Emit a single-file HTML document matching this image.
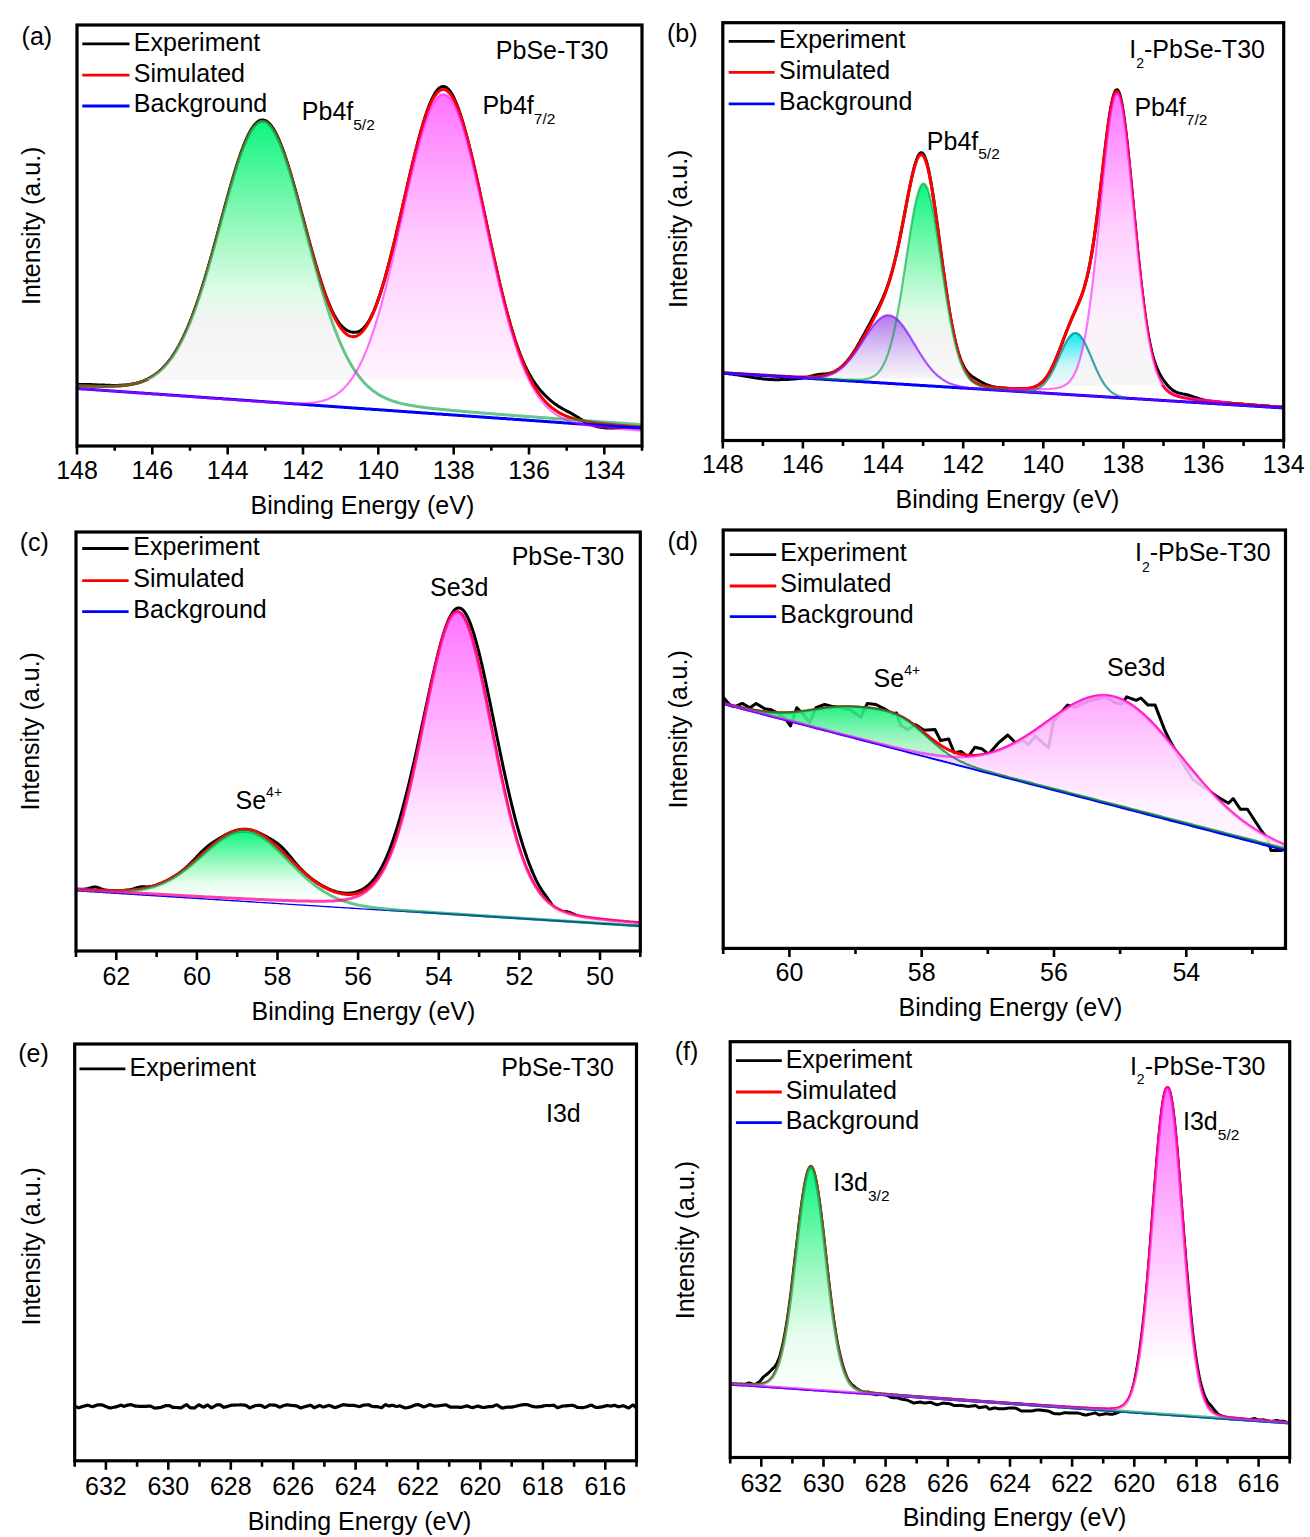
<!DOCTYPE html>
<html><head><meta charset="utf-8"><style>
html,body{margin:0;padding:0;background:#fff;}
svg{display:block;}
text{font-family:"Liberation Sans", sans-serif;fill:#000;}
</style></head><body>
<svg width="1310" height="1537" viewBox="0 0 1310 1537">
<defs><clipPath id="clip1"><rect x="77" y="25" width="565" height="421"/></clipPath><linearGradient id="g1" gradientUnits="userSpaceOnUse" x1="0" y1="121.2" x2="0" y2="380"><stop offset="0" stop-color="#00f57a" stop-opacity="0.95"/><stop offset="0.42" stop-color="#90f8b8" stop-opacity="0.92"/><stop offset="0.66" stop-color="#dcfae6" stop-opacity="0.9"/><stop offset="0.8" stop-color="#f2f2f2" stop-opacity="0.9"/><stop offset="1" stop-color="#f8f8f8" stop-opacity="0.9"/></linearGradient><linearGradient id="g2" gradientUnits="userSpaceOnUse" x1="0" y1="94.3" x2="0" y2="380"><stop offset="0" stop-color="#ff6cff" stop-opacity="0.95"/><stop offset="0.5" stop-color="#ffc4ff" stop-opacity="0.9"/><stop offset="1" stop-color="#fff4ff" stop-opacity="0.9"/></linearGradient><clipPath id="clip2"><rect x="722.8" y="22.7" width="560.9" height="417.8"/></clipPath><linearGradient id="g3" gradientUnits="userSpaceOnUse" x1="0" y1="183.6" x2="0" y2="379"><stop offset="0" stop-color="#00f57a" stop-opacity="0.95"/><stop offset="0.42" stop-color="#90f8b8" stop-opacity="0.92"/><stop offset="0.66" stop-color="#dcfae6" stop-opacity="0.9"/><stop offset="0.8" stop-color="#f2f2f2" stop-opacity="0.9"/><stop offset="1" stop-color="#f8f8f8" stop-opacity="0.9"/></linearGradient><linearGradient id="g4" gradientUnits="userSpaceOnUse" x1="0" y1="333" x2="0" y2="386"><stop offset="0" stop-color="#00e8f0" stop-opacity="0.95"/><stop offset="0.6" stop-color="#c4f5f7" stop-opacity="0.9"/><stop offset="1" stop-color="#f5f5f5" stop-opacity="0.9"/></linearGradient><linearGradient id="g5" gradientUnits="userSpaceOnUse" x1="0" y1="93.3" x2="0" y2="385"><stop offset="0" stop-color="#ff6cff" stop-opacity="0.95"/><stop offset="0.45" stop-color="#ffc8ff" stop-opacity="0.9"/><stop offset="0.75" stop-color="#faeefa" stop-opacity="0.9"/><stop offset="1" stop-color="#f5f5f5" stop-opacity="0.9"/></linearGradient><linearGradient id="g6" gradientUnits="userSpaceOnUse" x1="0" y1="315.4" x2="0" y2="378"><stop offset="0" stop-color="#b070ee" stop-opacity="0.95"/><stop offset="0.6" stop-color="#dcc8f6" stop-opacity="0.9"/><stop offset="1" stop-color="#f5f5f5" stop-opacity="0.9"/></linearGradient><clipPath id="clip3"><rect x="76" y="532" width="564.3" height="419"/></clipPath><linearGradient id="g7" gradientUnits="userSpaceOnUse" x1="0" y1="831.2" x2="0" y2="900.8"><stop offset="0" stop-color="#00f57a" stop-opacity="0.95"/><stop offset="0.45" stop-color="#90f8b8" stop-opacity="0.92"/><stop offset="0.75" stop-color="#e4fcec" stop-opacity="0.9"/><stop offset="1" stop-color="#fbfffc" stop-opacity="0.9"/></linearGradient><linearGradient id="g8" gradientUnits="userSpaceOnUse" x1="0" y1="611.7" x2="0" y2="913.6"><stop offset="0" stop-color="#ff6cff" stop-opacity="0.95"/><stop offset="0.55" stop-color="#ffcaff" stop-opacity="0.9"/><stop offset="0.85" stop-color="#ffffff" stop-opacity="0.9"/><stop offset="1" stop-color="#ffffff" stop-opacity="0.9"/></linearGradient><clipPath id="clip4"><rect x="723.2" y="530" width="562.3" height="418.4"/></clipPath><linearGradient id="g9" gradientUnits="userSpaceOnUse" x1="0" y1="710.8" x2="0" y2="745.5"><stop offset="0" stop-color="#22f080" stop-opacity="0.9"/><stop offset="1" stop-color="#a8f4c4" stop-opacity="0.85"/></linearGradient><linearGradient id="g10" gradientUnits="userSpaceOnUse" x1="0" y1="696.5" x2="0" y2="804.5"><stop offset="0" stop-color="#ffa0ff" stop-opacity="0.9"/><stop offset="1" stop-color="#fff0ff" stop-opacity="0.85"/></linearGradient><clipPath id="clip5"><rect x="74.7" y="1044" width="561.8" height="416.8"/></clipPath><clipPath id="clip6"><rect x="730.2" y="1041.7" width="559.5" height="415.8"/></clipPath><linearGradient id="g11" gradientUnits="userSpaceOnUse" x1="0" y1="1167.2" x2="0" y2="1389.6"><stop offset="0" stop-color="#00f57a" stop-opacity="0.95"/><stop offset="0.45" stop-color="#90f8b8" stop-opacity="0.92"/><stop offset="0.75" stop-color="#e4fcec" stop-opacity="0.9"/><stop offset="1" stop-color="#fbfffc" stop-opacity="0.9"/></linearGradient><linearGradient id="g12" gradientUnits="userSpaceOnUse" x1="0" y1="1087.5" x2="0" y2="1414.5"><stop offset="0" stop-color="#ff6cff" stop-opacity="0.95"/><stop offset="0.6" stop-color="#ffd0ff" stop-opacity="0.9"/><stop offset="0.85" stop-color="#ffffff" stop-opacity="0.9"/><stop offset="1" stop-color="#ffffff" stop-opacity="0.9"/></linearGradient></defs>
<rect width="1310" height="1537" fill="#fff"/>
<g clip-path="url(#clip1)">
<path d="M77 384.5L78 384.5L79 384.5L80 384.5L81 384.5L82 384.5L83 384.5L84 384.5L85 384.5L86 384.5L87 384.5L88 384.6L89 384.6L90 384.6L91 384.6L92 384.7L93 384.7L94 384.7L95 384.8L96 384.8L97 384.9L98 384.9L99 384.9L100 385L101 385L102 385.1L103 385.1L104 385.1L105 385.2L106 385.2L107 385.3L108 385.3L109 385.3L110 385.3L111 385.4L112 385.4L113 385.4L114 385.4L115 385.4L116 385.4L117 385.4L118 385.4L119 385.3L120 385.3L121 385.2L122 385.2L123 385.1L124 385L125 385L126 384.9L127 384.8L128 384.6L129 384.5L130 384.4L131 384.2L132 384L133 383.9L134 383.6L135 383.4L136 383.2L137 382.9L138 382.7L139 382.4L140 382.1L141 381.8L142 381.4L143 381.1L144 380.7L145 380.2L146 379.8L147 379.4L148 378.9L149 378.4L150 377.8L151 377.2L152 376.7L153 376L154 375.4L155 374.7L156 373.9L157 373.2L158 372.4L159 371.6L160 370.7L161 369.8L162 368.8L163 367.8L164 366.8L165 365.7L166 364.6L167 363.4L168 362.2L169 361L170 359.6L171 358.3L172 356.9L173 355.4L174 353.9L175 352.3L176 350.7L177 349L178 347.3L179 345.5L180 343.6L181 341.7L182 339.7L183 337.7L184 335.6L185 333.4L186 331.2L187 329L188 326.6L189 324.2L190 321.8L191 319.3L192 316.7L193 314L194 311.3L195 308.6L196 305.8L197 302.9L198 300L199 297L200 293.9L201 290.8L202 287.7L203 284.5L204 281.3L205 278L206 274.6L207 271.2L208 267.8L209 264.4L210 260.9L211 257.3L212 253.8L213 250.2L214 246.5L215 242.9L216 239.2L217 235.6L218 231.9L219 228.2L220 224.5L221 220.7L222 217L223 213.3L224 209.6L225 206L226 202.3L227 198.7L228 195.1L229 191.5L230 187.9L231 184.4L232 181L233 177.6L234 174.2L235 170.9L236 167.7L237 164.5L238 161.4L239 158.4L240 155.4L241 152.6L242 149.8L243 147.2L244 144.6L245 142.2L246 139.8L247 137.6L248 135.5L249 133.5L250 131.6L251 129.8L252 128.2L253 126.8L254 125.4L255 124.2L256 123.2L257 122.3L258 121.5L259 120.9L260 120.5L261 120.2L262 120L263 120L264 120.2L265 120.5L266 120.9L267 121.5L268 122.3L269 123.2L270 124.2L271 125.4L272 126.8L273 128.3L274 129.9L275 131.6L276 133.5L277 135.5L278 137.7L279 139.9L280 142.3L281 144.8L282 147.4L283 150.1L284 152.8L285 155.7L286 158.7L287 161.7L288 164.9L289 168.1L290 171.4L291 174.7L292 178.1L293 181.6L294 185.1L295 188.6L296 192.2L297 195.8L298 199.5L299 203.1L300 206.8L301 210.6L302 214.3L303 218L304 221.7L305 225.5L306 229.2L307 232.9L308 236.6L309 240.3L310 243.9L311 247.6L312 251.1L313 254.7L314 258.2L315 261.7L316 265.1L317 268.5L318 271.8L319 275.1L320 278.3L321 281.5L322 284.5L323 287.5L324 290.5L325 293.3L326 296.1L327 298.7L328 301.3L329 303.8L330 306.2L331 308.5L332 310.7L333 312.7L334 314.7L335 316.6L336 318.3L337 319.9L338 321.4L339 322.8L340 324.1L341 325.3L342 326.4L343 327.3L344 328.2L345 329L346 329.7L347 330.3L348 330.8L349 331.2L350 331.6L351 331.9L352 332.1L353 332.3L354 332.3L355 332.3L356 332.2L357 332L358 331.7L359 331.3L360 330.8L361 330.2L362 329.5L363 328.6L364 327.6L365 326.5L366 325.2L367 323.9L368 322.3L369 320.7L370 318.9L371 317L372 315L373 312.8L374 310.5L375 308.1L376 305.5L377 302.9L378 300.1L379 297.2L380 294.3L381 291.2L382 288L383 284.7L384 281.3L385 277.9L386 274.3L387 270.7L388 267L389 263.2L390 259.4L391 255.4L392 251.4L393 247.4L394 243.3L395 239.1L396 234.9L397 230.7L398 226.4L399 222.1L400 217.8L401 213.4L402 209.1L403 204.7L404 200.3L405 195.9L406 191.6L407 187.2L408 182.9L409 178.5L410 174.2L411 170L412 165.8L413 161.6L414 157.5L415 153.4L416 149.5L417 145.5L418 141.7L419 137.9L420 134.2L421 130.6L422 127.1L423 123.8L424 120.5L425 117.3L426 114.3L427 111.3L428 108.5L429 105.9L430 103.4L431 101L432 98.8L433 96.8L434 94.9L435 93.2L436 91.7L437 90.4L438 89.2L439 88.3L440 87.5L441 87L442 86.6L443 86.5L444 86.6L445 86.8L446 87.3L447 88L448 88.8L449 89.9L450 91.2L451 92.6L452 94.2L453 96L454 98L455 100.2L456 102.5L457 105L458 107.6L459 110.4L460 113.3L461 116.4L462 119.5L463 122.8L464 126.3L465 129.8L466 133.5L467 137.2L468 141.1L469 145L470 149L471 153.2L472 157.3L473 161.6L474 165.9L475 170.3L476 174.8L477 179.3L478 183.8L479 188.4L480 193L481 197.7L482 202.3L483 207L484 211.7L485 216.4L486 221.1L487 225.8L488 230.5L489 235.2L490 239.9L491 244.5L492 249.1L493 253.7L494 258.2L495 262.7L496 267.2L497 271.6L498 276L499 280.3L500 284.5L501 288.7L502 292.9L503 296.9L504 300.9L505 304.8L506 308.7L507 312.4L508 316.1L509 319.7L510 323.2L511 326.7L512 330L513 333.3L514 336.5L515 339.6L516 342.6L517 345.5L518 348.3L519 351.1L520 353.7L521 356.2L522 358.7L523 361.1L524 363.4L525 365.6L526 367.7L527 369.7L528 371.7L529 373.5L530 375.3L531 377.1L532 378.7L533 380.3L534 381.8L535 383.3L536 384.7L537 386L538 387.3L539 388.6L540 389.8L541 390.9L542 392.1L543 393.1L544 394.2L545 395.2L546 396.2L547 397.2L548 398.1L549 399L550 399.9L551 400.8L552 401.6L553 402.4L554 403.2L555 403.9L556 404.6L557 405.3L558 406L559 406.6L560 407.2L561 407.8L562 408.4L563 409L564 409.5L565 410L566 410.6L567 411.1L568 411.6L569 412.2L570 412.7L571 413.2L572 413.8L573 414.4L574 415L575 415.6L576 416.2L577 416.8L578 417.4L579 418L580 418.7L581 419.3L582 419.9L583 420.5L584 421.1L585 421.6L586 422.2L587 422.7L588 423.2L589 423.7L590 424.1L591 424.5L592 424.9L593 425.3L594 425.6L595 425.9L596 426.2L597 426.5L598 426.7L599 427L600 427.1L601 427.3L602 427.5L603 427.6L604 427.7L605 427.8L606 427.9L607 427.9L608 427.9L609 428L610 428L611 428L612 427.9L613 427.9L614 427.9L615 427.8L616 427.8L617 427.7L618 427.7L619 427.6L620 427.5L621 427.5L622 427.4L623 427.3L624 427.3L625 427.2L626 427.2L627 427.1L628 427.1L629 427.1L630 427.1L631 427L632 427L633 427L634 427L635 427L636 427.1L637 427.1L638 427.1L639 427.1L640 427.2L641 427.2L642 427.3L643 427.3" fill="none" stroke="#000" stroke-width="3" stroke-linejoin="round"/>
<path d="M77 385.7L78 385.7L79 385.8L80 385.8L81 385.8L82 385.9L83 385.9L84 385.9L85 386L86 386L87 386L88 386.1L89 386.1L90 386.1L91 386.2L92 386.2L93 386.2L94 386.2L95 386.3L96 386.3L97 386.3L98 386.3L99 386.3L100 386.3L101 386.4L102 386.4L103 386.4L104 386.4L105 386.4L106 386.4L107 386.4L108 386.3L109 386.3L110 386.3L111 386.3L112 386.3L113 386.2L114 386.2L115 386.2L116 386.1L117 386.1L118 386L119 385.9L120 385.9L121 385.8L122 385.7L123 385.6L124 385.5L125 385.4L126 385.3L127 385.2L128 385L129 384.9L130 384.7L131 384.5L132 384.3L133 384.1L134 383.9L135 383.7L136 383.5L137 383.2L138 382.9L139 382.7L140 382.3L141 382L142 381.7L143 381.3L144 380.9L145 380.5L146 380.1L147 379.6L148 379.1L149 378.6L150 378.1L151 377.5L152 376.9L153 376.3L154 375.7L155 375L156 374.3L157 373.5L158 372.7L159 371.9L160 371L161 370.1L162 369.2L163 368.2L164 367.2L165 366.1L166 365L167 363.9L168 362.7L169 361.4L170 360.1L171 358.8L172 357.4L173 355.9L174 354.4L175 352.8L176 351.2L177 349.5L178 347.8L179 346L180 344.2L181 342.3L182 340.3L183 338.3L184 336.2L185 334.1L186 331.9L187 329.6L188 327.3L189 324.9L190 322.5L191 320L192 317.4L193 314.8L194 312.1L195 309.4L196 306.6L197 303.7L198 300.8L199 297.8L200 294.8L201 291.7L202 288.6L203 285.4L204 282.2L205 278.9L206 275.6L207 272.2L208 268.8L209 265.4L210 261.9L211 258.4L212 254.8L213 251.2L214 247.6L215 244L216 240.4L217 236.7L218 233L219 229.3L220 225.6L221 221.9L222 218.2L223 214.6L224 210.9L225 207.2L226 203.6L227 199.9L228 196.3L229 192.8L230 189.2L231 185.7L232 182.3L233 178.9L234 175.5L235 172.2L236 169L237 165.9L238 162.8L239 159.8L240 156.8L241 154L242 151.3L243 148.6L244 146L245 143.6L246 141.3L247 139L248 136.9L249 134.9L250 133.1L251 131.3L252 129.7L253 128.2L254 126.9L255 125.7L256 124.7L257 123.8L258 123L259 122.4L260 122L261 121.7L262 121.5L263 121.5L264 121.7L265 122L266 122.4L267 123L268 123.8L269 124.7L270 125.7L271 126.9L272 128.3L273 129.7L274 131.4L275 133.1L276 135L277 137L278 139.1L279 141.4L280 143.7L281 146.2L282 148.8L283 151.5L284 154.2L285 157.1L286 160.1L287 163.1L288 166.2L289 169.4L290 172.7L291 176L292 179.4L293 182.9L294 186.4L295 189.9L296 193.5L297 197.1L298 200.7L299 204.4L300 208.1L301 211.8L302 215.5L303 219.2L304 222.9L305 226.6L306 230.3L307 234L308 237.7L309 241.4L310 245L311 248.6L312 252.2L313 255.8L314 259.3L315 262.7L316 266.1L317 269.5L318 272.8L319 276.1L320 279.3L321 282.4L322 285.5L323 288.5L324 291.4L325 294.3L326 297.1L327 299.8L328 302.4L329 305L330 307.4L331 309.8L332 312.1L333 314.3L334 316.4L335 318.4L336 320.3L337 322.1L338 323.8L339 325.4L340 326.9L341 328.4L342 329.6L343 330.8L344 331.9L345 332.9L346 333.8L347 334.5L348 335.2L349 335.7L350 336.1L351 336.4L352 336.6L353 336.7L354 336.6L355 336.5L356 336.2L357 335.8L358 335.3L359 334.6L360 333.9L361 333L362 332L363 330.9L364 329.7L365 328.3L366 326.9L367 325.3L368 323.6L369 321.8L370 319.9L371 317.8L372 315.7L373 313.4L374 311L375 308.6L376 306L377 303.3L378 300.5L379 297.5L380 294.5L381 291.4L382 288.2L383 284.9L384 281.6L385 278.1L386 274.5L387 270.9L388 267.2L389 263.4L390 259.5L391 255.6L392 251.6L393 247.5L394 243.4L395 239.3L396 235.1L397 230.8L398 226.6L399 222.2L400 217.9L401 213.6L402 209.2L403 204.8L404 200.4L405 196L406 191.7L407 187.3L408 183L409 178.7L410 174.4L411 170.1L412 166L413 161.8L414 157.7L415 153.7L416 149.7L417 145.9L418 142.1L419 138.4L420 134.8L421 131.2L422 127.8L423 124.5L424 121.4L425 118.3L426 115.4L427 112.6L428 110L429 107.4L430 105.1L431 102.9L432 100.8L433 98.9L434 97.2L435 95.7L436 94.3L437 93.1L438 92L439 91.2L440 90.5L441 90L442 89.7L443 89.5L444 89.6L445 89.8L446 90.2L447 90.8L448 91.6L449 92.6L450 93.7L451 95L452 96.5L453 98.2L454 100L455 102L456 104.2L457 106.5L458 109L459 111.6L460 114.4L461 117.3L462 120.4L463 123.6L464 126.9L465 130.4L466 133.9L467 137.6L468 141.4L469 145.3L470 149.3L471 153.4L472 157.5L473 161.7L474 166.1L475 170.4L476 174.9L477 179.3L478 183.9L479 188.4L480 193L481 197.7L482 202.4L483 207L484 211.7L485 216.4L486 221.1L487 225.8L488 230.5L489 235.2L490 239.9L491 244.5L492 249.1L493 253.7L494 258.3L495 262.8L496 267.2L497 271.7L498 276L499 280.3L500 284.6L501 288.8L502 293L503 297L504 301L505 305L506 308.9L507 312.7L508 316.4L509 320L510 323.6L511 327.1L512 330.5L513 333.9L514 337.1L515 340.3L516 343.4L517 346.4L518 349.4L519 352.2L520 355L521 357.7L522 360.3L523 362.9L524 365.3L525 367.7L526 370L527 372.3L528 374.4L529 376.5L530 378.5L531 380.5L532 382.4L533 384.2L534 385.9L535 387.6L536 389.2L537 390.8L538 392.3L539 393.7L540 395.1L541 396.4L542 397.7L543 398.9L544 400.1L545 401.2L546 402.3L547 403.3L548 404.3L549 405.2L550 406.1L551 407L552 407.8L553 408.6L554 409.3L555 410L556 410.7L557 411.3L558 412L559 412.6L560 413.1L561 413.7L562 414.2L563 414.7L564 415.1L565 415.6L566 416L567 416.4L568 416.8L569 417.1L570 417.5L571 417.8L572 418.1L573 418.4L574 418.7L575 419L576 419.3L577 419.5L578 419.8L579 420L580 420.2L581 420.4L582 420.6L583 420.8L584 421L585 421.2L586 421.4L587 421.5L588 421.7L589 421.9L590 422L591 422.2L592 422.3L593 422.4L594 422.6L595 422.7L596 422.8L597 423L598 423.1L599 423.2L600 423.3L601 423.4L602 423.5L603 423.6L604 423.7L605 423.8L606 424L607 424.1L608 424.1L609 424.2L610 424.3L611 424.4L612 424.5L613 424.6L614 424.7L615 424.8L616 424.9L617 425L618 425.1L619 425.2L620 425.2L621 425.3L622 425.4L623 425.5L624 425.6L625 425.7L626 425.8L627 425.8L628 425.9L629 426L630 426.1L631 426.2L632 426.3L633 426.3L634 426.4L635 426.5L636 426.6L637 426.7L638 426.7L639 426.8L640 426.9L641 427L642 427.1L643 427.1" fill="none" stroke="#ff0000" stroke-width="3" stroke-linejoin="round"/>
<path d="M77 388.5L78 388.6L79 388.6L80 388.7L81 388.8L82 388.9L83 388.9L84 389L85 389.1L86 389.1L87 389.2L88 389.3L89 389.3L90 389.4L91 389.5L92 389.6L93 389.6L94 389.7L95 389.8L96 389.8L97 389.9L98 390L99 390L100 390.1L101 390.2L102 390.3L103 390.3L104 390.4L105 390.5L106 390.5L107 390.6L108 390.7L109 390.8L110 390.8L111 390.9L112 391L113 391L114 391.1L115 391.2L116 391.2L117 391.3L118 391.4L119 391.5L120 391.5L121 391.6L122 391.7L123 391.7L124 391.8L125 391.9L126 392L127 392L128 392.1L129 392.2L130 392.2L131 392.3L132 392.4L133 392.4L134 392.5L135 392.6L136 392.7L137 392.7L138 392.8L139 392.9L140 392.9L141 393L142 393.1L143 393.1L144 393.2L145 393.3L146 393.4L147 393.4L148 393.5L149 393.6L150 393.6L151 393.7L152 393.8L153 393.9L154 393.9L155 394L156 394.1L157 394.1L158 394.2L159 394.3L160 394.3L161 394.4L162 394.5L163 394.6L164 394.6L165 394.7L166 394.8L167 394.8L168 394.9L169 395L170 395.1L171 395.1L172 395.2L173 395.3L174 395.3L175 395.4L176 395.5L177 395.5L178 395.6L179 395.7L180 395.8L181 395.8L182 395.9L183 396L184 396L185 396.1L186 396.2L187 396.2L188 396.3L189 396.4L190 396.5L191 396.5L192 396.6L193 396.7L194 396.7L195 396.8L196 396.9L197 397L198 397L199 397.1L200 397.2L201 397.2L202 397.3L203 397.4L204 397.4L205 397.5L206 397.6L207 397.7L208 397.7L209 397.8L210 397.9L211 397.9L212 398L213 398.1L214 398.2L215 398.2L216 398.3L217 398.4L218 398.4L219 398.5L220 398.6L221 398.6L222 398.7L223 398.8L224 398.9L225 398.9L226 399L227 399.1L228 399.1L229 399.2L230 399.3L231 399.3L232 399.4L233 399.5L234 399.6L235 399.6L236 399.7L237 399.8L238 399.8L239 399.9L240 400L241 400.1L242 400.1L243 400.2L244 400.3L245 400.3L246 400.4L247 400.5L248 400.5L249 400.6L250 400.7L251 400.8L252 400.8L253 400.9L254 401L255 401L256 401.1L257 401.2L258 401.3L259 401.3L260 401.4L261 401.5L262 401.5L263 401.6L264 401.7L265 401.7L266 401.8L267 401.9L268 402L269 402L270 402.1L271 402.2L272 402.2L273 402.3L274 402.4L275 402.4L276 402.5L277 402.6L278 402.7L279 402.7L280 402.8L281 402.9L282 402.9L283 403L284 403.1L285 403.2L286 403.2L287 403.3L288 403.4L289 403.4L290 403.5L291 403.6L292 403.6L293 403.7L294 403.8L295 403.9L296 403.9L297 404L298 404.1L299 404.1L300 404.2L301 404.3L302 404.3L303 404.4L304 404.5L305 404.6L306 404.6L307 404.7L308 404.8L309 404.8L310 404.9L311 405L312 405.1L313 405.1L314 405.2L315 405.3L316 405.3L317 405.4L318 405.5L319 405.5L320 405.6L321 405.7L322 405.8L323 405.8L324 405.9L325 406L326 406L327 406.1L328 406.2L329 406.3L330 406.3L331 406.4L332 406.5L333 406.5L334 406.6L335 406.7L336 406.7L337 406.8L338 406.9L339 407L340 407L341 407.1L342 407.2L343 407.2L344 407.3L345 407.4L346 407.4L347 407.5L348 407.6L349 407.7L350 407.7L351 407.8L352 407.9L353 407.9L354 408L355 408.1L356 408.2L357 408.2L358 408.3L359 408.4L360 408.4L361 408.5L362 408.6L363 408.6L364 408.7L365 408.8L366 408.9L367 408.9L368 409L369 409.1L370 409.1L371 409.2L372 409.3L373 409.4L374 409.4L375 409.5L376 409.6L377 409.6L378 409.7L379 409.8L380 409.8L381 409.9L382 410L383 410.1L384 410.1L385 410.2L386 410.3L387 410.3L388 410.4L389 410.5L390 410.5L391 410.6L392 410.7L393 410.8L394 410.8L395 410.9L396 411L397 411L398 411.1L399 411.2L400 411.3L401 411.3L402 411.4L403 411.5L404 411.5L405 411.6L406 411.7L407 411.7L408 411.8L409 411.9L410 412L411 412L412 412.1L413 412.2L414 412.2L415 412.3L416 412.4L417 412.5L418 412.5L419 412.6L420 412.7L421 412.7L422 412.8L423 412.9L424 412.9L425 413L426 413.1L427 413.2L428 413.2L429 413.3L430 413.4L431 413.4L432 413.5L433 413.6L434 413.6L435 413.7L436 413.8L437 413.9L438 413.9L439 414L440 414.1L441 414.1L442 414.2L443 414.3L444 414.4L445 414.4L446 414.5L447 414.6L448 414.6L449 414.7L450 414.8L451 414.8L452 414.9L453 415L454 415.1L455 415.1L456 415.2L457 415.3L458 415.3L459 415.4L460 415.5L461 415.5L462 415.6L463 415.7L464 415.8L465 415.8L466 415.9L467 416L468 416L469 416.1L470 416.2L471 416.3L472 416.3L473 416.4L474 416.5L475 416.5L476 416.6L477 416.7L478 416.7L479 416.8L480 416.9L481 417L482 417L483 417.1L484 417.2L485 417.2L486 417.3L487 417.4L488 417.5L489 417.5L490 417.6L491 417.7L492 417.7L493 417.8L494 417.9L495 417.9L496 418L497 418.1L498 418.2L499 418.2L500 418.3L501 418.4L502 418.4L503 418.5L504 418.6L505 418.6L506 418.7L507 418.8L508 418.9L509 418.9L510 419L511 419.1L512 419.1L513 419.2L514 419.3L515 419.4L516 419.4L517 419.5L518 419.6L519 419.6L520 419.7L521 419.8L522 419.8L523 419.9L524 420L525 420.1L526 420.1L527 420.2L528 420.3L529 420.3L530 420.4L531 420.5L532 420.6L533 420.6L534 420.7L535 420.8L536 420.8L537 420.9L538 421L539 421L540 421.1L541 421.2L542 421.3L543 421.3L544 421.4L545 421.5L546 421.5L547 421.6L548 421.7L549 421.7L550 421.8L551 421.9L552 422L553 422L554 422.1L555 422.2L556 422.2L557 422.3L558 422.4L559 422.5L560 422.5L561 422.6L562 422.7L563 422.7L564 422.8L565 422.9L566 422.9L567 423L568 423.1L569 423.2L570 423.2L571 423.3L572 423.4L573 423.4L574 423.5L575 423.6L576 423.7L577 423.7L578 423.8L579 423.9L580 423.9L581 424L582 424.1L583 424.1L584 424.2L585 424.3L586 424.4L587 424.4L588 424.5L589 424.6L590 424.6L591 424.7L592 424.8L593 424.8L594 424.9L595 425L596 425.1L597 425.1L598 425.2L599 425.3L600 425.3L601 425.4L602 425.5L603 425.6L604 425.6L605 425.7L606 425.8L607 425.8L608 425.9L609 426L610 426L611 426.1L612 426.2L613 426.3L614 426.3L615 426.4L616 426.5L617 426.5L618 426.6L619 426.7L620 426.8L621 426.8L622 426.9L623 427L624 427L625 427.1L626 427.2L627 427.2L628 427.3L629 427.4L630 427.5L631 427.5L632 427.6L633 427.7L634 427.7L635 427.8L636 427.9L637 427.9L638 428L639 428.1L640 428.2L641 428.2L642 428.3L643 428.4" fill="none" stroke="#0000ff" stroke-width="3"/>
<path d="M147 379.5L148 379L149 378.5L150 378L151 377.4L152 376.8L153 376.2L154 375.5L155 374.8L156 374.1L157 373.4L158 372.6L159 371.8L160 370.9L161 370L162 369L163 368.1L164 367L165 366L166 364.8L167 363.7L168 362.5L169 361.2L170 359.9L171 358.6L172 357.2L173 355.7L174 354.2L175 352.6L176 351L177 349.3L178 347.6L179 345.8L180 344L181 342.1L182 340.1L183 338.1L184 336L185 333.9L186 331.7L187 329.4L188 327.1L189 324.7L190 322.3L191 319.8L192 317.2L193 314.6L194 311.9L195 309.1L196 306.3L197 303.5L198 300.6L199 297.6L200 294.5L201 291.5L202 288.3L203 285.1L204 281.9L205 278.6L206 275.3L207 271.9L208 268.5L209 265.1L210 261.6L211 258.1L212 254.5L213 250.9L214 247.3L215 243.7L216 240L217 236.4L218 232.7L219 229L220 225.3L221 221.6L222 217.9L223 214.2L224 210.6L225 206.9L226 203.2L227 199.6L228 196L229 192.4L230 188.9L231 185.4L232 182L233 178.6L234 175.2L235 171.9L236 168.7L237 165.5L238 162.5L239 159.4L240 156.5L241 153.7L242 150.9L243 148.3L244 145.7L245 143.3L246 140.9L247 138.7L248 136.6L249 134.6L250 132.7L251 131L252 129.4L253 127.9L254 126.6L255 125.4L256 124.4L257 123.5L258 122.7L259 122.1L260 121.7L261 121.4L262 121.2L263 121.2L264 121.4L265 121.7L266 122.1L267 122.8L268 123.5L269 124.4L270 125.5L271 126.7L272 128L273 129.5L274 131.2L275 132.9L276 134.8L277 136.8L278 139L279 141.2L280 143.6L281 146.1L282 148.7L283 151.4L284 154.2L285 157.1L286 160.1L287 163.2L288 166.3L289 169.6L290 172.9L291 176.2L292 179.7L293 183.2L294 186.7L295 190.3L296 193.9L297 197.6L298 201.3L299 205L300 208.8L301 212.6L302 216.4L303 220.2L304 224L305 227.8L306 231.7L307 235.5L308 239.3L309 243.1L310 246.9L311 250.7L312 254.4L313 258.2L314 261.9L315 265.6L316 269.2L317 272.8L318 276.4L319 279.9L320 283.4L321 286.9L322 290.3L323 293.6L324 296.9L325 300.2L326 303.4L327 306.5L328 309.6L329 312.7L330 315.6L331 318.6L332 321.4L333 324.2L334 327L335 329.7L336 332.3L337 334.8L338 337.3L339 339.8L340 342.2L341 344.5L342 346.7L343 348.9L344 351.1L345 353.2L346 355.2L347 357.1L348 359L349 360.9L350 362.7L351 364.4L352 366.1L353 367.7L354 369.3L355 370.8L356 372.3L357 373.7L358 375.1L359 376.4L360 377.7L361 379L361 380L357 380L351 380L345 380L339 380L333 380L327 380L321 380L315 380L309 380L303 380L297 380L291 380L285 380L279 380L273 380L267 380L261 380L255 380L249 380L243 380L237 380L231 380L225 380L219 380L213 380L207 380L201 380L195 380L189 380L183 380L177 380L171 380L165 380L159 380L153 380L147 380Z" fill="url(#g1)"/>
<path d="M352 378.4L353 376.9L354 375.3L355 373.7L356 372L357 370.3L358 368.5L359 366.6L360 364.6L361 362.6L362 360.4L363 358.3L364 356L365 353.7L366 351.2L367 348.8L368 346.2L369 343.5L370 340.8L371 338L372 335.1L373 332.1L374 329L375 325.9L376 322.7L377 319.4L378 316L379 312.6L380 309.1L381 305.5L382 301.8L383 298.1L384 294.3L385 290.4L386 286.4L387 282.4L388 278.4L389 274.2L390 270.1L391 265.8L392 261.5L393 257.2L394 252.9L395 248.5L396 244L397 239.6L398 235.1L399 230.6L400 226L401 221.5L402 216.9L403 212.4L404 207.9L405 203.3L406 198.8L407 194.3L408 189.9L409 185.4L410 181.1L411 176.7L412 172.4L413 168.2L414 164L415 159.9L416 155.8L417 151.9L418 148L419 144.2L420 140.5L421 137L422 133.5L423 130.1L424 126.9L425 123.8L426 120.8L427 118L428 115.3L429 112.7L430 110.3L431 108.1L432 106L433 104L434 102.3L435 100.7L436 99.3L437 98L438 96.9L439 96L440 95.3L441 94.8L442 94.4L443 94.3L444 94.3L445 94.5L446 94.9L447 95.5L448 96.2L449 97.2L450 98.3L451 99.6L452 101.1L453 102.7L454 104.5L455 106.5L456 108.6L457 110.9L458 113.4L459 116L460 118.8L461 121.7L462 124.8L463 127.9L464 131.2L465 134.7L466 138.2L467 141.9L468 145.7L469 149.5L470 153.5L471 157.6L472 161.7L473 165.9L474 170.2L475 174.6L476 179L477 183.5L478 188L479 192.5L480 197.1L481 201.8L482 206.4L483 211.1L484 215.8L485 220.5L486 225.2L487 229.9L488 234.5L489 239.2L490 243.9L491 248.5L492 253.1L493 257.7L494 262.2L495 266.7L496 271.2L497 275.6L498 279.9L499 284.3L500 288.5L501 292.7L502 296.8L503 300.9L504 304.9L505 308.8L506 312.7L507 316.5L508 320.2L509 323.9L510 327.4L511 330.9L512 334.3L513 337.7L514 340.9L515 344.1L516 347.2L517 350.2L518 353.1L519 356L520 358.8L521 361.5L522 364.1L523 366.6L524 369.1L525 371.4L526 373.8L527 376L528 378.1L528 380L526 380L520 380L514 380L508 380L502 380L496 380L490 380L484 380L478 380L472 380L466 380L460 380L454 380L448 380L442 380L436 380L430 380L424 380L418 380L412 380L406 380L400 380L394 380L388 380L382 380L376 380L370 380L364 380L358 380L352 380Z" fill="url(#g2)"/>
<path d="M77 385.9L78 385.9L79 385.9L80 386L81 386L82 386L83 386.1L84 386.1L85 386.1L86 386.1L87 386.2L88 386.2L89 386.2L90 386.3L91 386.3L92 386.3L93 386.3L94 386.3L95 386.4L96 386.4L97 386.4L98 386.4L99 386.4L100 386.4L101 386.4L102 386.4L103 386.4L104 386.4L105 386.4L106 386.4L107 386.4L108 386.4L109 386.4L110 386.3L111 386.3L112 386.3L113 386.3L114 386.2L115 386.2L116 386.1L117 386.1L118 386L119 385.9L120 385.9L121 385.8L122 385.7L123 385.6L124 385.5L125 385.4L126 385.2L127 385.1L128 385L129 384.8L130 384.7L131 384.5L132 384.3L133 384.1L134 383.9L135 383.6L136 383.4L137 383.1L138 382.9L139 382.6L140 382.3L141 381.9L142 381.6L143 381.2L144 380.8L145 380.4L146 380L147 379.5L148 379L149 378.5L150 378L151 377.4L152 376.8L153 376.2L154 375.5L155 374.8L156 374.1L157 373.4L158 372.6L159 371.8L160 370.9L161 370L162 369L163 368.1L164 367L165 366L166 364.8L167 363.7L168 362.5L169 361.2L170 359.9L171 358.6L172 357.2L173 355.7L174 354.2L175 352.6L176 351L177 349.3L178 347.6L179 345.8L180 344L181 342.1L182 340.1L183 338.1L184 336L185 333.9L186 331.7L187 329.4L188 327.1L189 324.7L190 322.3L191 319.8L192 317.2L193 314.6L194 311.9L195 309.1L196 306.3L197 303.5L198 300.6L199 297.6L200 294.5L201 291.5L202 288.3L203 285.1L204 281.9L205 278.6L206 275.3L207 271.9L208 268.5L209 265.1L210 261.6L211 258.1L212 254.5L213 250.9L214 247.3L215 243.7L216 240L217 236.4L218 232.7L219 229L220 225.3L221 221.6L222 217.9L223 214.2L224 210.6L225 206.9L226 203.2L227 199.6L228 196L229 192.4L230 188.9L231 185.4L232 182L233 178.6L234 175.2L235 171.9L236 168.7L237 165.5L238 162.5L239 159.4L240 156.5L241 153.7L242 150.9L243 148.3L244 145.7L245 143.3L246 140.9L247 138.7L248 136.6L249 134.6L250 132.7L251 131L252 129.4L253 127.9L254 126.6L255 125.4L256 124.4L257 123.5L258 122.7L259 122.1L260 121.7L261 121.4L262 121.2L263 121.2L264 121.4L265 121.7L266 122.1L267 122.8L268 123.5L269 124.4L270 125.5L271 126.7L272 128L273 129.5L274 131.2L275 132.9L276 134.8L277 136.8L278 139L279 141.2L280 143.6L281 146.1L282 148.7L283 151.4L284 154.2L285 157.1L286 160.1L287 163.2L288 166.3L289 169.6L290 172.9L291 176.2L292 179.7L293 183.2L294 186.7L295 190.3L296 193.9L297 197.6L298 201.3L299 205L300 208.8L301 212.6L302 216.4L303 220.2L304 224L305 227.8L306 231.7L307 235.5L308 239.3L309 243.1L310 246.9L311 250.7L312 254.4L313 258.2L314 261.9L315 265.6L316 269.2L317 272.8L318 276.4L319 279.9L320 283.4L321 286.9L322 290.3L323 293.6L324 296.9L325 300.2L326 303.4L327 306.5L328 309.6L329 312.7L330 315.6L331 318.6L332 321.4L333 324.2L334 327L335 329.7L336 332.3L337 334.8L338 337.3L339 339.8L340 342.2L341 344.5L342 346.7L343 348.9L344 351.1L345 353.2L346 355.2L347 357.1L348 359L349 360.9L350 362.7L351 364.4L352 366.1L353 367.7L354 369.3L355 370.8L356 372.3L357 373.7L358 375.1L359 376.4L360 377.7L361 379L362 380.1L363 381.3L364 382.4L365 383.5L366 384.5L367 385.5L368 386.4L369 387.3L370 388.2L371 389.1L372 389.9L373 390.7L374 391.4L375 392.1L376 392.8L377 393.5L378 394.1L379 394.7L380 395.3L381 395.9L382 396.4L383 396.9L384 397.4L385 397.9L386 398.4L387 398.8L388 399.2L389 399.6L390 400L391 400.4L392 400.7L393 401.1L394 401.4L395 401.7L396 402L397 402.3L398 402.6L399 402.9L400 403.1L401 403.4L402 403.6L403 403.9L404 404.1L405 404.3L406 404.5L407 404.7L408 404.9L409 405.1L410 405.3L411 405.5L412 405.6L413 405.8L414 406L415 406.1L416 406.3L417 406.4L418 406.6L419 406.7L420 406.9L421 407L422 407.1L423 407.3L424 407.4L425 407.5L426 407.7L427 407.8L428 407.9L429 408L430 408.1L431 408.3L432 408.4L433 408.5L434 408.6L435 408.7L436 408.8L437 408.9L438 409L439 409.1L440 409.2L441 409.3L442 409.4L443 409.5L444 409.6L445 409.7L446 409.8L447 409.9L448 410L449 410.1L450 410.2L451 410.3L452 410.4L453 410.5L454 410.6L455 410.6L456 410.7L457 410.8L458 410.9L459 411L460 411.1L461 411.2L462 411.3L463 411.4L464 411.4L465 411.5L466 411.6L467 411.7L468 411.8L469 411.9L470 412L471 412L472 412.1L473 412.2L474 412.3L475 412.4L476 412.5L477 412.5L478 412.6L479 412.7L480 412.8L481 412.9L482 413L483 413L484 413.1L485 413.2L486 413.3L487 413.4L488 413.4L489 413.5L490 413.6L491 413.7L492 413.8L493 413.8L494 413.9L495 414L496 414.1L497 414.2L498 414.2L499 414.3L500 414.4L501 414.5L502 414.6L503 414.6L504 414.7L505 414.8L506 414.9L507 414.9L508 415L509 415.1L510 415.2L511 415.3L512 415.3L513 415.4L514 415.5L515 415.6L516 415.6L517 415.7L518 415.8L519 415.9L520 415.9L521 416L522 416.1L523 416.2L524 416.2L525 416.3L526 416.4L527 416.5L528 416.5L529 416.6L530 416.7L531 416.8L532 416.8L533 416.9L534 417L535 417.1L536 417.1L537 417.2L538 417.3L539 417.4L540 417.4L541 417.5L542 417.6L543 417.7L544 417.7L545 417.8L546 417.9L547 417.9L548 418L549 418.1L550 418.2L551 418.2L552 418.3L553 418.4L554 418.5L555 418.5L556 418.6L557 418.7L558 418.7L559 418.8L560 418.9L561 419L562 419L563 419.1L564 419.2L565 419.2L566 419.3L567 419.4L568 419.5L569 419.5L570 419.6L571 419.7L572 419.8L573 419.8L574 419.9L575 420L576 420L577 420.1L578 420.2L579 420.2L580 420.3L581 420.4L582 420.5L583 420.5L584 420.6L585 420.7L586 420.7L587 420.8L588 420.9L589 421L590 421L591 421.1L592 421.2L593 421.2L594 421.3L595 421.4L596 421.4L597 421.5L598 421.6L599 421.7L600 421.7L601 421.8L602 421.9L603 421.9L604 422L605 422.1L606 422.1L607 422.2L608 422.3L609 422.4L610 422.4L611 422.5L612 422.6L613 422.6L614 422.7L615 422.8L616 422.8L617 422.9L618 423L619 423.1L620 423.1L621 423.2L622 423.3L623 423.3L624 423.4L625 423.5L626 423.5L627 423.6L628 423.7L629 423.7L630 423.8L631 423.9L632 423.9L633 424L634 424.1L635 424.2L636 424.2L637 424.3L638 424.4L639 424.4L640 424.5L641 424.6L642 424.6L643 424.7" fill="none" stroke="#00a040" stroke-width="3" stroke-opacity="0.6"/>
<path d="M77 388.3L78 388.4L79 388.5L80 388.6L81 388.6L82 388.7L83 388.8L84 388.9L85 388.9L86 389L87 389.1L88 389.1L89 389.2L90 389.3L91 389.4L92 389.4L93 389.5L94 389.6L95 389.7L96 389.7L97 389.8L98 389.9L99 390L100 390L101 390.1L102 390.2L103 390.3L104 390.3L105 390.4L106 390.5L107 390.6L108 390.6L109 390.7L110 390.8L111 390.9L112 390.9L113 391L114 391.1L115 391.2L116 391.2L117 391.3L118 391.4L119 391.5L120 391.5L121 391.6L122 391.7L123 391.8L124 391.8L125 391.9L126 392L127 392.1L128 392.1L129 392.2L130 392.3L131 392.4L132 392.4L133 392.5L134 392.6L135 392.7L136 392.7L137 392.8L138 392.9L139 392.9L140 393L141 393.1L142 393.2L143 393.2L144 393.3L145 393.4L146 393.5L147 393.5L148 393.6L149 393.7L150 393.8L151 393.8L152 393.9L153 394L154 394.1L155 394.1L156 394.2L157 394.3L158 394.4L159 394.4L160 394.5L161 394.6L162 394.6L163 394.7L164 394.8L165 394.9L166 394.9L167 395L168 395.1L169 395.2L170 395.2L171 395.3L172 395.4L173 395.5L174 395.5L175 395.6L176 395.7L177 395.8L178 395.8L179 395.9L180 396L181 396L182 396.1L183 396.2L184 396.3L185 396.3L186 396.4L187 396.5L188 396.6L189 396.6L190 396.7L191 396.8L192 396.9L193 396.9L194 397L195 397.1L196 397.1L197 397.2L198 397.3L199 397.4L200 397.4L201 397.5L202 397.6L203 397.7L204 397.7L205 397.8L206 397.9L207 397.9L208 398L209 398.1L210 398.2L211 398.2L212 398.3L213 398.4L214 398.4L215 398.5L216 398.6L217 398.7L218 398.7L219 398.8L220 398.9L221 399L222 399L223 399.1L224 399.2L225 399.2L226 399.3L227 399.4L228 399.5L229 399.5L230 399.6L231 399.7L232 399.7L233 399.8L234 399.9L235 400L236 400L237 400.1L238 400.2L239 400.2L240 400.3L241 400.4L242 400.4L243 400.5L244 400.6L245 400.7L246 400.7L247 400.8L248 400.9L249 400.9L250 401L251 401.1L252 401.1L253 401.2L254 401.3L255 401.3L256 401.4L257 401.5L258 401.6L259 401.6L260 401.7L261 401.8L262 401.8L263 401.9L264 402L265 402L266 402.1L267 402.1L268 402.2L269 402.3L270 402.3L271 402.4L272 402.5L273 402.5L274 402.6L275 402.6L276 402.7L277 402.7L278 402.8L279 402.9L280 402.9L281 403L282 403L283 403.1L284 403.1L285 403.2L286 403.2L287 403.2L288 403.3L289 403.3L290 403.3L291 403.4L292 403.4L293 403.4L294 403.4L295 403.5L296 403.5L297 403.5L298 403.5L299 403.5L300 403.5L301 403.5L302 403.4L303 403.4L304 403.4L305 403.3L306 403.3L307 403.2L308 403.2L309 403.1L310 403L311 402.9L312 402.8L313 402.7L314 402.6L315 402.4L316 402.3L317 402.1L318 401.9L319 401.7L320 401.5L321 401.2L322 401L323 400.7L324 400.4L325 400.1L326 399.8L327 399.4L328 399L329 398.6L330 398.1L331 397.6L332 397.1L333 396.6L334 396L335 395.4L336 394.8L337 394.1L338 393.4L339 392.6L340 391.8L341 391L342 390.1L343 389.1L344 388.2L345 387.1L346 386L347 384.9L348 383.7L349 382.5L350 381.2L351 379.8L352 378.4L353 376.9L354 375.3L355 373.7L356 372L357 370.3L358 368.5L359 366.6L360 364.6L361 362.6L362 360.4L363 358.3L364 356L365 353.7L366 351.2L367 348.8L368 346.2L369 343.5L370 340.8L371 338L372 335.1L373 332.1L374 329L375 325.9L376 322.7L377 319.4L378 316L379 312.6L380 309.1L381 305.5L382 301.8L383 298.1L384 294.3L385 290.4L386 286.4L387 282.4L388 278.4L389 274.2L390 270.1L391 265.8L392 261.5L393 257.2L394 252.9L395 248.5L396 244L397 239.6L398 235.1L399 230.6L400 226L401 221.5L402 216.9L403 212.4L404 207.9L405 203.3L406 198.8L407 194.3L408 189.9L409 185.4L410 181.1L411 176.7L412 172.4L413 168.2L414 164L415 159.9L416 155.8L417 151.9L418 148L419 144.2L420 140.5L421 137L422 133.5L423 130.1L424 126.9L425 123.8L426 120.8L427 118L428 115.3L429 112.7L430 110.3L431 108.1L432 106L433 104L434 102.3L435 100.7L436 99.3L437 98L438 96.9L439 96L440 95.3L441 94.8L442 94.4L443 94.3L444 94.3L445 94.5L446 94.9L447 95.5L448 96.2L449 97.2L450 98.3L451 99.6L452 101.1L453 102.7L454 104.5L455 106.5L456 108.6L457 110.9L458 113.4L459 116L460 118.8L461 121.7L462 124.8L463 127.9L464 131.2L465 134.7L466 138.2L467 141.9L468 145.7L469 149.5L470 153.5L471 157.6L472 161.7L473 165.9L474 170.2L475 174.6L476 179L477 183.5L478 188L479 192.5L480 197.1L481 201.8L482 206.4L483 211.1L484 215.8L485 220.5L486 225.2L487 229.9L488 234.5L489 239.2L490 243.9L491 248.5L492 253.1L493 257.7L494 262.2L495 266.7L496 271.2L497 275.6L498 279.9L499 284.3L500 288.5L501 292.7L502 296.8L503 300.9L504 304.9L505 308.8L506 312.7L507 316.5L508 320.2L509 323.9L510 327.4L511 330.9L512 334.3L513 337.7L514 340.9L515 344.1L516 347.2L517 350.2L518 353.1L519 356L520 358.8L521 361.5L522 364.1L523 366.6L524 369.1L525 371.4L526 373.8L527 376L528 378.1L529 380.2L530 382.2L531 384.2L532 386.1L533 387.9L534 389.6L535 391.3L536 392.9L537 394.5L538 396L539 397.4L540 398.8L541 400.1L542 401.4L543 402.6L544 403.7L545 404.9L546 405.9L547 406.9L548 407.9L549 408.9L550 409.8L551 410.6L552 411.4L553 412.2L554 413L555 413.7L556 414.3L557 415L558 415.6L559 416.2L560 416.8L561 417.3L562 417.8L563 418.3L564 418.7L565 419.2L566 419.6L567 420L568 420.4L569 420.8L570 421.1L571 421.4L572 421.8L573 422.1L574 422.3L575 422.6L576 422.9L577 423.1L578 423.4L579 423.6L580 423.8L581 424L582 424.2L583 424.4L584 424.6L585 424.8L586 425L587 425.2L588 425.3L589 425.5L590 425.6L591 425.8L592 425.9L593 426.1L594 426.2L595 426.3L596 426.4L597 426.6L598 426.7L599 426.8L600 426.9L601 427L602 427.1L603 427.3L604 427.4L605 427.5L606 427.6L607 427.7L608 427.8L609 427.9L610 428L611 428.1L612 428.2L613 428.2L614 428.3L615 428.4L616 428.5L617 428.6L618 428.7L619 428.8L620 428.9L621 429L622 429.1L623 429.1L624 429.2L625 429.3L626 429.4L627 429.5L628 429.6L629 429.7L630 429.7L631 429.8L632 429.9L633 430L634 430.1L635 430.2L636 430.2L637 430.3L638 430.4L639 430.5L640 430.6L641 430.6L642 430.7L643 430.8" fill="none" stroke="#ff00ff" stroke-width="2.2" stroke-opacity="0.55"/>
</g>
<rect x="77" y="25" width="565" height="421" fill="none" stroke="#000" stroke-width="3.2"/>
<text x="604.3" y="478.5" font-size="25" text-anchor="middle" >134</text>
<text x="529" y="478.5" font-size="25" text-anchor="middle" >136</text>
<text x="453.7" y="478.5" font-size="25" text-anchor="middle" >138</text>
<text x="378.3" y="478.5" font-size="25" text-anchor="middle" >140</text>
<text x="303" y="478.5" font-size="25" text-anchor="middle" >142</text>
<text x="227.7" y="478.5" font-size="25" text-anchor="middle" >144</text>
<text x="152.3" y="478.5" font-size="25" text-anchor="middle" >146</text>
<text x="77" y="478.5" font-size="25" text-anchor="middle" >148</text>
<path d="M642 446V450.7M604.3 446V454.5M566.7 446V450.7M529 446V454.5M491.3 446V450.7M453.7 446V454.5M416 446V450.7M378.3 446V454.5M340.7 446V450.7M303 446V454.5M265.3 446V450.7M227.7 446V454.5M190 446V450.7M152.3 446V454.5M114.7 446V450.7M77 446V454.5" stroke="#000" stroke-width="2.6" fill="none"/>
<text x="250.5" y="514" font-size="25" text-anchor="start" >Binding Energy (eV)</text>
<text transform="translate(39.7,305) rotate(-90)" font-size="25">Intensity (a.u.)</text>
<text x="21.6" y="44.6" font-size="25" text-anchor="start" >(a)</text>
<path d="M82.3 43.9H129.5" stroke="#000000" stroke-width="2.8"/>
<text x="133.8" y="50.8" font-size="25" text-anchor="start" >Experiment</text>
<path d="M82.3 75.2H129.5" stroke="#ff0000" stroke-width="2.8"/>
<text x="133.8" y="81.6" font-size="25" text-anchor="start" >Simulated</text>
<path d="M82.3 106H129.5" stroke="#0000ff" stroke-width="2.8"/>
<text x="133.8" y="112.3" font-size="25" text-anchor="start" >Background</text>
<text x="495.8" y="58.7" font-size="25">PbSe-T30</text>
<text x="301.8" y="119.6" font-size="25">Pb4f<tspan font-size="15.5" dy="10">5/2</tspan></text>
<text x="482.4" y="113.9" font-size="25">Pb4f<tspan font-size="15.5" dy="10">7/2</tspan></text>
<g clip-path="url(#clip2)">
<path d="M722.8 373.1L723.8 373.2L724.8 373.3L725.8 373.4L726.8 373.5L727.8 373.6L728.8 373.8L729.8 373.9L730.8 374L731.8 374.1L732.8 374.3L733.8 374.4L734.8 374.5L735.8 374.7L736.8 374.8L737.8 375L738.8 375.1L739.8 375.3L740.8 375.4L741.8 375.6L742.8 375.8L743.8 375.9L744.8 376.1L745.8 376.3L746.8 376.4L747.8 376.6L748.8 376.8L749.8 376.9L750.8 377.1L751.8 377.3L752.8 377.4L753.8 377.6L754.8 377.8L755.8 377.9L756.8 378.1L757.8 378.2L758.8 378.4L759.8 378.5L760.8 378.6L761.8 378.7L762.8 378.9L763.8 379L764.8 379.1L765.8 379.2L766.8 379.3L767.8 379.3L768.8 379.4L769.8 379.5L770.8 379.5L771.8 379.6L772.8 379.6L773.8 379.7L774.8 379.7L775.8 379.7L776.8 379.7L777.8 379.7L778.8 379.7L779.8 379.7L780.8 379.6L781.8 379.6L782.8 379.6L783.8 379.6L784.8 379.5L785.8 379.5L786.8 379.4L787.8 379.4L788.8 379.3L789.8 379.2L790.8 379.2L791.8 379.1L792.8 379L793.8 379L794.8 378.9L795.8 378.8L796.8 378.7L797.8 378.6L798.8 378.5L799.8 378.4L800.8 378.3L801.8 378.2L802.8 378L803.8 377.8L804.8 377.6L805.8 377.4L806.8 377.2L807.8 377L808.8 376.7L809.8 376.4L810.8 376.2L811.8 375.9L812.8 375.6L813.8 375.4L814.8 375.1L815.8 374.9L816.8 374.7L817.8 374.6L818.8 374.4L819.8 374.3L820.8 374.2L821.8 374.2L822.8 374.1L823.8 374L824.8 374L825.8 373.9L826.8 373.8L827.8 373.6L828.8 373.4L829.8 373.2L830.8 373L831.8 372.6L832.8 372.3L833.8 371.9L834.8 371.4L835.8 370.9L836.8 370.3L837.8 369.6L838.8 368.9L839.8 368.2L840.8 367.4L841.8 366.5L842.8 365.6L843.8 364.6L844.8 363.6L845.8 362.5L846.8 361.4L847.8 360.2L848.8 358.9L849.8 357.6L850.8 356.3L851.8 354.8L852.8 353.4L853.8 351.9L854.8 350.3L855.8 348.7L856.8 347L857.8 345.4L858.8 343.6L859.8 341.9L860.8 340.1L861.8 338.3L862.8 336.5L863.8 334.7L864.8 332.9L865.8 331L866.8 329.2L867.8 327.3L868.8 325.5L869.8 323.6L870.8 321.8L871.8 319.9L872.8 318.1L873.8 316.2L874.8 314.3L875.8 312.4L876.8 310.5L877.8 308.6L878.8 306.6L879.8 304.6L880.8 302.5L881.8 300.3L882.8 298.1L883.8 295.7L884.8 293.3L885.8 290.7L886.8 288L887.8 285.2L888.8 282.3L889.8 279.1L890.8 275.8L891.8 272.4L892.8 268.7L893.8 264.9L894.8 260.9L895.8 256.7L896.8 252.4L897.8 247.8L898.8 243.2L899.8 238.3L900.8 233.4L901.8 228.3L902.8 223.1L903.8 217.9L904.8 212.6L905.8 207.3L906.8 202L907.8 196.8L908.8 191.7L909.8 186.7L910.8 181.9L911.8 177.3L912.8 173L913.8 168.9L914.8 165.2L915.8 161.9L916.8 159L917.8 156.6L918.8 154.8L919.8 153.5L920.8 152.8L921.8 152.8L922.8 153.4L923.8 154.8L924.8 156.7L925.8 159.4L926.8 162.7L927.8 166.6L928.8 171L929.8 176L930.8 181.5L931.8 187.3L932.8 193.6L933.8 200.1L934.8 207L935.8 214L936.8 221.3L937.8 228.7L938.8 236.1L939.8 243.7L940.8 251.2L941.8 258.7L942.8 266.1L943.8 273.3L944.8 280.5L945.8 287.5L946.8 294.2L947.8 300.8L948.8 307.1L949.8 313.1L950.8 318.8L951.8 324.3L952.8 329.4L953.8 334.3L954.8 338.8L955.8 343.1L956.8 347L957.8 350.6L958.8 353.9L959.8 356.9L960.8 359.7L961.8 362.2L962.8 364.4L963.8 366.4L964.8 368.2L965.8 369.8L966.8 371.2L967.8 372.4L968.8 373.5L969.8 374.5L970.8 375.4L971.8 376.2L972.8 376.9L973.8 377.6L974.8 378.3L975.8 378.9L976.8 379.5L977.8 380.1L978.8 380.6L979.8 381.2L980.8 381.8L981.8 382.3L982.8 382.8L983.8 383.3L984.8 383.8L985.8 384.3L986.8 384.7L987.8 385.1L988.8 385.5L989.8 385.8L990.8 386.1L991.8 386.4L992.8 386.6L993.8 386.8L994.8 387L995.8 387.2L996.8 387.4L997.8 387.5L998.8 387.6L999.8 387.7L1000.8 387.8L1001.8 387.9L1002.8 388L1003.8 388.1L1004.8 388.1L1005.8 388.2L1006.8 388.2L1007.8 388.3L1008.8 388.4L1009.8 388.4L1010.8 388.5L1011.8 388.5L1012.8 388.6L1013.8 388.6L1014.8 388.6L1015.8 388.7L1016.8 388.7L1017.8 388.7L1018.8 388.7L1019.8 388.7L1020.8 388.8L1021.8 388.7L1022.8 388.7L1023.8 388.7L1024.8 388.6L1025.8 388.6L1026.8 388.5L1027.8 388.4L1028.8 388.3L1029.8 388.1L1030.8 387.9L1031.8 387.7L1032.8 387.4L1033.8 387.1L1034.8 386.8L1035.8 386.4L1036.8 385.9L1037.8 385.3L1038.8 384.7L1039.8 384L1040.8 383.3L1041.8 382.4L1042.8 381.5L1043.8 380.4L1044.8 379.2L1045.8 378L1046.8 376.6L1047.8 375.1L1048.8 373.5L1049.8 371.8L1050.8 370L1051.8 368L1052.8 366L1053.8 363.8L1054.8 361.6L1055.8 359.2L1056.8 356.8L1057.8 354.3L1058.8 351.8L1059.8 349.2L1060.8 346.6L1061.8 343.9L1062.8 341.3L1063.8 338.6L1064.8 336L1065.8 333.3L1066.8 330.8L1067.8 328.2L1068.8 325.7L1069.8 323.3L1070.8 320.9L1071.8 318.5L1072.8 316.2L1073.8 314L1074.8 311.7L1075.8 309.5L1076.8 307.2L1077.8 304.9L1078.8 302.6L1079.8 300.1L1080.8 297.6L1081.8 294.9L1082.8 292L1083.8 288.9L1084.8 285.5L1085.8 281.9L1086.8 278L1087.8 273.7L1088.8 269.1L1089.8 264.2L1090.8 258.8L1091.8 253.1L1092.8 246.9L1093.8 240.4L1094.8 233.5L1095.8 226.2L1096.8 218.6L1097.8 210.7L1098.8 202.6L1099.8 194.2L1100.8 185.7L1101.8 177.1L1102.8 168.5L1103.8 159.9L1104.8 151.4L1105.8 143.1L1106.8 135.1L1107.8 127.5L1108.8 120.4L1109.8 113.8L1110.8 107.8L1111.8 102.6L1112.8 98.1L1113.8 94.6L1114.8 91.9L1115.8 90.3L1116.8 89.7L1117.8 90.2L1118.8 91.8L1119.8 94.5L1120.8 98.2L1121.8 103L1122.8 108.7L1123.8 115.2L1124.8 122.6L1125.8 130.7L1126.8 139.4L1127.8 148.7L1128.8 158.3L1129.8 168.3L1130.8 178.6L1131.8 189L1132.8 199.5L1133.8 210.1L1134.8 220.6L1135.8 231L1136.8 241.2L1137.8 251.3L1138.8 261.1L1139.8 270.5L1140.8 279.7L1141.8 288.4L1142.8 296.8L1143.8 304.7L1144.8 312.2L1145.8 319.2L1146.8 325.8L1147.8 331.9L1148.8 337.5L1149.8 342.7L1150.8 347.4L1151.8 351.7L1152.8 355.6L1153.8 359.1L1154.8 362.2L1155.8 365.1L1156.8 367.6L1157.8 370L1158.8 372.1L1159.8 374L1160.8 375.8L1161.8 377.5L1162.8 379L1163.8 380.5L1164.8 381.9L1165.8 383.2L1166.8 384.5L1167.8 385.6L1168.8 386.7L1169.8 387.7L1170.8 388.6L1171.8 389.5L1172.8 390.2L1173.8 390.9L1174.8 391.4L1175.8 391.9L1176.8 392.3L1177.8 392.7L1178.8 393L1179.8 393.2L1180.8 393.4L1181.8 393.6L1182.8 393.9L1183.8 394.1L1184.8 394.3L1185.8 394.5L1186.8 394.7L1187.8 395L1188.8 395.3L1189.8 395.6L1190.8 395.9L1191.8 396.2L1192.8 396.6L1193.8 396.9L1194.8 397.3L1195.8 397.6L1196.8 398L1197.8 398.3L1198.8 398.6L1199.8 398.9L1200.8 399.2L1201.8 399.5L1202.8 399.7L1203.8 400L1204.8 400.2L1205.8 400.4L1206.8 400.6L1207.8 400.8L1208.8 400.9L1209.8 401.1L1210.8 401.2L1211.8 401.3L1212.8 401.5L1213.8 401.6L1214.8 401.7L1215.8 401.8L1216.8 401.9L1217.8 402L1218.8 402.1L1219.8 402.2L1220.8 402.3L1221.8 402.4L1222.8 402.5L1223.8 402.6L1224.8 402.7L1225.8 402.8L1226.8 402.9L1227.8 403L1228.8 403L1229.8 403.1L1230.8 403.2L1231.8 403.3L1232.8 403.4L1233.8 403.5L1234.8 403.6L1235.8 403.7L1236.8 403.7L1237.8 403.8L1238.8 403.9L1239.8 404L1240.8 404.1L1241.8 404.1L1242.8 404.2L1243.8 404.3L1244.8 404.4L1245.8 404.5L1246.8 404.5L1247.8 404.6L1248.8 404.7L1249.8 404.8L1250.8 404.9L1251.8 404.9L1252.8 405L1253.8 405.1L1254.8 405.2L1255.8 405.2L1256.8 405.3L1257.8 405.4L1258.8 405.5L1259.8 405.5L1260.8 405.6L1261.8 405.7L1262.8 405.8L1263.8 405.8L1264.8 405.9L1265.8 406L1266.8 406.1L1267.8 406.1L1268.8 406.2L1269.8 406.3L1270.8 406.4L1271.8 406.4L1272.8 406.5L1273.8 406.6L1274.8 406.6L1275.8 406.7L1276.8 406.8L1277.8 406.9L1278.8 406.9L1279.8 407L1280.8 407.1L1281.8 407.1L1282.8 407.2L1283.8 407.3" fill="none" stroke="#000" stroke-width="3" stroke-linejoin="round"/>
<path d="M722.8 372.7L723.8 372.8L724.8 372.8L725.8 372.9L726.8 372.9L727.8 373L728.8 373.1L729.8 373.1L730.8 373.2L731.8 373.2L732.8 373.3L733.8 373.4L734.8 373.4L735.8 373.5L736.8 373.5L737.8 373.6L738.8 373.7L739.8 373.7L740.8 373.8L741.8 373.8L742.8 373.9L743.8 374L744.8 374L745.8 374.1L746.8 374.1L747.8 374.2L748.8 374.3L749.8 374.3L750.8 374.4L751.8 374.4L752.8 374.5L753.8 374.5L754.8 374.6L755.8 374.7L756.8 374.7L757.8 374.8L758.8 374.8L759.8 374.9L760.8 375L761.8 375L762.8 375.1L763.8 375.1L764.8 375.2L765.8 375.3L766.8 375.3L767.8 375.4L768.8 375.4L769.8 375.5L770.8 375.5L771.8 375.6L772.8 375.7L773.8 375.7L774.8 375.8L775.8 375.8L776.8 375.9L777.8 375.9L778.8 376L779.8 376L780.8 376.1L781.8 376.2L782.8 376.2L783.8 376.3L784.8 376.3L785.8 376.4L786.8 376.4L787.8 376.5L788.8 376.5L789.8 376.6L790.8 376.6L791.8 376.7L792.8 376.7L793.8 376.8L794.8 376.8L795.8 376.9L796.8 376.9L797.8 376.9L798.8 377L799.8 377L800.8 377L801.8 377.1L802.8 377.1L803.8 377.1L804.8 377.1L805.8 377.1L806.8 377.2L807.8 377.2L808.8 377.1L809.8 377.1L810.8 377.1L811.8 377.1L812.8 377.1L813.8 377L814.8 376.9L815.8 376.9L816.8 376.8L817.8 376.7L818.8 376.6L819.8 376.5L820.8 376.3L821.8 376.1L822.8 376L823.8 375.7L824.8 375.5L825.8 375.3L826.8 375L827.8 374.7L828.8 374.3L829.8 374L830.8 373.6L831.8 373.2L832.8 372.7L833.8 372.2L834.8 371.6L835.8 371.1L836.8 370.4L837.8 369.8L838.8 369.1L839.8 368.3L840.8 367.5L841.8 366.7L842.8 365.8L843.8 364.9L844.8 363.9L845.8 362.8L846.8 361.8L847.8 360.6L848.8 359.4L849.8 358.2L850.8 356.9L851.8 355.6L852.8 354.3L853.8 352.9L854.8 351.4L855.8 349.9L856.8 348.4L857.8 346.9L858.8 345.3L859.8 343.6L860.8 342L861.8 340.3L862.8 338.6L863.8 336.9L864.8 335.1L865.8 333.4L866.8 331.6L867.8 329.8L868.8 328L869.8 326.1L870.8 324.3L871.8 322.4L872.8 320.5L873.8 318.6L874.8 316.6L875.8 314.7L876.8 312.7L877.8 310.6L878.8 308.5L879.8 306.4L880.8 304.1L881.8 301.9L882.8 299.5L883.8 297L884.8 294.5L885.8 291.8L886.8 289L887.8 286.1L888.8 283L889.8 279.8L890.8 276.4L891.8 272.9L892.8 269.1L893.8 265.3L894.8 261.2L895.8 257L896.8 252.6L897.8 248L898.8 243.3L899.8 238.4L900.8 233.5L901.8 228.4L902.8 223.2L903.8 217.9L904.8 212.7L905.8 207.4L906.8 202.1L907.8 196.9L908.8 191.9L909.8 186.9L910.8 182.2L911.8 177.7L912.8 173.4L913.8 169.5L914.8 166L915.8 162.9L916.8 160.2L917.8 158L918.8 156.3L919.8 155.2L920.8 154.7L921.8 154.7L922.8 155.4L923.8 156.7L924.8 158.7L925.8 161.2L926.8 164.3L927.8 168L928.8 172.3L929.8 177.1L930.8 182.3L931.8 188L932.8 194.1L933.8 200.5L934.8 207.3L935.8 214.3L936.8 221.4L937.8 228.8L938.8 236.2L939.8 243.7L940.8 251.2L941.8 258.7L942.8 266.1L943.8 273.4L944.8 280.5L945.8 287.5L946.8 294.3L947.8 300.8L948.8 307.1L949.8 313.2L950.8 318.9L951.8 324.4L952.8 329.6L953.8 334.5L954.8 339.1L955.8 343.5L956.8 347.5L957.8 351.2L958.8 354.7L959.8 357.9L960.8 360.8L961.8 363.5L962.8 366L963.8 368.3L964.8 370.3L965.8 372.1L966.8 373.8L967.8 375.3L968.8 376.7L969.8 377.9L970.8 379L971.8 379.9L972.8 380.8L973.8 381.6L974.8 382.3L975.8 382.9L976.8 383.4L977.8 383.9L978.8 384.3L979.8 384.7L980.8 385L981.8 385.3L982.8 385.6L983.8 385.8L984.8 386L985.8 386.2L986.8 386.4L987.8 386.6L988.8 386.7L989.8 386.8L990.8 387L991.8 387.1L992.8 387.2L993.8 387.3L994.8 387.4L995.8 387.5L996.8 387.6L997.8 387.6L998.8 387.7L999.8 387.8L1000.8 387.9L1001.8 387.9L1002.8 388L1003.8 388.1L1004.8 388.1L1005.8 388.2L1006.8 388.3L1007.8 388.3L1008.8 388.4L1009.8 388.4L1010.8 388.5L1011.8 388.5L1012.8 388.6L1013.8 388.6L1014.8 388.6L1015.8 388.7L1016.8 388.7L1017.8 388.7L1018.8 388.7L1019.8 388.7L1020.8 388.8L1021.8 388.7L1022.8 388.7L1023.8 388.7L1024.8 388.6L1025.8 388.6L1026.8 388.5L1027.8 388.4L1028.8 388.3L1029.8 388.1L1030.8 387.9L1031.8 387.7L1032.8 387.4L1033.8 387.1L1034.8 386.8L1035.8 386.4L1036.8 385.9L1037.8 385.3L1038.8 384.7L1039.8 384L1040.8 383.3L1041.8 382.4L1042.8 381.5L1043.8 380.4L1044.8 379.2L1045.8 378L1046.8 376.6L1047.8 375.1L1048.8 373.5L1049.8 371.8L1050.8 370L1051.8 368L1052.8 366L1053.8 363.8L1054.8 361.6L1055.8 359.2L1056.8 356.8L1057.8 354.3L1058.8 351.8L1059.8 349.2L1060.8 346.6L1061.8 343.9L1062.8 341.3L1063.8 338.6L1064.8 336L1065.8 333.3L1066.8 330.8L1067.8 328.2L1068.8 325.7L1069.8 323.3L1070.8 320.9L1071.8 318.5L1072.8 316.2L1073.8 314L1074.8 311.7L1075.8 309.5L1076.8 307.2L1077.8 304.9L1078.8 302.6L1079.8 300.1L1080.8 297.6L1081.8 294.9L1082.8 292L1083.8 288.9L1084.8 285.5L1085.8 281.9L1086.8 278L1087.8 273.7L1088.8 269.1L1089.8 264.2L1090.8 258.8L1091.8 253.1L1092.8 246.9L1093.8 240.4L1094.8 233.5L1095.8 226.2L1096.8 218.6L1097.8 210.7L1098.8 202.6L1099.8 194.2L1100.8 185.7L1101.8 177.1L1102.8 168.5L1103.8 159.9L1104.8 151.5L1105.8 143.2L1106.8 135.3L1107.8 127.8L1108.8 120.7L1109.8 114.3L1110.8 108.4L1111.8 103.4L1112.8 99.1L1113.8 95.7L1114.8 93.3L1115.8 91.9L1116.8 91.5L1117.8 92.1L1118.8 93.8L1119.8 96.5L1120.8 100.2L1121.8 104.9L1122.8 110.5L1123.8 116.9L1124.8 124.1L1125.8 132L1126.8 140.5L1127.8 149.5L1128.8 159L1129.8 168.8L1130.8 179L1131.8 189.3L1132.8 199.7L1133.8 210.2L1134.8 220.7L1135.8 231.1L1136.8 241.3L1137.8 251.4L1138.8 261.2L1139.8 270.7L1140.8 279.8L1141.8 288.7L1142.8 297.1L1143.8 305.2L1144.8 312.8L1145.8 320L1146.8 326.8L1147.8 333.1L1148.8 339L1149.8 344.5L1150.8 349.6L1151.8 354.4L1152.8 358.7L1153.8 362.6L1154.8 366.3L1155.8 369.6L1156.8 372.6L1157.8 375.3L1158.8 377.7L1159.8 379.9L1160.8 381.9L1161.8 383.7L1162.8 385.3L1163.8 386.7L1164.8 388L1165.8 389.1L1166.8 390.1L1167.8 391L1168.8 391.8L1169.8 392.6L1170.8 393.2L1171.8 393.8L1172.8 394.3L1173.8 394.8L1174.8 395.2L1175.8 395.6L1176.8 395.9L1177.8 396.2L1178.8 396.5L1179.8 396.8L1180.8 397L1181.8 397.3L1182.8 397.5L1183.8 397.7L1184.8 397.9L1185.8 398.1L1186.8 398.2L1187.8 398.4L1188.8 398.6L1189.8 398.7L1190.8 398.9L1191.8 399L1192.8 399.2L1193.8 399.3L1194.8 399.5L1195.8 399.6L1196.8 399.7L1197.8 399.8L1198.8 400L1199.8 400.1L1200.8 400.2L1201.8 400.3L1202.8 400.5L1203.8 400.6L1204.8 400.7L1205.8 400.8L1206.8 400.9L1207.8 401L1208.8 401.1L1209.8 401.2L1210.8 401.3L1211.8 401.4L1212.8 401.5L1213.8 401.6L1214.8 401.7L1215.8 401.8L1216.8 401.9L1217.8 402L1218.8 402.1L1219.8 402.2L1220.8 402.3L1221.8 402.4L1222.8 402.5L1223.8 402.6L1224.8 402.7L1225.8 402.8L1226.8 402.9L1227.8 403L1228.8 403L1229.8 403.1L1230.8 403.2L1231.8 403.3L1232.8 403.4L1233.8 403.5L1234.8 403.6L1235.8 403.7L1236.8 403.7L1237.8 403.8L1238.8 403.9L1239.8 404L1240.8 404.1L1241.8 404.1L1242.8 404.2L1243.8 404.3L1244.8 404.4L1245.8 404.5L1246.8 404.5L1247.8 404.6L1248.8 404.7L1249.8 404.8L1250.8 404.9L1251.8 404.9L1252.8 405L1253.8 405.1L1254.8 405.2L1255.8 405.2L1256.8 405.3L1257.8 405.4L1258.8 405.5L1259.8 405.5L1260.8 405.6L1261.8 405.7L1262.8 405.8L1263.8 405.8L1264.8 405.9L1265.8 406L1266.8 406.1L1267.8 406.1L1268.8 406.2L1269.8 406.3L1270.8 406.4L1271.8 406.4L1272.8 406.5L1273.8 406.6L1274.8 406.6L1275.8 406.7L1276.8 406.8L1277.8 406.9L1278.8 406.9L1279.8 407L1280.8 407.1L1281.8 407.1L1282.8 407.2L1283.8 407.3" fill="none" stroke="#ff0000" stroke-width="3" stroke-linejoin="round"/>
<path d="M722.8 373L723.8 373.1L724.8 373.1L725.8 373.2L726.8 373.2L727.8 373.3L728.8 373.4L729.8 373.4L730.8 373.5L731.8 373.6L732.8 373.6L733.8 373.7L734.8 373.7L735.8 373.8L736.8 373.9L737.8 373.9L738.8 374L739.8 374.1L740.8 374.1L741.8 374.2L742.8 374.2L743.8 374.3L744.8 374.4L745.8 374.4L746.8 374.5L747.8 374.6L748.8 374.6L749.8 374.7L750.8 374.7L751.8 374.8L752.8 374.9L753.8 374.9L754.8 375L755.8 375.1L756.8 375.1L757.8 375.2L758.8 375.2L759.8 375.3L760.8 375.4L761.8 375.4L762.8 375.5L763.8 375.6L764.8 375.6L765.8 375.7L766.8 375.7L767.8 375.8L768.8 375.9L769.8 375.9L770.8 376L771.8 376.1L772.8 376.1L773.8 376.2L774.8 376.2L775.8 376.3L776.8 376.4L777.8 376.4L778.8 376.5L779.8 376.6L780.8 376.6L781.8 376.7L782.8 376.7L783.8 376.8L784.8 376.9L785.8 376.9L786.8 377L787.8 377.1L788.8 377.1L789.8 377.2L790.8 377.2L791.8 377.3L792.8 377.4L793.8 377.4L794.8 377.5L795.8 377.6L796.8 377.6L797.8 377.7L798.8 377.7L799.8 377.8L800.8 377.9L801.8 377.9L802.8 378L803.8 378.1L804.8 378.1L805.8 378.2L806.8 378.2L807.8 378.3L808.8 378.4L809.8 378.4L810.8 378.5L811.8 378.6L812.8 378.6L813.8 378.7L814.8 378.7L815.8 378.8L816.8 378.9L817.8 378.9L818.8 379L819.8 379.1L820.8 379.1L821.8 379.2L822.8 379.2L823.8 379.3L824.8 379.4L825.8 379.4L826.8 379.5L827.8 379.6L828.8 379.6L829.8 379.7L830.8 379.7L831.8 379.8L832.8 379.9L833.8 379.9L834.8 380L835.8 380.1L836.8 380.1L837.8 380.2L838.8 380.2L839.8 380.3L840.8 380.4L841.8 380.4L842.8 380.5L843.8 380.6L844.8 380.6L845.8 380.7L846.8 380.7L847.8 380.8L848.8 380.9L849.8 380.9L850.8 381L851.8 381L852.8 381.1L853.8 381.2L854.8 381.2L855.8 381.3L856.8 381.4L857.8 381.4L858.8 381.5L859.8 381.5L860.8 381.6L861.8 381.7L862.8 381.7L863.8 381.8L864.8 381.9L865.8 381.9L866.8 382L867.8 382L868.8 382.1L869.8 382.2L870.8 382.2L871.8 382.3L872.8 382.4L873.8 382.4L874.8 382.5L875.8 382.5L876.8 382.6L877.8 382.7L878.8 382.7L879.8 382.8L880.8 382.9L881.8 382.9L882.8 383L883.8 383L884.8 383.1L885.8 383.2L886.8 383.2L887.8 383.3L888.8 383.4L889.8 383.4L890.8 383.5L891.8 383.5L892.8 383.6L893.8 383.7L894.8 383.7L895.8 383.8L896.8 383.9L897.8 383.9L898.8 384L899.8 384L900.8 384.1L901.8 384.2L902.8 384.2L903.8 384.3L904.8 384.4L905.8 384.4L906.8 384.5L907.8 384.5L908.8 384.6L909.8 384.7L910.8 384.7L911.8 384.8L912.8 384.9L913.8 384.9L914.8 385L915.8 385L916.8 385.1L917.8 385.2L918.8 385.2L919.8 385.3L920.8 385.4L921.8 385.4L922.8 385.5L923.8 385.5L924.8 385.6L925.8 385.7L926.8 385.7L927.8 385.8L928.8 385.9L929.8 385.9L930.8 386L931.8 386L932.8 386.1L933.8 386.2L934.8 386.2L935.8 386.3L936.8 386.4L937.8 386.4L938.8 386.5L939.8 386.5L940.8 386.6L941.8 386.7L942.8 386.7L943.8 386.8L944.8 386.9L945.8 386.9L946.8 387L947.8 387L948.8 387.1L949.8 387.2L950.8 387.2L951.8 387.3L952.8 387.4L953.8 387.4L954.8 387.5L955.8 387.5L956.8 387.6L957.8 387.7L958.8 387.7L959.8 387.8L960.8 387.9L961.8 387.9L962.8 388L963.8 388L964.8 388.1L965.8 388.2L966.8 388.2L967.8 388.3L968.8 388.4L969.8 388.4L970.8 388.5L971.8 388.5L972.8 388.6L973.8 388.7L974.8 388.7L975.8 388.8L976.8 388.8L977.8 388.9L978.8 389L979.8 389L980.8 389.1L981.8 389.2L982.8 389.2L983.8 389.3L984.8 389.3L985.8 389.4L986.8 389.5L987.8 389.5L988.8 389.6L989.8 389.7L990.8 389.7L991.8 389.8L992.8 389.8L993.8 389.9L994.8 390L995.8 390L996.8 390.1L997.8 390.2L998.8 390.2L999.8 390.3L1000.8 390.3L1001.8 390.4L1002.8 390.5L1003.8 390.5L1004.8 390.6L1005.8 390.7L1006.8 390.7L1007.8 390.8L1008.8 390.8L1009.8 390.9L1010.8 391L1011.8 391L1012.8 391.1L1013.8 391.2L1014.8 391.2L1015.8 391.3L1016.8 391.3L1017.8 391.4L1018.8 391.5L1019.8 391.5L1020.8 391.6L1021.8 391.7L1022.8 391.7L1023.8 391.8L1024.8 391.8L1025.8 391.9L1026.8 392L1027.8 392L1028.8 392.1L1029.8 392.2L1030.8 392.2L1031.8 392.3L1032.8 392.3L1033.8 392.4L1034.8 392.5L1035.8 392.5L1036.8 392.6L1037.8 392.7L1038.8 392.7L1039.8 392.8L1040.8 392.8L1041.8 392.9L1042.8 393L1043.8 393L1044.8 393.1L1045.8 393.2L1046.8 393.2L1047.8 393.3L1048.8 393.3L1049.8 393.4L1050.8 393.5L1051.8 393.5L1052.8 393.6L1053.8 393.7L1054.8 393.7L1055.8 393.8L1056.8 393.8L1057.8 393.9L1058.8 394L1059.8 394L1060.8 394.1L1061.8 394.2L1062.8 394.2L1063.8 394.3L1064.8 394.3L1065.8 394.4L1066.8 394.5L1067.8 394.5L1068.8 394.6L1069.8 394.7L1070.8 394.7L1071.8 394.8L1072.8 394.8L1073.8 394.9L1074.8 395L1075.8 395L1076.8 395.1L1077.8 395.2L1078.8 395.2L1079.8 395.3L1080.8 395.3L1081.8 395.4L1082.8 395.5L1083.8 395.5L1084.8 395.6L1085.8 395.7L1086.8 395.7L1087.8 395.8L1088.8 395.8L1089.8 395.9L1090.8 396L1091.8 396L1092.8 396.1L1093.8 396.2L1094.8 396.2L1095.8 396.3L1096.8 396.3L1097.8 396.4L1098.8 396.5L1099.8 396.5L1100.8 396.6L1101.8 396.6L1102.8 396.7L1103.8 396.8L1104.8 396.8L1105.8 396.9L1106.8 397L1107.8 397L1108.8 397.1L1109.8 397.1L1110.8 397.2L1111.8 397.3L1112.8 397.3L1113.8 397.4L1114.8 397.5L1115.8 397.5L1116.8 397.6L1117.8 397.6L1118.8 397.7L1119.8 397.8L1120.8 397.8L1121.8 397.9L1122.8 398L1123.8 398L1124.8 398.1L1125.8 398.1L1126.8 398.2L1127.8 398.3L1128.8 398.3L1129.8 398.4L1130.8 398.5L1131.8 398.5L1132.8 398.6L1133.8 398.6L1134.8 398.7L1135.8 398.8L1136.8 398.8L1137.8 398.9L1138.8 399L1139.8 399L1140.8 399.1L1141.8 399.1L1142.8 399.2L1143.8 399.3L1144.8 399.3L1145.8 399.4L1146.8 399.5L1147.8 399.5L1148.8 399.6L1149.8 399.6L1150.8 399.7L1151.8 399.8L1152.8 399.8L1153.8 399.9L1154.8 400L1155.8 400L1156.8 400.1L1157.8 400.1L1158.8 400.2L1159.8 400.3L1160.8 400.3L1161.8 400.4L1162.8 400.5L1163.8 400.5L1164.8 400.6L1165.8 400.6L1166.8 400.7L1167.8 400.8L1168.8 400.8L1169.8 400.9L1170.8 401L1171.8 401L1172.8 401.1L1173.8 401.1L1174.8 401.2L1175.8 401.3L1176.8 401.3L1177.8 401.4L1178.8 401.5L1179.8 401.5L1180.8 401.6L1181.8 401.6L1182.8 401.7L1183.8 401.8L1184.8 401.8L1185.8 401.9L1186.8 402L1187.8 402L1188.8 402.1L1189.8 402.1L1190.8 402.2L1191.8 402.3L1192.8 402.3L1193.8 402.4L1194.8 402.5L1195.8 402.5L1196.8 402.6L1197.8 402.6L1198.8 402.7L1199.8 402.8L1200.8 402.8L1201.8 402.9L1202.8 403L1203.8 403L1204.8 403.1L1205.8 403.1L1206.8 403.2L1207.8 403.3L1208.8 403.3L1209.8 403.4L1210.8 403.5L1211.8 403.5L1212.8 403.6L1213.8 403.6L1214.8 403.7L1215.8 403.8L1216.8 403.8L1217.8 403.9L1218.8 404L1219.8 404L1220.8 404.1L1221.8 404.1L1222.8 404.2L1223.8 404.3L1224.8 404.3L1225.8 404.4L1226.8 404.4L1227.8 404.5L1228.8 404.6L1229.8 404.6L1230.8 404.7L1231.8 404.8L1232.8 404.8L1233.8 404.9L1234.8 404.9L1235.8 405L1236.8 405.1L1237.8 405.1L1238.8 405.2L1239.8 405.3L1240.8 405.3L1241.8 405.4L1242.8 405.4L1243.8 405.5L1244.8 405.6L1245.8 405.6L1246.8 405.7L1247.8 405.8L1248.8 405.8L1249.8 405.9L1250.8 405.9L1251.8 406L1252.8 406.1L1253.8 406.1L1254.8 406.2L1255.8 406.3L1256.8 406.3L1257.8 406.4L1258.8 406.4L1259.8 406.5L1260.8 406.6L1261.8 406.6L1262.8 406.7L1263.8 406.8L1264.8 406.8L1265.8 406.9L1266.8 406.9L1267.8 407L1268.8 407.1L1269.8 407.1L1270.8 407.2L1271.8 407.3L1272.8 407.3L1273.8 407.4L1274.8 407.4L1275.8 407.5L1276.8 407.6L1277.8 407.6L1278.8 407.7L1279.8 407.8L1280.8 407.8L1281.8 407.9L1282.8 407.9L1283.8 408" fill="none" stroke="#0000ff" stroke-width="3"/>
<path d="M867.8 378.7L868.8 378.4L869.8 378.1L870.8 377.7L871.8 377.3L872.8 376.8L873.8 376.2L874.8 375.6L875.8 374.8L876.8 374L877.8 373L878.8 371.9L879.8 370.7L880.8 369.3L881.8 367.7L882.8 366L883.8 364.1L884.8 362L885.8 359.7L886.8 357.1L887.8 354.4L888.8 351.3L889.8 348.1L890.8 344.5L891.8 340.7L892.8 336.6L893.8 332.3L894.8 327.7L895.8 322.8L896.8 317.6L897.8 312.2L898.8 306.6L899.8 300.7L900.8 294.6L901.8 288.3L902.8 281.9L903.8 275.4L904.8 268.8L905.8 262.1L906.8 255.4L907.8 248.7L908.8 242.1L909.8 235.6L910.8 229.3L911.8 223.2L912.8 217.4L913.8 211.8L914.8 206.7L915.8 202L916.8 197.7L917.8 193.9L918.8 190.6L919.8 188L920.8 185.9L921.8 184.5L922.8 183.7L923.8 183.6L924.8 184.1L925.8 185.3L926.8 187.1L927.8 189.5L928.8 192.5L929.8 196.1L930.8 200.2L931.8 204.8L932.8 209.9L933.8 215.3L934.8 221.1L935.8 227.1L936.8 233.5L937.8 240L938.8 246.6L939.8 253.4L940.8 260.2L941.8 267L942.8 273.8L943.8 280.5L944.8 287.2L945.8 293.6L946.8 299.9L947.8 306.1L948.8 312L949.8 317.7L950.8 323.1L951.8 328.3L952.8 333.2L953.8 337.8L954.8 342.2L955.8 346.3L956.8 350.1L957.8 353.7L958.8 357L959.8 360L960.8 362.8L961.8 365.4L962.8 367.8L963.8 369.9L964.8 371.9L965.8 373.6L966.8 375.2L967.8 376.7L968.8 378L968.8 379L963.8 379L957.8 379L951.8 379L945.8 379L939.8 379L933.8 379L927.8 379L921.8 379L915.8 379L909.8 379L903.8 379L897.8 379L891.8 379L885.8 379L879.8 379L873.8 379L867.8 379Z" fill="url(#g3)"/>
<path d="M1042.8 385.1L1043.8 384.1L1044.8 383.1L1045.8 381.9L1046.8 380.6L1047.8 379.2L1048.8 377.7L1049.8 376.1L1050.8 374.4L1051.8 372.6L1052.8 370.7L1053.8 368.8L1054.8 366.7L1055.8 364.6L1056.8 362.4L1057.8 360.2L1058.8 357.9L1059.8 355.6L1060.8 353.4L1061.8 351.1L1062.8 349L1063.8 346.8L1064.8 344.8L1065.8 342.8L1066.8 341L1067.8 339.4L1068.8 337.9L1069.8 336.5L1070.8 335.4L1071.8 334.5L1072.8 333.8L1073.8 333.3L1074.8 333L1075.8 333L1076.8 333.3L1077.8 333.7L1078.8 334.4L1079.8 335.3L1080.8 336.5L1081.8 337.8L1082.8 339.3L1083.8 341L1084.8 342.9L1085.8 344.9L1086.8 347L1087.8 349.2L1088.8 351.5L1089.8 353.8L1090.8 356.2L1091.8 358.6L1092.8 361L1093.8 363.3L1094.8 365.7L1095.8 368L1096.8 370.2L1097.8 372.3L1098.8 374.4L1099.8 376.4L1100.8 378.3L1101.8 380.1L1102.8 381.7L1103.8 383.3L1104.8 384.8L1104.8 386L1102.8 386L1096.8 386L1090.8 386L1084.8 386L1078.8 386L1072.8 386L1066.8 386L1060.8 386L1054.8 386L1048.8 386L1042.8 386Z" fill="url(#g4)"/>
<path d="M1065.8 384.6L1066.8 383.9L1067.8 383.1L1068.8 382.2L1069.8 381.1L1070.8 379.9L1071.8 378.5L1072.8 377L1073.8 375.3L1074.8 373.3L1075.8 371.1L1076.8 368.7L1077.8 366L1078.8 363L1079.8 359.7L1080.8 356.1L1081.8 352.1L1082.8 347.7L1083.8 343L1084.8 337.9L1085.8 332.3L1086.8 326.3L1087.8 319.9L1088.8 313.1L1089.8 305.9L1090.8 298.2L1091.8 290.1L1092.8 281.7L1093.8 272.8L1094.8 263.6L1095.8 254.1L1096.8 244.4L1097.8 234.4L1098.8 224.2L1099.8 213.9L1100.8 203.6L1101.8 193.3L1102.8 183L1103.8 172.9L1104.8 163.1L1105.8 153.5L1106.8 144.4L1107.8 135.8L1108.8 127.7L1109.8 120.3L1110.8 113.7L1111.8 107.9L1112.8 102.9L1113.8 99L1114.8 96L1115.8 94.1L1116.8 93.3L1117.8 93.6L1118.8 95L1119.8 97.4L1120.8 100.9L1121.8 105.4L1122.8 110.8L1123.8 117.1L1124.8 124.1L1125.8 131.9L1126.8 140.3L1127.8 149.3L1128.8 158.7L1129.8 168.5L1130.8 178.6L1131.8 188.9L1132.8 199.3L1133.8 209.7L1134.8 220.2L1135.8 230.6L1136.8 240.8L1137.8 250.8L1138.8 260.6L1139.8 270.1L1140.8 279.3L1141.8 288.1L1142.8 296.5L1143.8 304.6L1144.8 312.2L1145.8 319.4L1146.8 326.2L1147.8 332.5L1148.8 338.4L1149.8 343.9L1150.8 349L1151.8 353.7L1152.8 358L1153.8 362L1154.8 365.6L1155.8 368.9L1156.8 371.9L1157.8 374.6L1158.8 377.1L1159.8 379.3L1160.8 381.3L1161.8 383L1162.8 384.6L1162.8 385L1161.8 385L1155.8 385L1149.8 385L1143.8 385L1137.8 385L1131.8 385L1125.8 385L1119.8 385L1113.8 385L1107.8 385L1101.8 385L1095.8 385L1089.8 385L1083.8 385L1077.8 385L1071.8 385L1065.8 385Z" fill="url(#g5)"/>
<path d="M820.8 377.2L821.8 377L822.8 376.8L823.8 376.6L824.8 376.4L825.8 376.2L826.8 375.9L827.8 375.6L828.8 375.3L829.8 375L830.8 374.6L831.8 374.2L832.8 373.7L833.8 373.3L834.8 372.7L835.8 372.2L836.8 371.6L837.8 370.9L838.8 370.2L839.8 369.5L840.8 368.7L841.8 367.9L842.8 367.1L843.8 366.2L844.8 365.2L845.8 364.2L846.8 363.1L847.8 362.1L848.8 360.9L849.8 359.7L850.8 358.5L851.8 357.2L852.8 355.9L853.8 354.6L854.8 353.2L855.8 351.8L856.8 350.3L857.8 348.8L858.8 347.3L859.8 345.8L860.8 344.3L861.8 342.7L862.8 341.2L863.8 339.6L864.8 338.1L865.8 336.5L866.8 335L867.8 333.5L868.8 332L869.8 330.5L870.8 329.1L871.8 327.7L872.8 326.4L873.8 325.1L874.8 323.9L875.8 322.7L876.8 321.6L877.8 320.6L878.8 319.7L879.8 318.8L880.8 318.1L881.8 317.4L882.8 316.8L883.8 316.3L884.8 315.9L885.8 315.6L886.8 315.4L887.8 315.3L888.8 315.4L889.8 315.5L890.8 315.7L891.8 316L892.8 316.5L893.8 317L894.8 317.7L895.8 318.4L896.8 319.2L897.8 320.1L898.8 321.1L899.8 322.2L900.8 323.4L901.8 324.6L902.8 325.9L903.8 327.2L904.8 328.7L905.8 330.1L906.8 331.6L907.8 333.2L908.8 334.8L909.8 336.4L910.8 338L911.8 339.7L912.8 341.4L913.8 343.1L914.8 344.7L915.8 346.4L916.8 348.1L917.8 349.7L918.8 351.4L919.8 353L920.8 354.6L921.8 356.2L922.8 357.7L923.8 359.2L924.8 360.7L925.8 362.1L926.8 363.5L927.8 364.8L928.8 366.1L929.8 367.4L930.8 368.6L931.8 369.8L932.8 370.9L933.8 372L934.8 373L935.8 374L936.8 374.9L937.8 375.8L938.8 376.6L939.8 377.4L939.8 378L934.8 378L928.8 378L922.8 378L916.8 378L910.8 378L904.8 378L898.8 378L892.8 378L886.8 378L880.8 378L874.8 378L868.8 378L862.8 378L856.8 378L850.8 378L844.8 378L838.8 378L832.8 378L826.8 378L820.8 377.6Z" fill="url(#g6)"/>
<path d="M806.8 377.7L807.8 377.8L808.8 377.8L809.8 377.9L810.8 377.9L811.8 378L812.8 378.1L813.8 378.1L814.8 378.2L815.8 378.2L816.8 378.3L817.8 378.3L818.8 378.4L819.8 378.4L820.8 378.5L821.8 378.5L822.8 378.6L823.8 378.6L824.8 378.7L825.8 378.7L826.8 378.8L827.8 378.8L828.8 378.9L829.8 378.9L830.8 379L831.8 379L832.8 379L833.8 379.1L834.8 379.1L835.8 379.2L836.8 379.2L837.8 379.3L838.8 379.3L839.8 379.3L840.8 379.4L841.8 379.4L842.8 379.5L843.8 379.5L844.8 379.5L845.8 379.6L846.8 379.6L847.8 379.6L848.8 379.7L849.8 379.7L850.8 379.7L851.8 379.7L852.8 379.7L853.8 379.7L854.8 379.8L855.8 379.7L856.8 379.7L857.8 379.7L858.8 379.7L859.8 379.7L860.8 379.6L861.8 379.5L862.8 379.5L863.8 379.4L864.8 379.2L865.8 379.1L866.8 378.9L867.8 378.7L868.8 378.4L869.8 378.1L870.8 377.7L871.8 377.3L872.8 376.8L873.8 376.2L874.8 375.6L875.8 374.8L876.8 374L877.8 373L878.8 371.9L879.8 370.7L880.8 369.3L881.8 367.7L882.8 366L883.8 364.1L884.8 362L885.8 359.7L886.8 357.1L887.8 354.4L888.8 351.3L889.8 348.1L890.8 344.5L891.8 340.7L892.8 336.6L893.8 332.3L894.8 327.7L895.8 322.8L896.8 317.6L897.8 312.2L898.8 306.6L899.8 300.7L900.8 294.6L901.8 288.3L902.8 281.9L903.8 275.4L904.8 268.8L905.8 262.1L906.8 255.4L907.8 248.7L908.8 242.1L909.8 235.6L910.8 229.3L911.8 223.2L912.8 217.4L913.8 211.8L914.8 206.7L915.8 202L916.8 197.7L917.8 193.9L918.8 190.6L919.8 188L920.8 185.9L921.8 184.5L922.8 183.7L923.8 183.6L924.8 184.1L925.8 185.3L926.8 187.1L927.8 189.5L928.8 192.5L929.8 196.1L930.8 200.2L931.8 204.8L932.8 209.9L933.8 215.3L934.8 221.1L935.8 227.1L936.8 233.5L937.8 240L938.8 246.6L939.8 253.4L940.8 260.2L941.8 267L942.8 273.8L943.8 280.5L944.8 287.2L945.8 293.6L946.8 299.9L947.8 306.1L948.8 312L949.8 317.7L950.8 323.1L951.8 328.3L952.8 333.2L953.8 337.8L954.8 342.2L955.8 346.3L956.8 350.1L957.8 353.7L958.8 357L959.8 360L960.8 362.8L961.8 365.4L962.8 367.8L963.8 369.9L964.8 371.9L965.8 373.6L966.8 375.2L967.8 376.7L968.8 378L969.8 379.2L970.8 380.2L971.8 381.1L972.8 382L973.8 382.7L974.8 383.4L975.8 384L976.8 384.5L977.8 385L978.8 385.4L979.8 385.8L980.8 386.1L981.8 386.4L982.8 386.7L983.8 386.9L984.8 387.1L985.8 387.3L986.8 387.5L987.8 387.7L988.8 387.8L989.8 388L990.8 388.1L991.8 388.3L992.8 388.4L993.8 388.5L994.8 388.6L995.8 388.7L996.8 388.8L997.8 388.9L998.8 389L999.8 389.1L1000.8 389.2L1001.8 389.3L1002.8 389.4L1003.8 389.5L1004.8 389.6L1005.8 389.7L1006.8 389.8L1007.8 389.8L1008.8 389.9L1009.8 390L1010.8 390.1L1011.8 390.2L1012.8 390.2L1013.8 390.3L1014.8 390.4L1015.8 390.5L1016.8 390.6L1017.8 390.6L1018.8 390.7L1019.8 390.8L1020.8 390.9L1021.8 391L1022.8 391L1023.8 391.1L1024.8 391.2L1025.8 391.3L1026.8 391.3L1027.8 391.4L1028.8 391.5L1029.8 391.5L1030.8 391.6L1031.8 391.7L1032.8 391.8L1033.8 391.8L1034.8 391.9L1035.8 392L1036.8 392.1L1037.8 392.1L1038.8 392.2L1039.8 392.3L1040.8 392.3" fill="none" stroke="#00a040" stroke-width="2.2" stroke-opacity="0.6"/>
<path d="M1025.8 391.4L1026.8 391.3L1027.8 391.3L1028.8 391.2L1029.8 391.1L1030.8 390.9L1031.8 390.7L1032.8 390.5L1033.8 390.2L1034.8 389.9L1035.8 389.6L1036.8 389.1L1037.8 388.7L1038.8 388.1L1039.8 387.5L1040.8 386.8L1041.8 386L1042.8 385.1L1043.8 384.1L1044.8 383.1L1045.8 381.9L1046.8 380.6L1047.8 379.2L1048.8 377.7L1049.8 376.1L1050.8 374.4L1051.8 372.6L1052.8 370.7L1053.8 368.8L1054.8 366.7L1055.8 364.6L1056.8 362.4L1057.8 360.2L1058.8 357.9L1059.8 355.6L1060.8 353.4L1061.8 351.1L1062.8 349L1063.8 346.8L1064.8 344.8L1065.8 342.8L1066.8 341L1067.8 339.4L1068.8 337.9L1069.8 336.5L1070.8 335.4L1071.8 334.5L1072.8 333.8L1073.8 333.3L1074.8 333L1075.8 333L1076.8 333.3L1077.8 333.7L1078.8 334.4L1079.8 335.3L1080.8 336.5L1081.8 337.8L1082.8 339.3L1083.8 341L1084.8 342.9L1085.8 344.9L1086.8 347L1087.8 349.2L1088.8 351.5L1089.8 353.8L1090.8 356.2L1091.8 358.6L1092.8 361L1093.8 363.3L1094.8 365.7L1095.8 368L1096.8 370.2L1097.8 372.3L1098.8 374.4L1099.8 376.4L1100.8 378.3L1101.8 380.1L1102.8 381.7L1103.8 383.3L1104.8 384.8L1105.8 386.1L1106.8 387.4L1107.8 388.6L1108.8 389.6L1109.8 390.6L1110.8 391.5L1111.8 392.3L1112.8 393L1113.8 393.6L1114.8 394.2L1115.8 394.7L1116.8 395.2L1117.8 395.6L1118.8 396L1119.8 396.3L1120.8 396.6L1121.8 396.9L1122.8 397.1L1123.8 397.3L1124.8 397.5" fill="none" stroke="#008888" stroke-width="2.2" stroke-opacity="0.75"/>
<path d="M1007.8 388.8L1008.8 388.8L1009.8 388.8L1010.8 388.9L1011.8 388.9L1012.8 388.9L1013.8 389L1014.8 389L1015.8 389L1016.8 389L1017.8 389.1L1018.8 389.1L1019.8 389.1L1020.8 389.1L1021.8 389.2L1022.8 389.2L1023.8 389.2L1024.8 389.2L1025.8 389.2L1026.8 389.2L1027.8 389.3L1028.8 389.3L1029.8 389.3L1030.8 389.3L1031.8 389.3L1032.8 389.3L1033.8 389.3L1034.8 389.3L1035.8 389.3L1036.8 389.3L1037.8 389.3L1038.8 389.3L1039.8 389.3L1040.8 389.3L1041.8 389.2L1042.8 389.2L1043.8 389.2L1044.8 389.2L1045.8 389.1L1046.8 389.1L1047.8 389L1048.8 389L1049.8 388.9L1050.8 388.8L1051.8 388.8L1052.8 388.7L1053.8 388.5L1054.8 388.4L1055.8 388.3L1056.8 388.1L1057.8 387.9L1058.8 387.6L1059.8 387.4L1060.8 387.1L1061.8 386.7L1062.8 386.3L1063.8 385.8L1064.8 385.3L1065.8 384.6L1066.8 383.9L1067.8 383.1L1068.8 382.2L1069.8 381.1L1070.8 379.9L1071.8 378.5L1072.8 377L1073.8 375.3L1074.8 373.3L1075.8 371.1L1076.8 368.7L1077.8 366L1078.8 363L1079.8 359.7L1080.8 356.1L1081.8 352.1L1082.8 347.7L1083.8 343L1084.8 337.9L1085.8 332.3L1086.8 326.3L1087.8 319.9L1088.8 313.1L1089.8 305.9L1090.8 298.2L1091.8 290.1L1092.8 281.7L1093.8 272.8L1094.8 263.6L1095.8 254.1L1096.8 244.4L1097.8 234.4L1098.8 224.2L1099.8 213.9L1100.8 203.6L1101.8 193.3L1102.8 183L1103.8 172.9L1104.8 163.1L1105.8 153.5L1106.8 144.4L1107.8 135.8L1108.8 127.7L1109.8 120.3L1110.8 113.7L1111.8 107.9L1112.8 102.9L1113.8 99L1114.8 96L1115.8 94.1L1116.8 93.3L1117.8 93.6L1118.8 95L1119.8 97.4L1120.8 100.9L1121.8 105.4L1122.8 110.8L1123.8 117.1L1124.8 124.1L1125.8 131.9L1126.8 140.3L1127.8 149.3L1128.8 158.7L1129.8 168.5L1130.8 178.6L1131.8 188.9L1132.8 199.3L1133.8 209.7L1134.8 220.2L1135.8 230.6L1136.8 240.8L1137.8 250.8L1138.8 260.6L1139.8 270.1L1140.8 279.3L1141.8 288.1L1142.8 296.5L1143.8 304.6L1144.8 312.2L1145.8 319.4L1146.8 326.2L1147.8 332.5L1148.8 338.4L1149.8 343.9L1150.8 349L1151.8 353.7L1152.8 358L1153.8 362L1154.8 365.6L1155.8 368.9L1156.8 371.9L1157.8 374.6L1158.8 377.1L1159.8 379.3L1160.8 381.3L1161.8 383L1162.8 384.6L1163.8 386.1L1164.8 387.3L1165.8 388.5L1166.8 389.5L1167.8 390.4L1168.8 391.2L1169.8 391.9L1170.8 392.5L1171.8 393.1L1172.8 393.6L1173.8 394.1L1174.8 394.5L1175.8 394.9L1176.8 395.2L1177.8 395.5L1178.8 395.8L1179.8 396.1L1180.8 396.3L1181.8 396.5L1182.8 396.8L1183.8 397L1184.8 397.2L1185.8 397.3L1186.8 397.5L1187.8 397.7L1188.8 397.8L1189.8 398L1190.8 398.1L1191.8 398.3L1192.8 398.4L1193.8 398.6L1194.8 398.7L1195.8 398.8L1196.8 399L1197.8 399.1L1198.8 399.2L1199.8 399.3L1200.8 399.5L1201.8 399.6L1202.8 399.7L1203.8 399.8L1204.8 399.9L1205.8 400L1206.8 400.1L1207.8 400.2L1208.8 400.3L1209.8 400.4L1210.8 400.5L1211.8 400.7L1212.8 400.8L1213.8 400.8L1214.8 400.9L1215.8 401L1216.8 401.1L1217.8 401.2L1218.8 401.3L1219.8 401.4L1220.8 401.5L1221.8 401.6L1222.8 401.7L1223.8 401.8L1224.8 401.9L1225.8 402L1226.8 402.1" fill="none" stroke="#ff00ff" stroke-width="2.2" stroke-opacity="0.55"/>
<path d="M722.8 373L723.8 373.1L724.8 373.1L725.8 373.2L726.8 373.2L727.8 373.3L728.8 373.4L729.8 373.4L730.8 373.5L731.8 373.6L732.8 373.6L733.8 373.7L734.8 373.7L735.8 373.8L736.8 373.9L737.8 373.9L738.8 374L739.8 374.1L740.8 374.1L741.8 374.2L742.8 374.2L743.8 374.3L744.8 374.4L745.8 374.4L746.8 374.5L747.8 374.6L748.8 374.6L749.8 374.7L750.8 374.7L751.8 374.8L752.8 374.9L753.8 374.9L754.8 375L755.8 375.1L756.8 375.1L757.8 375.2L758.8 375.2L759.8 375.3L760.8 375.4L761.8 375.4L762.8 375.5L763.8 375.6L764.8 375.6L765.8 375.7L766.8 375.7L767.8 375.8L768.8 375.9L769.8 375.9L770.8 376L771.8 376.1L772.8 376.1L773.8 376.2L774.8 376.2L775.8 376.3L776.8 376.4L777.8 376.4L778.8 376.5L779.8 376.5L780.8 376.6L781.8 376.7L782.8 376.7L783.8 376.8L784.8 376.9L785.8 376.9L786.8 377L787.8 377L788.8 377.1L789.8 377.1L790.8 377.2L791.8 377.3L792.8 377.3L793.8 377.4L794.8 377.4L795.8 377.5L796.8 377.5L797.8 377.6L798.8 377.6L799.8 377.7L800.8 377.7L801.8 377.7L802.8 377.8L803.8 377.8L804.8 377.8L805.8 377.8L806.8 377.9L807.8 377.9L808.8 377.9L809.8 377.9L810.8 377.9L811.8 377.8L812.8 377.8L813.8 377.8L814.8 377.7L815.8 377.7L816.8 377.6L817.8 377.5L818.8 377.4L819.8 377.3L820.8 377.2L821.8 377L822.8 376.8L823.8 376.6L824.8 376.4L825.8 376.2L826.8 375.9L827.8 375.6L828.8 375.3L829.8 375L830.8 374.6L831.8 374.2L832.8 373.7L833.8 373.3L834.8 372.7L835.8 372.2L836.8 371.6L837.8 370.9L838.8 370.2L839.8 369.5L840.8 368.7L841.8 367.9L842.8 367.1L843.8 366.2L844.8 365.2L845.8 364.2L846.8 363.1L847.8 362.1L848.8 360.9L849.8 359.7L850.8 358.5L851.8 357.2L852.8 355.9L853.8 354.6L854.8 353.2L855.8 351.8L856.8 350.3L857.8 348.8L858.8 347.3L859.8 345.8L860.8 344.3L861.8 342.7L862.8 341.2L863.8 339.6L864.8 338.1L865.8 336.5L866.8 335L867.8 333.5L868.8 332L869.8 330.5L870.8 329.1L871.8 327.7L872.8 326.4L873.8 325.1L874.8 323.9L875.8 322.7L876.8 321.6L877.8 320.6L878.8 319.7L879.8 318.8L880.8 318.1L881.8 317.4L882.8 316.8L883.8 316.3L884.8 315.9L885.8 315.6L886.8 315.4L887.8 315.3L888.8 315.4L889.8 315.5L890.8 315.7L891.8 316L892.8 316.5L893.8 317L894.8 317.7L895.8 318.4L896.8 319.2L897.8 320.1L898.8 321.1L899.8 322.2L900.8 323.4L901.8 324.6L902.8 325.9L903.8 327.2L904.8 328.7L905.8 330.1L906.8 331.6L907.8 333.2L908.8 334.8L909.8 336.4L910.8 338L911.8 339.7L912.8 341.4L913.8 343.1L914.8 344.7L915.8 346.4L916.8 348.1L917.8 349.7L918.8 351.4L919.8 353L920.8 354.6L921.8 356.2L922.8 357.7L923.8 359.2L924.8 360.7L925.8 362.1L926.8 363.5L927.8 364.8L928.8 366.1L929.8 367.4L930.8 368.6L931.8 369.8L932.8 370.9L933.8 372L934.8 373L935.8 374L936.8 374.9L937.8 375.8L938.8 376.6L939.8 377.4L940.8 378.2L941.8 378.9L942.8 379.6L943.8 380.2L944.8 380.8L945.8 381.4L946.8 381.9L947.8 382.4L948.8 382.9L949.8 383.3L950.8 383.7L951.8 384.1L952.8 384.5L953.8 384.8L954.8 385.1L955.8 385.4L956.8 385.7L957.8 385.9L958.8 386.2L959.8 386.4L960.8 386.6L961.8 386.8L962.8 387L963.8 387.2L964.8 387.3L965.8 387.5L966.8 387.6L967.8 387.7L968.8 387.9L969.8 388L970.8 388.1L971.8 388.2L972.8 388.3L973.8 388.4L974.8 388.5L975.8 388.6L976.8 388.7L977.8 388.8L978.8 388.8L979.8 388.9L980.8 389L981.8 389.1L982.8 389.1L983.8 389.2L984.8 389.3L985.8 389.4L986.8 389.4L987.8 389.5L988.8 389.6L989.8 389.6L990.8 389.7L991.8 389.8L992.8 389.8L993.8 389.9L994.8 390L995.8 390L996.8 390.1L997.8 390.2L998.8 390.2L999.8 390.3L1000.8 390.3L1001.8 390.4L1002.8 390.5L1003.8 390.5L1004.8 390.6L1005.8 390.7L1006.8 390.7L1007.8 390.8L1008.8 390.8L1009.8 390.9L1010.8 391L1011.8 391L1012.8 391.1L1013.8 391.2L1014.8 391.2L1015.8 391.3L1016.8 391.3L1017.8 391.4L1018.8 391.5L1019.8 391.5L1020.8 391.6L1021.8 391.7L1022.8 391.7L1023.8 391.8L1024.8 391.8L1025.8 391.9L1026.8 392L1027.8 392L1028.8 392.1L1029.8 392.2L1030.8 392.2L1031.8 392.3L1032.8 392.3L1033.8 392.4L1034.8 392.5L1035.8 392.5L1036.8 392.6L1037.8 392.7L1038.8 392.7L1039.8 392.8L1040.8 392.8L1041.8 392.9L1042.8 393L1043.8 393L1044.8 393.1L1045.8 393.2L1046.8 393.2L1047.8 393.3L1048.8 393.3L1049.8 393.4L1050.8 393.5L1051.8 393.5L1052.8 393.6L1053.8 393.7L1054.8 393.7L1055.8 393.8L1056.8 393.8L1057.8 393.9L1058.8 394L1059.8 394L1060.8 394.1L1061.8 394.2L1062.8 394.2L1063.8 394.3L1064.8 394.3L1065.8 394.4L1066.8 394.5L1067.8 394.5L1068.8 394.6L1069.8 394.7L1070.8 394.7L1071.8 394.8L1072.8 394.8L1073.8 394.9L1074.8 395L1075.8 395L1076.8 395.1L1077.8 395.2L1078.8 395.2L1079.8 395.3L1080.8 395.3L1081.8 395.4L1082.8 395.5L1083.8 395.5L1084.8 395.6L1085.8 395.7L1086.8 395.7L1087.8 395.8L1088.8 395.8L1089.8 395.9L1090.8 396L1091.8 396L1092.8 396.1L1093.8 396.2L1094.8 396.2L1095.8 396.3L1096.8 396.3L1097.8 396.4L1098.8 396.5L1099.8 396.5L1100.8 396.6L1101.8 396.6L1102.8 396.7L1103.8 396.8L1104.8 396.8L1105.8 396.9L1106.8 397L1107.8 397L1108.8 397.1L1109.8 397.1L1110.8 397.2L1111.8 397.3L1112.8 397.3L1113.8 397.4L1114.8 397.5L1115.8 397.5L1116.8 397.6L1117.8 397.6L1118.8 397.7L1119.8 397.8L1120.8 397.8L1121.8 397.9L1122.8 398L1123.8 398L1124.8 398.1L1125.8 398.1L1126.8 398.2L1127.8 398.3L1128.8 398.3L1129.8 398.4L1130.8 398.5L1131.8 398.5L1132.8 398.6L1133.8 398.6L1134.8 398.7L1135.8 398.8L1136.8 398.8L1137.8 398.9L1138.8 399L1139.8 399L1140.8 399.1L1141.8 399.1L1142.8 399.2L1143.8 399.3L1144.8 399.3L1145.8 399.4L1146.8 399.5L1147.8 399.5L1148.8 399.6L1149.8 399.6L1150.8 399.7L1151.8 399.8L1152.8 399.8L1153.8 399.9L1154.8 400L1155.8 400L1156.8 400.1L1157.8 400.1L1158.8 400.2L1159.8 400.3L1160.8 400.3L1161.8 400.4L1162.8 400.5L1163.8 400.5L1164.8 400.6L1165.8 400.6L1166.8 400.7L1167.8 400.8L1168.8 400.8L1169.8 400.9L1170.8 401L1171.8 401L1172.8 401.1L1173.8 401.1L1174.8 401.2L1175.8 401.3L1176.8 401.3L1177.8 401.4L1178.8 401.5L1179.8 401.5L1180.8 401.6L1181.8 401.6L1182.8 401.7L1183.8 401.8L1184.8 401.8L1185.8 401.9L1186.8 402L1187.8 402L1188.8 402.1L1189.8 402.1L1190.8 402.2L1191.8 402.3L1192.8 402.3L1193.8 402.4L1194.8 402.5L1195.8 402.5L1196.8 402.6L1197.8 402.6L1198.8 402.7L1199.8 402.8L1200.8 402.8L1201.8 402.9L1202.8 403L1203.8 403L1204.8 403.1L1205.8 403.1L1206.8 403.2L1207.8 403.3L1208.8 403.3L1209.8 403.4L1210.8 403.5L1211.8 403.5L1212.8 403.6L1213.8 403.6L1214.8 403.7L1215.8 403.8L1216.8 403.8L1217.8 403.9L1218.8 404L1219.8 404L1220.8 404.1L1221.8 404.1L1222.8 404.2L1223.8 404.3L1224.8 404.3L1225.8 404.4L1226.8 404.4L1227.8 404.5L1228.8 404.6L1229.8 404.6L1230.8 404.7L1231.8 404.8L1232.8 404.8L1233.8 404.9L1234.8 404.9L1235.8 405L1236.8 405.1L1237.8 405.1L1238.8 405.2L1239.8 405.3L1240.8 405.3L1241.8 405.4L1242.8 405.4L1243.8 405.5L1244.8 405.6L1245.8 405.6L1246.8 405.7L1247.8 405.8L1248.8 405.8L1249.8 405.9L1250.8 405.9L1251.8 406L1252.8 406.1L1253.8 406.1L1254.8 406.2L1255.8 406.3L1256.8 406.3L1257.8 406.4L1258.8 406.4L1259.8 406.5L1260.8 406.6L1261.8 406.6L1262.8 406.7L1263.8 406.8L1264.8 406.8L1265.8 406.9L1266.8 406.9L1267.8 407L1268.8 407.1L1269.8 407.1L1270.8 407.2L1271.8 407.3L1272.8 407.3L1273.8 407.4L1274.8 407.4L1275.8 407.5L1276.8 407.6L1277.8 407.6L1278.8 407.7L1279.8 407.8L1280.8 407.8L1281.8 407.9L1282.8 407.9L1283.8 408" fill="none" stroke="#8000ff" stroke-width="2.2" stroke-opacity="0.65"/>
</g>
<rect x="722.8" y="22.7" width="560.9" height="417.8" fill="none" stroke="#000" stroke-width="3.2"/>
<text x="1283.7" y="473" font-size="25" text-anchor="middle" >134</text>
<text x="1203.6" y="473" font-size="25" text-anchor="middle" >136</text>
<text x="1123.4" y="473" font-size="25" text-anchor="middle" >138</text>
<text x="1043.3" y="473" font-size="25" text-anchor="middle" >140</text>
<text x="963.2" y="473" font-size="25" text-anchor="middle" >142</text>
<text x="883.1" y="473" font-size="25" text-anchor="middle" >144</text>
<text x="802.9" y="473" font-size="25" text-anchor="middle" >146</text>
<text x="722.8" y="473" font-size="25" text-anchor="middle" >148</text>
<path d="M1283.7 440.5V448.5M1243.6 440.5V446M1203.6 440.5V448.5M1163.5 440.5V446M1123.4 440.5V448.5M1083.4 440.5V446M1043.3 440.5V448.5M1003.2 440.5V446M963.2 440.5V448.5M923.1 440.5V446M883.1 440.5V448.5M843 440.5V446M802.9 440.5V448.5M762.9 440.5V446M722.8 440.5V448.5" stroke="#000" stroke-width="2.6" fill="none"/>
<text x="895.5" y="507.9" font-size="25" text-anchor="start" >Binding Energy (eV)</text>
<text transform="translate(686.5,308) rotate(-90)" font-size="25">Intensity (a.u.)</text>
<text x="667" y="42.3" font-size="25" text-anchor="start" >(b)</text>
<path d="M728.7 41.4H774.7" stroke="#000000" stroke-width="2.8"/>
<text x="779" y="47.8" font-size="25" text-anchor="start" >Experiment</text>
<path d="M728.7 72.4H774.7" stroke="#ff0000" stroke-width="2.8"/>
<text x="779" y="78.8" font-size="25" text-anchor="start" >Simulated</text>
<path d="M728.7 103.8H774.7" stroke="#0000ff" stroke-width="2.8"/>
<text x="779" y="109.8" font-size="25" text-anchor="start" >Background</text>
<text x="1129.3" y="58.4" font-size="25">I<tspan font-size="14" dy="9.2">2</tspan><tspan dy="-9.2">-PbSe-T30</tspan></text>
<text x="926.8" y="150.1" font-size="25">Pb4f<tspan font-size="15.5" dy="9.3">5/2</tspan></text>
<text x="1134.4" y="116.2" font-size="25">Pb4f<tspan font-size="15.5" dy="9">7/2</tspan></text>
<g clip-path="url(#clip3)">
<path d="M76 889.1L77 889.1L78 889.2L79 889.2L80 889.3L81 889.3L82 889.3L83 889.3L84 889.2L85 889.1L86 889L87 888.8L88 888.6L89 888.3L90 888L91 887.7L92 887.4L93 887.2L94 887L95 887L96 887.1L97 887.3L98 887.6L99 888L100 888.4L101 888.8L102 889.1L103 889.5L104 889.7L105 889.9L106 890.1L107 890.2L108 890.3L109 890.4L110 890.4L111 890.4L112 890.5L113 890.5L114 890.5L115 890.5L116 890.5L117 890.5L118 890.5L119 890.5L120 890.4L121 890.4L122 890.4L123 890.4L124 890.3L125 890.3L126 890.2L127 890.1L128 890L129 889.9L130 889.7L131 889.5L132 889.3L133 889L134 888.7L135 888.3L136 888L137 887.7L138 887.4L139 887.1L140 886.9L141 886.8L142 886.7L143 886.7L144 886.8L145 886.8L146 886.9L147 886.9L148 886.8L149 886.7L150 886.6L151 886.4L152 886.2L153 886L154 885.7L155 885.4L156 885.1L157 884.7L158 884.4L159 884L160 883.6L161 883.2L162 882.8L163 882.4L164 881.9L165 881.4L166 881L167 880.5L168 880L169 879.4L170 878.9L171 878.3L172 877.7L173 877.1L174 876.5L175 875.9L176 875.2L177 874.6L178 873.9L179 873.2L180 872.4L181 871.7L182 870.9L183 870.1L184 869.3L185 868.5L186 867.6L187 866.7L188 865.8L189 864.8L190 863.9L191 862.9L192 861.9L193 860.8L194 859.8L195 858.7L196 857.7L197 856.6L198 855.5L199 854.5L200 853.4L201 852.4L202 851.4L203 850.5L204 849.5L205 848.6L206 847.7L207 846.9L208 846L209 845.3L210 844.5L211 843.8L212 843.1L213 842.4L214 841.7L215 841.1L216 840.5L217 839.8L218 839.2L219 838.6L220 838L221 837.4L222 836.9L223 836.3L224 835.7L225 835.2L226 834.7L227 834.1L228 833.6L229 833.1L230 832.7L231 832.2L232 831.8L233 831.4L234 831.1L235 830.7L236 830.4L237 830.1L238 829.9L239 829.7L240 829.5L241 829.4L242 829.3L243 829.2L244 829.2L245 829.2L246 829.3L247 829.3L248 829.5L249 829.6L250 829.8L251 830L252 830.3L253 830.6L254 830.9L255 831.2L256 831.6L257 832L258 832.4L259 832.9L260 833.3L261 833.8L262 834.3L263 834.8L264 835.3L265 835.8L266 836.4L267 836.9L268 837.5L269 838L270 838.6L271 839.2L272 839.8L273 840.4L274 841L275 841.7L276 842.4L277 843.1L278 843.8L279 844.7L280 845.5L281 846.4L282 847.3L283 848.3L284 849.4L285 850.5L286 851.6L287 852.7L288 853.9L289 855.1L290 856.3L291 857.5L292 858.7L293 860L294 861.2L295 862.4L296 863.5L297 864.7L298 865.8L299 866.9L300 868L301 869.1L302 870.1L303 871.1L304 872L305 873L306 873.9L307 874.8L308 875.7L309 876.5L310 877.3L311 878.1L312 878.9L313 879.6L314 880.4L315 881.1L316 881.8L317 882.5L318 883.1L319 883.8L320 884.4L321 885L322 885.6L323 886.2L324 886.7L325 887.2L326 887.7L327 888.2L328 888.7L329 889.1L330 889.5L331 889.9L332 890.3L333 890.7L334 891L335 891.3L336 891.6L337 891.9L338 892.1L339 892.3L340 892.5L341 892.7L342 892.9L343 893L344 893.1L345 893.2L346 893.2L347 893.2L348 893.2L349 893.2L350 893.1L351 893L352 892.9L353 892.7L354 892.5L355 892.3L356 892L357 891.7L358 891.3L359 890.9L360 890.5L361 890L362 889.5L363 889L364 888.3L365 887.7L366 887L367 886.2L368 885.4L369 884.5L370 883.5L371 882.5L372 881.5L373 880.3L374 879.1L375 877.8L376 876.5L377 875L378 873.5L379 871.9L380 870.3L381 868.5L382 866.7L383 864.7L384 862.7L385 860.6L386 858.4L387 856.1L388 853.7L389 851.2L390 848.6L391 845.9L392 843.1L393 840.3L394 837.3L395 834.3L396 831.1L397 827.9L398 824.6L399 821.2L400 817.8L401 814.2L402 810.6L403 806.9L404 803.2L405 799.3L406 795.4L407 791.5L408 787.4L409 783.3L410 779.2L411 775L412 770.7L413 766.4L414 762L415 757.6L416 753.2L417 748.6L418 744.1L419 739.5L420 734.9L421 730.3L422 725.6L423 721L424 716.3L425 711.6L426 706.9L427 702.3L428 697.6L429 693L430 688.4L431 683.8L432 679.3L433 674.9L434 670.5L435 666.2L436 662L437 657.8L438 653.8L439 649.9L440 646.1L441 642.4L442 638.9L443 635.5L444 632.3L445 629.3L446 626.4L447 623.7L448 621.2L449 618.9L450 616.8L451 614.9L452 613.2L453 611.8L454 610.5L455 609.5L456 608.8L457 608.2L458 608L459 607.9L460 608.1L461 608.5L462 609.2L463 610.1L464 611.2L465 612.6L466 614.1L467 615.9L468 618L469 620.2L470 622.6L471 625.3L472 628.1L473 631.1L474 634.3L475 637.7L476 641.2L477 644.9L478 648.7L479 652.7L480 656.7L481 660.9L482 665.2L483 669.6L484 674.1L485 678.7L486 683.4L487 688.1L488 692.9L489 697.7L490 702.5L491 707.4L492 712.4L493 717.3L494 722.2L495 727.2L496 732.1L497 737.1L498 742L499 746.9L500 751.7L501 756.5L502 761.3L503 766.1L504 770.7L505 775.4L506 779.9L507 784.4L508 788.9L509 793.2L510 797.5L511 801.7L512 805.9L513 809.9L514 813.9L515 817.8L516 821.6L517 825.3L518 828.9L519 832.4L520 835.9L521 839.2L522 842.5L523 845.7L524 848.8L525 851.8L526 854.8L527 857.7L528 860.4L529 863.2L530 865.8L531 868.4L532 870.8L533 873.2L534 875.5L535 877.7L536 879.9L537 881.9L538 883.8L539 885.6L540 887.3L541 888.9L542 890.5L543 891.9L544 893.3L545 894.7L546 896.1L547 897.4L548 898.9L549 900.3L550 901.8L551 903.4L552 905L553 906.5L554 907.9L555 909.2L556 910.3L557 911.1L558 911.7L559 912L560 912.1L561 912L562 911.9L563 911.8L564 911.6L565 911.6L566 911.6L567 911.7L568 912L569 912.2L570 912.6L571 913L572 913.4L573 913.8L574 914.2L575 914.7L576 915.1L577 915.6L578 916L579 916.4L580 916.8L581 917.2L582 917.5L583 917.8L584 918.1L585 918.3L586 918.5L587 918.6L588 918.7L589 918.9L590 918.9L591 919L592 919.1L593 919.3L594 919.5L595 919.7L596 920.1L597 920.5L598 920.9L599 921.4L600 922L601 922.5L602 922.9L603 923.2L604 923.4L605 923.4L606 923.3L607 923L608 922.7L609 922.3L610 922L611 921.7L612 921.5L613 921.3L614 921.3L615 921.4L616 921.5L617 921.7L618 921.9L619 922.2L620 922.5L621 922.7L622 923L623 923.2L624 923.4L625 923.5L626 923.6L627 923.6L628 923.6L629 923.5L630 923.4L631 923.3L632 923.2L633 923.1L634 923L635 923L636 922.9L637 922.9L638 922.9L639 923L640 923L641 923.1" fill="none" stroke="#000" stroke-width="3" stroke-linejoin="round"/>
<path d="M76 889.1L77 889.2L78 889.2L79 889.3L80 889.4L81 889.4L82 889.5L83 889.5L84 889.6L85 889.6L86 889.7L87 889.7L88 889.8L89 889.8L90 889.8L91 889.9L92 889.9L93 890L94 890L95 890.1L96 890.1L97 890.1L98 890.2L99 890.2L100 890.3L101 890.3L102 890.3L103 890.4L104 890.4L105 890.4L106 890.4L107 890.5L108 890.5L109 890.5L110 890.5L111 890.5L112 890.5L113 890.6L114 890.6L115 890.6L116 890.6L117 890.6L118 890.5L119 890.5L120 890.5L121 890.5L122 890.5L123 890.4L124 890.4L125 890.4L126 890.3L127 890.3L128 890.2L129 890.1L130 890.1L131 890L132 889.9L133 889.8L134 889.7L135 889.6L136 889.5L137 889.4L138 889.3L139 889.1L140 889L141 888.8L142 888.7L143 888.5L144 888.3L145 888.1L146 887.9L147 887.7L148 887.5L149 887.2L150 887L151 886.7L152 886.4L153 886.1L154 885.8L155 885.5L156 885.2L157 884.8L158 884.5L159 884.1L160 883.7L161 883.3L162 882.9L163 882.5L164 882L165 881.5L166 881.1L167 880.6L168 880L169 879.5L170 879L171 878.4L172 877.8L173 877.3L174 876.6L175 876L176 875.4L177 874.7L178 874.1L179 873.4L180 872.7L181 872L182 871.2L183 870.5L184 869.7L185 869L186 868.2L187 867.4L188 866.6L189 865.8L190 864.9L191 864.1L192 863.2L193 862.4L194 861.5L195 860.7L196 859.8L197 858.9L198 858L199 857.1L200 856.2L201 855.3L202 854.4L203 853.5L204 852.6L205 851.7L206 850.8L207 849.9L208 849L209 848.1L210 847.3L211 846.4L212 845.5L213 844.7L214 843.9L215 843L216 842.2L217 841.4L218 840.6L219 839.9L220 839.1L221 838.4L222 837.7L223 837L224 836.4L225 835.7L226 835.1L227 834.5L228 834L229 833.4L230 832.9L231 832.5L232 832L233 831.6L234 831.2L235 830.9L236 830.6L237 830.3L238 830.1L239 829.9L240 829.7L241 829.5L242 829.5L243 829.4L244 829.4L245 829.4L246 829.4L247 829.5L248 829.6L249 829.8L250 830L251 830.2L252 830.5L253 830.8L254 831.1L255 831.5L256 831.9L257 832.3L258 832.8L259 833.3L260 833.9L261 834.4L262 835L263 835.6L264 836.3L265 837L266 837.7L267 838.4L268 839.2L269 839.9L270 840.7L271 841.5L272 842.4L273 843.2L274 844.1L275 845L276 845.9L277 846.8L278 847.7L279 848.7L280 849.6L281 850.6L282 851.6L283 852.5L284 853.5L285 854.5L286 855.5L287 856.5L288 857.5L289 858.5L290 859.4L291 860.4L292 861.4L293 862.4L294 863.4L295 864.3L296 865.3L297 866.3L298 867.2L299 868.1L300 869.1L301 870L302 870.9L303 871.8L304 872.7L305 873.6L306 874.4L307 875.3L308 876.1L309 876.9L310 877.7L311 878.5L312 879.3L313 880L314 880.8L315 881.5L316 882.2L317 882.9L318 883.5L319 884.2L320 884.8L321 885.4L322 886L323 886.6L324 887.2L325 887.7L326 888.2L327 888.7L328 889.2L329 889.7L330 890.1L331 890.5L332 890.9L333 891.3L334 891.7L335 892L336 892.3L337 892.6L338 892.9L339 893.2L340 893.4L341 893.6L342 893.8L343 894L344 894.1L345 894.2L346 894.3L347 894.4L348 894.4L349 894.4L350 894.4L351 894.4L352 894.3L353 894.2L354 894.1L355 893.9L356 893.7L357 893.5L358 893.2L359 892.9L360 892.6L361 892.2L362 891.8L363 891.3L364 890.8L365 890.3L366 889.7L367 889L368 888.3L369 887.5L370 886.7L371 885.9L372 884.9L373 883.9L374 882.9L375 881.8L376 880.6L377 879.3L378 878L379 876.6L380 875.1L381 873.6L382 871.9L383 870.2L384 868.4L385 866.5L386 864.5L387 862.4L388 860.3L389 858L390 855.6L391 853.2L392 850.6L393 848L394 845.2L395 842.4L396 839.4L397 836.3L398 833.2L399 829.9L400 826.5L401 823.1L402 819.5L403 815.8L404 812.1L405 808.2L406 804.2L407 800.2L408 796.1L409 791.8L410 787.5L411 783.1L412 778.6L413 774.1L414 769.5L415 764.8L416 760.1L417 755.3L418 750.4L419 745.6L420 740.6L421 735.7L422 730.7L423 725.8L424 720.8L425 715.8L426 710.8L427 705.9L428 700.9L429 696L430 691.2L431 686.4L432 681.7L433 677L434 672.4L435 667.9L436 663.6L437 659.3L438 655.2L439 651.1L440 647.3L441 643.6L442 640L443 636.6L444 633.4L445 630.4L446 627.6L447 625L448 622.6L449 620.4L450 618.5L451 616.8L452 615.3L453 614.1L454 613.2L455 612.5L456 612L457 611.8L458 611.9L459 612.2L460 612.8L461 613.6L462 614.7L463 616L464 617.6L465 619.5L466 621.5L467 623.8L468 626.4L469 629.1L470 632L471 635.2L472 638.5L473 642L474 645.7L475 649.5L476 653.5L477 657.7L478 662L479 666.4L480 670.9L481 675.5L482 680.2L483 685L484 689.8L485 694.8L486 699.7L487 704.8L488 709.8L489 714.9L490 720L491 725.1L492 730.2L493 735.4L494 740.4L495 745.5L496 750.6L497 755.6L498 760.6L499 765.5L500 770.3L501 775.2L502 779.9L503 784.6L504 789.2L505 793.7L506 798.2L507 802.5L508 806.8L509 811L510 815.1L511 819.1L512 823L513 826.8L514 830.5L515 834.1L516 837.6L517 841L518 844.4L519 847.6L520 850.7L521 853.7L522 856.6L523 859.4L524 862.1L525 864.7L526 867.2L527 869.6L528 871.9L529 874.2L530 876.3L531 878.4L532 880.4L533 882.2L534 884.1L535 885.8L536 887.4L537 889L538 890.5L539 892L540 893.4L541 894.7L542 895.9L543 897.1L544 898.2L545 899.3L546 900.3L547 901.3L548 902.2L549 903.1L550 903.9L551 904.7L552 905.5L553 906.2L554 906.9L555 907.5L556 908.1L557 908.7L558 909.2L559 909.7L560 910.2L561 910.7L562 911.1L563 911.6L564 912L565 912.3L566 912.7L567 913.1L568 913.4L569 913.7L570 914L571 914.3L572 914.5L573 914.8L574 915.1L575 915.3L576 915.5L577 915.7L578 916L579 916.2L580 916.4L581 916.5L582 916.7L583 916.9L584 917.1L585 917.2L586 917.4L587 917.5L588 917.7L589 917.8L590 918L591 918.1L592 918.3L593 918.4L594 918.5L595 918.7L596 918.8L597 918.9L598 919L599 919.2L600 919.3L601 919.4L602 919.5L603 919.6L604 919.7L605 919.8L606 920L607 920.1L608 920.2L609 920.3L610 920.4L611 920.5L612 920.6L613 920.7L614 920.8L615 920.9L616 921L617 921.1L618 921.2L619 921.3L620 921.4L621 921.5L622 921.6L623 921.7L624 921.8L625 921.9L626 921.9L627 922L628 922.1L629 922.2L630 922.3L631 922.4L632 922.5L633 922.6L634 922.7L635 922.8L636 922.8L637 922.9L638 923L639 923.1L640 923.2L641 923.3" fill="none" stroke="#ff0000" stroke-width="3" stroke-linejoin="round"/>
<path d="M76 890L77 890.1L78 890.1L79 890.2L80 890.3L81 890.3L82 890.4L83 890.4L84 890.5L85 890.6L86 890.6L87 890.7L88 890.8L89 890.8L90 890.9L91 890.9L92 891L93 891.1L94 891.1L95 891.2L96 891.3L97 891.3L98 891.4L99 891.4L100 891.5L101 891.6L102 891.6L103 891.7L104 891.8L105 891.8L106 891.9L107 892L108 892L109 892.1L110 892.1L111 892.2L112 892.3L113 892.3L114 892.4L115 892.5L116 892.5L117 892.6L118 892.6L119 892.7L120 892.8L121 892.8L122 892.9L123 893L124 893L125 893.1L126 893.1L127 893.2L128 893.3L129 893.3L130 893.4L131 893.5L132 893.5L133 893.6L134 893.6L135 893.7L136 893.8L137 893.8L138 893.9L139 894L140 894L141 894.1L142 894.2L143 894.2L144 894.3L145 894.3L146 894.4L147 894.5L148 894.5L149 894.6L150 894.7L151 894.7L152 894.8L153 894.8L154 894.9L155 895L156 895L157 895.1L158 895.2L159 895.2L160 895.3L161 895.3L162 895.4L163 895.5L164 895.5L165 895.6L166 895.7L167 895.7L168 895.8L169 895.9L170 895.9L171 896L172 896L173 896.1L174 896.2L175 896.2L176 896.3L177 896.4L178 896.4L179 896.5L180 896.5L181 896.6L182 896.7L183 896.7L184 896.8L185 896.9L186 896.9L187 897L188 897L189 897.1L190 897.2L191 897.2L192 897.3L193 897.4L194 897.4L195 897.5L196 897.5L197 897.6L198 897.7L199 897.7L200 897.8L201 897.9L202 897.9L203 898L204 898.1L205 898.1L206 898.2L207 898.2L208 898.3L209 898.4L210 898.4L211 898.5L212 898.6L213 898.6L214 898.7L215 898.7L216 898.8L217 898.9L218 898.9L219 899L220 899.1L221 899.1L222 899.2L223 899.2L224 899.3L225 899.4L226 899.4L227 899.5L228 899.6L229 899.6L230 899.7L231 899.8L232 899.8L233 899.9L234 899.9L235 900L236 900.1L237 900.1L238 900.2L239 900.3L240 900.3L241 900.4L242 900.4L243 900.5L244 900.6L245 900.6L246 900.7L247 900.8L248 900.8L249 900.9L250 900.9L251 901L252 901.1L253 901.1L254 901.2L255 901.3L256 901.3L257 901.4L258 901.4L259 901.5L260 901.6L261 901.6L262 901.7L263 901.8L264 901.8L265 901.9L266 902L267 902L268 902.1L269 902.1L270 902.2L271 902.3L272 902.3L273 902.4L274 902.5L275 902.5L276 902.6L277 902.6L278 902.7L279 902.8L280 902.8L281 902.9L282 903L283 903L284 903.1L285 903.1L286 903.2L287 903.3L288 903.3L289 903.4L290 903.5L291 903.5L292 903.6L293 903.7L294 903.7L295 903.8L296 903.8L297 903.9L298 904L299 904L300 904.1L301 904.2L302 904.2L303 904.3L304 904.3L305 904.4L306 904.5L307 904.5L308 904.6L309 904.7L310 904.7L311 904.8L312 904.8L313 904.9L314 905L315 905L316 905.1L317 905.2L318 905.2L319 905.3L320 905.3L321 905.4L322 905.5L323 905.5L324 905.6L325 905.7L326 905.7L327 905.8L328 905.9L329 905.9L330 906L331 906L332 906.1L333 906.2L334 906.2L335 906.3L336 906.4L337 906.4L338 906.5L339 906.5L340 906.6L341 906.7L342 906.7L343 906.8L344 906.9L345 906.9L346 907L347 907L348 907.1L349 907.2L350 907.2L351 907.3L352 907.4L353 907.4L354 907.5L355 907.6L356 907.6L357 907.7L358 907.7L359 907.8L360 907.9L361 907.9L362 908L363 908.1L364 908.1L365 908.2L366 908.2L367 908.3L368 908.4L369 908.4L370 908.5L371 908.6L372 908.6L373 908.7L374 908.7L375 908.8L376 908.9L377 908.9L378 909L379 909.1L380 909.1L381 909.2L382 909.3L383 909.3L384 909.4L385 909.4L386 909.5L387 909.6L388 909.6L389 909.7L390 909.8L391 909.8L392 909.9L393 909.9L394 910L395 910.1L396 910.1L397 910.2L398 910.3L399 910.3L400 910.4L401 910.4L402 910.5L403 910.6L404 910.6L405 910.7L406 910.8L407 910.8L408 910.9L409 910.9L410 911L411 911.1L412 911.1L413 911.2L414 911.3L415 911.3L416 911.4L417 911.5L418 911.5L419 911.6L420 911.6L421 911.7L422 911.8L423 911.8L424 911.9L425 912L426 912L427 912.1L428 912.1L429 912.2L430 912.3L431 912.3L432 912.4L433 912.5L434 912.5L435 912.6L436 912.6L437 912.7L438 912.8L439 912.8L440 912.9L441 913L442 913L443 913.1L444 913.2L445 913.2L446 913.3L447 913.3L448 913.4L449 913.5L450 913.5L451 913.6L452 913.7L453 913.7L454 913.8L455 913.8L456 913.9L457 914L458 914L459 914.1L460 914.2L461 914.2L462 914.3L463 914.3L464 914.4L465 914.5L466 914.5L467 914.6L468 914.7L469 914.7L470 914.8L471 914.8L472 914.9L473 915L474 915L475 915.1L476 915.2L477 915.2L478 915.3L479 915.4L480 915.4L481 915.5L482 915.5L483 915.6L484 915.7L485 915.7L486 915.8L487 915.9L488 915.9L489 916L490 916L491 916.1L492 916.2L493 916.2L494 916.3L495 916.4L496 916.4L497 916.5L498 916.5L499 916.6L500 916.7L501 916.7L502 916.8L503 916.9L504 916.9L505 917L506 917.1L507 917.1L508 917.2L509 917.2L510 917.3L511 917.4L512 917.4L513 917.5L514 917.6L515 917.6L516 917.7L517 917.7L518 917.8L519 917.9L520 917.9L521 918L522 918.1L523 918.1L524 918.2L525 918.2L526 918.3L527 918.4L528 918.4L529 918.5L530 918.6L531 918.6L532 918.7L533 918.7L534 918.8L535 918.9L536 918.9L537 919L538 919.1L539 919.1L540 919.2L541 919.3L542 919.3L543 919.4L544 919.4L545 919.5L546 919.6L547 919.6L548 919.7L549 919.8L550 919.8L551 919.9L552 919.9L553 920L554 920.1L555 920.1L556 920.2L557 920.3L558 920.3L559 920.4L560 920.4L561 920.5L562 920.6L563 920.6L564 920.7L565 920.8L566 920.8L567 920.9L568 921L569 921L570 921.1L571 921.1L572 921.2L573 921.3L574 921.3L575 921.4L576 921.5L577 921.5L578 921.6L579 921.6L580 921.7L581 921.8L582 921.8L583 921.9L584 922L585 922L586 922.1L587 922.1L588 922.2L589 922.3L590 922.3L591 922.4L592 922.5L593 922.5L594 922.6L595 922.7L596 922.7L597 922.8L598 922.8L599 922.9L600 923L601 923L602 923.1L603 923.2L604 923.2L605 923.3L606 923.3L607 923.4L608 923.5L609 923.5L610 923.6L611 923.7L612 923.7L613 923.8L614 923.8L615 923.9L616 924L617 924L618 924.1L619 924.2L620 924.2L621 924.3L622 924.3L623 924.4L624 924.5L625 924.5L626 924.6L627 924.7L628 924.7L629 924.8L630 924.9L631 924.9L632 925L633 925L634 925.1L635 925.2L636 925.2L637 925.3L638 925.4L639 925.4L640 925.5L641 925.5" fill="none" stroke="#0000ff" stroke-width="3"/>
<path d="M76 889.7L77 889.7L78 889.8L79 889.8L80 889.9L81 890L82 890L83 890.1L84 890.1L85 890.2L86 890.2L87 890.3L88 890.3L89 890.4L90 890.4L91 890.5L92 890.5L93 890.6L94 890.6L95 890.7L96 890.7L97 890.8L98 890.8L99 890.8L100 890.9L101 890.9L102 891L103 891L104 891L105 891.1L106 891.1L107 891.1L108 891.1L109 891.2L110 891.2L111 891.2L112 891.2L113 891.2L114 891.2L115 891.2L116 891.3L117 891.3L118 891.2L119 891.2L120 891.2L121 891.2L122 891.2L123 891.2L124 891.1L125 891.1L126 891.1L127 891L128 891L129 890.9L130 890.8L131 890.8L132 890.7L133 890.6L134 890.5L135 890.4L136 890.3L137 890.2L138 890.1L139 889.9L140 889.8L141 889.7L142 889.5L143 889.3L144 889.1L145 889L146 888.8L147 888.5L148 888.3L149 888.1L150 887.8L151 887.6L152 887.3L153 887L154 886.7L155 886.4L156 886.1L157 885.7L158 885.4L159 885L160 884.6L161 884.2L162 883.8L163 883.4L164 883L165 882.5L166 882L167 881.5L168 881L169 880.5L170 880L171 879.4L172 878.9L173 878.3L174 877.7L175 877.1L176 876.4L177 875.8L178 875.1L179 874.4L180 873.8L181 873.1L182 872.3L183 871.6L184 870.8L185 870.1L186 869.3L187 868.5L188 867.7L189 866.9L190 866.1L191 865.3L192 864.4L193 863.6L194 862.7L195 861.9L196 861L197 860.1L198 859.2L199 858.4L200 857.5L201 856.6L202 855.7L203 854.8L204 853.9L205 853L206 852.1L207 851.2L208 850.4L209 849.5L210 848.6L211 847.8L212 846.9L213 846.1L214 845.3L215 844.4L216 843.6L217 842.9L218 842.1L219 841.3L220 840.6L221 839.9L222 839.2L223 838.5L224 837.9L225 837.3L226 836.7L227 836.1L228 835.5L229 835L230 834.5L231 834.1L232 833.7L233 833.3L234 832.9L235 832.6L236 832.3L237 832L238 831.8L239 831.6L240 831.4L241 831.3L242 831.2L243 831.2L244 831.2L245 831.2L246 831.2L247 831.4L248 831.5L249 831.7L250 831.9L251 832.1L252 832.4L253 832.7L254 833.1L255 833.5L256 833.9L257 834.4L258 834.9L259 835.4L260 835.9L261 836.5L262 837.1L263 837.8L264 838.4L265 839.1L266 839.9L267 840.6L268 841.4L269 842.2L270 843L271 843.9L272 844.7L273 845.6L274 846.5L275 847.4L276 848.3L277 849.3L278 850.2L279 851.2L280 852.2L281 853.2L282 854.1L283 855.1L284 856.2L285 857.2L286 858.2L287 859.2L288 860.2L289 861.2L290 862.3L291 863.3L292 864.3L293 865.3L294 866.3L295 867.3L296 868.3L297 869.3L298 870.3L299 871.3L300 872.2L301 873.2L302 874.1L303 875.1L304 876L305 876.9L306 877.8L307 878.7L308 879.6L309 880.4L310 881.3L311 882.1L312 882.9L313 883.7L314 884.5L315 885.3L316 886.1L317 886.8L318 887.5L319 888.2L320 888.9L321 889.6L322 890.3L323 890.9L324 891.6L325 892.2L326 892.8L327 893.4L328 893.9L329 894.5L330 895L331 895.6L332 896.1L333 896.6L334 897L335 897.5L336 898L337 898.4L338 898.8L339 899.2L340 899.6L341 900L342 900.4L343 900.8L344 901.1L345 901.5L346 901.8L347 902.1L348 902.4L349 902.7L350 903L351 903.3L352 903.5L353 903.8L354 904L355 904.3L356 904.5L357 904.7L358 905L359 905.2L360 905.4L361 905.6L362 905.8L363 906L364 906.1L365 906.3L366 906.5L367 906.6L368 906.8L369 906.9L370 907.1L371 907.2L372 907.4L373 907.5L374 907.6L375 907.8L376 907.9L377 908L378 908.1L379 908.3L380 908.4L381 908.5L382 908.6L383 908.7L384 908.8L385 908.9L386 909L387 909.1L388 909.2L389 909.3L390 909.4L391 909.4L392 909.5L393 909.6L394 909.7L395 909.8L396 909.9L397 910L398 910L399 910.1L400 910.2L401 910.3L402 910.3L403 910.4L404 910.5L405 910.6L406 910.6L407 910.7L408 910.8L409 910.9L410 910.9L411 911L412 911.1L413 911.2L414 911.2L415 911.3L416 911.4L417 911.4L418 911.5L419 911.6L420 911.6L420 911.9L418 911.8L412 911.4L406 911.1L400 910.7L394 910.3L388 909.9L382 909.5L376 909.1L370 908.8L364 908.4L358 908L352 907.6L346 907.2L340 906.8L334 906.5L328 906.1L322 905.7L316 905.3L310 904.9L304 904.5L298 904.2L292 903.8L286 903.4L280 903L274 902.6L268 902.2L262 901.9L256 901.5L250 901.1L244 900.7L238 900.3L232 900L226 899.6L220 899.2L214 898.8L208 898.4L202 898L196 897.7L190 897.3L184 896.9L178 896.5L172 896.1L166 895.7L160 895.4L154 895L148 894.6L142 894.2L136 893.8L130 893.4L124 893.1L118 892.7L112 892.3L106 891.9L100 891.5L94 891.1L88 890.8L82 890.4L76 890Z" fill="url(#g7)"/>
<path d="M76 889.5L77 889.5L78 889.6L79 889.6L80 889.7L81 889.8L82 889.8L83 889.9L84 889.9L85 890L86 890.1L87 890.1L88 890.2L89 890.2L90 890.3L91 890.4L92 890.4L93 890.5L94 890.5L95 890.6L96 890.7L97 890.7L98 890.8L99 890.8L100 890.9L101 890.9L102 891L103 891.1L104 891.1L105 891.2L106 891.2L107 891.3L108 891.4L109 891.4L110 891.5L111 891.5L112 891.6L113 891.6L114 891.7L115 891.8L116 891.8L117 891.9L118 891.9L119 892L120 892.1L121 892.1L122 892.2L123 892.2L124 892.3L125 892.3L126 892.4L127 892.5L128 892.5L129 892.6L130 892.6L131 892.7L132 892.7L133 892.8L134 892.9L135 892.9L136 893L137 893L138 893.1L139 893.2L140 893.2L141 893.3L142 893.3L143 893.4L144 893.4L145 893.5L146 893.6L147 893.6L148 893.7L149 893.7L150 893.8L151 893.8L152 893.9L153 893.9L154 894L155 894.1L156 894.1L157 894.2L158 894.2L159 894.3L160 894.3L161 894.4L162 894.5L163 894.5L164 894.6L165 894.6L166 894.7L167 894.7L168 894.8L169 894.8L170 894.9L171 895L172 895L173 895.1L174 895.1L175 895.2L176 895.2L177 895.3L178 895.3L179 895.4L180 895.5L181 895.5L182 895.6L183 895.6L184 895.7L185 895.7L186 895.8L187 895.8L188 895.9L189 896L190 896L191 896.1L192 896.1L193 896.2L194 896.2L195 896.3L196 896.3L197 896.4L198 896.4L199 896.5L200 896.5L201 896.6L202 896.7L203 896.7L204 896.8L205 896.8L206 896.9L207 896.9L208 897L209 897L210 897.1L211 897.1L212 897.2L213 897.2L214 897.3L215 897.3L216 897.4L217 897.4L218 897.5L219 897.5L220 897.6L221 897.6L222 897.7L223 897.7L224 897.8L225 897.8L226 897.9L227 897.9L228 898L229 898L230 898.1L231 898.1L232 898.2L233 898.2L234 898.3L235 898.3L236 898.4L237 898.4L238 898.5L239 898.5L240 898.6L241 898.6L242 898.7L243 898.7L244 898.8L245 898.8L246 898.9L247 898.9L248 899L249 899L250 899L251 899.1L252 899.1L253 899.2L254 899.2L255 899.3L256 899.3L257 899.4L258 899.4L259 899.5L260 899.5L261 899.5L262 899.6L263 899.6L264 899.7L265 899.7L266 899.8L267 899.8L268 899.8L269 899.9L270 899.9L271 900L272 900L273 900L274 900.1L275 900.1L276 900.2L277 900.2L278 900.2L279 900.3L280 900.3L281 900.3L282 900.4L283 900.4L284 900.4L285 900.5L286 900.5L287 900.6L288 900.6L289 900.6L290 900.6L291 900.7L292 900.7L293 900.7L294 900.8L295 900.8L296 900.8L297 900.9L298 900.9L299 900.9L300 900.9L301 901L302 901L303 901L304 901L305 901.1L306 901.1L307 901.1L308 901.1L309 901.1L310 901.2L311 901.2L312 901.2L313 901.2L314 901.2L315 901.2L316 901.2L317 901.2L318 901.2L319 901.2L320 901.2L321 901.2L322 901.2L323 901.2L324 901.2L325 901.2L326 901.2L327 901.1L328 901.1L329 901.1L330 901L331 901L332 901L333 900.9L334 900.9L335 900.8L336 900.7L337 900.6L338 900.6L339 900.5L340 900.4L341 900.2L342 900.1L343 900L344 899.8L345 899.7L346 899.5L347 899.3L348 899.1L349 898.9L350 898.7L351 898.4L352 898.1L353 897.8L354 897.5L355 897.2L356 896.8L357 896.4L358 896L359 895.6L360 895.1L361 894.6L362 894L363 893.4L364 892.8L365 892.1L366 891.4L367 890.7L368 889.9L369 889L370 888.1L371 887.2L372 886.2L373 885.1L374 884L375 882.8L376 881.6L377 880.2L378 878.9L379 877.4L380 875.9L381 874.3L382 872.6L383 870.8L384 869L385 867L386 865L387 862.9L388 860.7L389 858.4L390 856L391 853.5L392 851L393 848.3L394 845.5L395 842.6L396 839.7L397 836.6L398 833.4L399 830.1L400 826.7L401 823.3L402 819.7L403 816L404 812.2L405 808.3L406 804.4L407 800.3L408 796.1L409 791.9L410 787.6L411 783.2L412 778.7L413 774.1L414 769.5L415 764.8L416 760.1L417 755.3L418 750.4L419 745.6L420 740.6L421 735.7L422 730.7L423 725.7L424 720.8L425 715.8L426 710.8L427 705.8L428 700.9L429 696L430 691.1L431 686.3L432 681.6L433 676.9L434 672.4L435 667.9L436 663.5L437 659.2L438 655.1L439 651.1L440 647.2L441 643.5L442 639.9L443 636.5L444 633.3L445 630.3L446 627.5L447 624.9L448 622.5L449 620.3L450 618.4L451 616.7L452 615.2L453 614L454 613L455 612.3L456 611.9L457 611.7L458 611.7L459 612L460 612.6L461 613.5L462 614.6L463 615.9L464 617.5L465 619.3L466 621.4L467 623.7L468 626.2L469 628.9L470 631.9L471 635L472 638.3L473 641.8L474 645.5L475 649.4L476 653.4L477 657.5L478 661.8L479 666.2L480 670.7L481 675.3L482 680L483 684.8L484 689.6L485 694.6L486 699.5L487 704.5L488 709.6L489 714.7L490 719.8L491 724.9L492 730L493 735.1L494 740.2L495 745.3L496 750.3L497 755.3L498 760.3L499 765.2L500 770.1L501 774.9L502 779.7L503 784.3L504 788.9L505 793.5L506 797.9L507 802.3L508 806.6L509 810.7L510 814.8L511 818.8L512 822.7L513 826.6L514 830.3L515 833.9L516 837.4L517 840.8L518 844.1L519 847.3L520 850.4L521 853.4L522 856.3L523 859.1L524 861.8L525 864.4L526 866.9L527 869.3L528 871.6L529 873.9L530 876L531 878.1L532 880.1L533 881.9L534 883.8L535 885.5L536 887.1L537 888.7L538 890.2L539 891.7L540 893L541 894.4L542 895.6L543 896.8L544 897.9L545 899L546 900L547 901L548 901.9L549 902.8L550 903.6L551 904.4L552 905.1L553 905.9L554 906.5L555 907.2L556 907.8L557 908.3L558 908.9L559 909.4L560 909.9L561 910.4L562 910.8L563 911.2L564 911.6L565 912L566 912.4L567 912.7L568 913L569 913.3L570 913.6L571 913.9L572 914.2L573 914.5L574 914.7L575 914.9L576 915.2L577 915.4L578 915.6L579 915.8L580 916L581 916.2L582 916.4L583 916.5L584 916.7L585 916.9L586 917L587 917.2L588 917.3L589 917.5L590 917.6L591 917.8L592 917.9L593 918L594 918.2L595 918.3L596 918.4L597 918.5L598 918.7L599 918.8L600 918.9L601 919L602 919.1L603 919.2L604 919.3L605 919.4L606 919.6L607 919.7L608 919.8L609 919.9L610 920L611 920.1L612 920.2L613 920.3L614 920.4L615 920.5L616 920.6L617 920.7L618 920.8L619 920.9L620 921L621 921.1L622 921.1L623 921.2L624 921.3L625 921.4L626 921.5L627 921.6L628 921.7L629 921.8L630 921.9L631 922L632 922.1L633 922.1L634 922.2L635 922.3L636 922.4L637 922.5L638 922.6L639 922.7L640 922.8L641 922.8L641 925L640 925L634 924.6L628 924.2L622 923.9L616 923.5L610 923.1L604 922.7L598 922.4L592 922L586 921.6L580 921.3L574 920.9L568 920.5L562 920.1L556 919.8L550 919.4L544 919L538 918.7L532 918.3L526 917.9L520 917.5L514 917.2L508 916.8L502 916.4L496 916L490 915.7L484 915.3L478 914.9L472 914.6L466 914.2L460 913.8L454 913.4L448 913.1L442 912.7L436 912.3L430 912L424 911.6L418 911.2L412 910.8L406 910.5L400 910.1L394 909.7L388 909.4L382 909L376 908.6L370 908.2L364 907.9L358 907.5L352 907.1L346 906.7L340 906.4L334 906L328 905.6L322 905.3L316 904.9L310 904.5L304 904.1L298 903.8L292 903.4L286 903L280 902.7L274 902.3L268 901.9L262 901.5L256 901.2L250 900.8L244 900.4L238 900L232 899.7L226 899.3L220 898.9L214 898.6L208 898.2L202 897.8L196 897.4L190 897.1L184 896.7L178 896.3L172 896L166 895.6L160 895.2L154 894.8L148 894.5L142 894.1L136 893.7L130 893.3L124 893L118 892.6L112 892.2L106 891.9L100 891.5L94 891.1L88 890.7L82 890.4L76 890Z" fill="url(#g8)"/>
<path d="M76 889.7L77 889.7L78 889.8L79 889.8L80 889.9L81 890L82 890L83 890.1L84 890.1L85 890.2L86 890.2L87 890.3L88 890.3L89 890.4L90 890.4L91 890.5L92 890.5L93 890.6L94 890.6L95 890.7L96 890.7L97 890.8L98 890.8L99 890.8L100 890.9L101 890.9L102 891L103 891L104 891L105 891.1L106 891.1L107 891.1L108 891.1L109 891.2L110 891.2L111 891.2L112 891.2L113 891.2L114 891.2L115 891.2L116 891.3L117 891.3L118 891.2L119 891.2L120 891.2L121 891.2L122 891.2L123 891.2L124 891.1L125 891.1L126 891.1L127 891L128 891L129 890.9L130 890.8L131 890.8L132 890.7L133 890.6L134 890.5L135 890.4L136 890.3L137 890.2L138 890.1L139 889.9L140 889.8L141 889.7L142 889.5L143 889.3L144 889.1L145 889L146 888.8L147 888.5L148 888.3L149 888.1L150 887.8L151 887.6L152 887.3L153 887L154 886.7L155 886.4L156 886.1L157 885.7L158 885.4L159 885L160 884.6L161 884.2L162 883.8L163 883.4L164 883L165 882.5L166 882L167 881.5L168 881L169 880.5L170 880L171 879.4L172 878.9L173 878.3L174 877.7L175 877.1L176 876.4L177 875.8L178 875.1L179 874.4L180 873.8L181 873.1L182 872.3L183 871.6L184 870.8L185 870.1L186 869.3L187 868.5L188 867.7L189 866.9L190 866.1L191 865.3L192 864.4L193 863.6L194 862.7L195 861.9L196 861L197 860.1L198 859.2L199 858.4L200 857.5L201 856.6L202 855.7L203 854.8L204 853.9L205 853L206 852.1L207 851.2L208 850.4L209 849.5L210 848.6L211 847.8L212 846.9L213 846.1L214 845.3L215 844.4L216 843.6L217 842.9L218 842.1L219 841.3L220 840.6L221 839.9L222 839.2L223 838.5L224 837.9L225 837.3L226 836.7L227 836.1L228 835.5L229 835L230 834.5L231 834.1L232 833.7L233 833.3L234 832.9L235 832.6L236 832.3L237 832L238 831.8L239 831.6L240 831.4L241 831.3L242 831.2L243 831.2L244 831.2L245 831.2L246 831.2L247 831.4L248 831.5L249 831.7L250 831.9L251 832.1L252 832.4L253 832.7L254 833.1L255 833.5L256 833.9L257 834.4L258 834.9L259 835.4L260 835.9L261 836.5L262 837.1L263 837.8L264 838.4L265 839.1L266 839.9L267 840.6L268 841.4L269 842.2L270 843L271 843.9L272 844.7L273 845.6L274 846.5L275 847.4L276 848.3L277 849.3L278 850.2L279 851.2L280 852.2L281 853.2L282 854.1L283 855.1L284 856.2L285 857.2L286 858.2L287 859.2L288 860.2L289 861.2L290 862.3L291 863.3L292 864.3L293 865.3L294 866.3L295 867.3L296 868.3L297 869.3L298 870.3L299 871.3L300 872.2L301 873.2L302 874.1L303 875.1L304 876L305 876.9L306 877.8L307 878.7L308 879.6L309 880.4L310 881.3L311 882.1L312 882.9L313 883.7L314 884.5L315 885.3L316 886.1L317 886.8L318 887.5L319 888.2L320 888.9L321 889.6L322 890.3L323 890.9L324 891.6L325 892.2L326 892.8L327 893.4L328 893.9L329 894.5L330 895L331 895.6L332 896.1L333 896.6L334 897L335 897.5L336 898L337 898.4L338 898.8L339 899.2L340 899.6L341 900L342 900.4L343 900.8L344 901.1L345 901.5L346 901.8L347 902.1L348 902.4L349 902.7L350 903L351 903.3L352 903.5L353 903.8L354 904L355 904.3L356 904.5L357 904.7L358 905L359 905.2L360 905.4L361 905.6L362 905.8L363 906L364 906.1L365 906.3L366 906.5L367 906.6L368 906.8L369 906.9L370 907.1L371 907.2L372 907.4L373 907.5L374 907.6L375 907.8L376 907.9L377 908L378 908.1L379 908.3L380 908.4L381 908.5L382 908.6L383 908.7L384 908.8L385 908.9L386 909L387 909.1L388 909.2L389 909.3L390 909.4L391 909.4L392 909.5L393 909.6L394 909.7L395 909.8L396 909.9L397 910L398 910L399 910.1L400 910.2L401 910.3L402 910.3L403 910.4L404 910.5L405 910.6L406 910.6L407 910.7L408 910.8L409 910.9L410 910.9L411 911L412 911.1L413 911.2L414 911.2L415 911.3L416 911.4L417 911.4L418 911.5L419 911.6L420 911.6L421 911.7L422 911.8L423 911.8L424 911.9L425 912L426 912.1L427 912.1L428 912.2L429 912.3L430 912.3L431 912.4L432 912.5L433 912.5L434 912.6L435 912.7L436 912.7L437 912.8L438 912.9L439 912.9L440 913L441 913.1L442 913.1L443 913.2L444 913.3L445 913.3L446 913.4L447 913.5L448 913.5L449 913.6L450 913.7L451 913.7L452 913.8L453 913.8L454 913.9L455 914L456 914L457 914.1L458 914.2L459 914.2L460 914.3L461 914.4L462 914.4L463 914.5L464 914.6L465 914.6L466 914.7L467 914.8L468 914.8L469 914.9L470 915L471 915L472 915.1L473 915.2L474 915.2L475 915.3L476 915.4L477 915.4L478 915.5L479 915.5L480 915.6L481 915.7L482 915.7L483 915.8L484 915.9L485 915.9L486 916L487 916.1L488 916.1L489 916.2L490 916.3L491 916.3L492 916.4L493 916.5L494 916.5L495 916.6L496 916.7L497 916.7L498 916.8L499 916.8L500 916.9L501 917L502 917L503 917.1L504 917.2L505 917.2L506 917.3L507 917.4L508 917.4L509 917.5L510 917.6L511 917.6L512 917.7L513 917.8L514 917.8L515 917.9L516 917.9L517 918L518 918.1L519 918.1L520 918.2L521 918.3L522 918.3L523 918.4L524 918.5L525 918.5L526 918.6L527 918.7L528 918.7L529 918.8L530 918.9L531 918.9L532 919L533 919L534 919.1L535 919.2L536 919.2L537 919.3L538 919.4L539 919.4L540 919.5L541 919.6L542 919.6L543 919.7L544 919.8L545 919.8L546 919.9L547 919.9L548 920L549 920.1L550 920.1L551 920.2L552 920.3L553 920.3L554 920.4L555 920.5L556 920.5L557 920.6L558 920.7L559 920.7L560 920.8L561 920.9L562 920.9L563 921L564 921L565 921.1L566 921.2L567 921.2L568 921.3L569 921.4L570 921.4L571 921.5L572 921.6L573 921.6L574 921.7L575 921.8L576 921.8L577 921.9L578 921.9L579 922L580 922.1L581 922.1L582 922.2L583 922.3L584 922.3L585 922.4L586 922.5L587 922.5L588 922.6L589 922.7L590 922.7L591 922.8L592 922.8L593 922.9L594 923L595 923L596 923.1L597 923.2L598 923.2L599 923.3L600 923.4L601 923.4L602 923.5L603 923.5L604 923.6L605 923.7L606 923.7L607 923.8L608 923.9L609 923.9L610 924L611 924.1L612 924.1L613 924.2L614 924.3L615 924.3L616 924.4L617 924.4L618 924.5L619 924.6L620 924.6L621 924.7L622 924.8L623 924.8L624 924.9L625 925L626 925L627 925.1L628 925.2L629 925.2L630 925.3L631 925.3L632 925.4L633 925.5L634 925.5L635 925.6L636 925.7L637 925.7L638 925.8L639 925.9L640 925.9L641 926" fill="none" stroke="#00a040" stroke-width="3" stroke-opacity="0.6"/>
<path d="M76 889.5L77 889.5L78 889.6L79 889.6L80 889.7L81 889.8L82 889.8L83 889.9L84 889.9L85 890L86 890.1L87 890.1L88 890.2L89 890.2L90 890.3L91 890.4L92 890.4L93 890.5L94 890.5L95 890.6L96 890.7L97 890.7L98 890.8L99 890.8L100 890.9L101 890.9L102 891L103 891.1L104 891.1L105 891.2L106 891.2L107 891.3L108 891.4L109 891.4L110 891.5L111 891.5L112 891.6L113 891.6L114 891.7L115 891.8L116 891.8L117 891.9L118 891.9L119 892L120 892.1L121 892.1L122 892.2L123 892.2L124 892.3L125 892.3L126 892.4L127 892.5L128 892.5L129 892.6L130 892.6L131 892.7L132 892.7L133 892.8L134 892.9L135 892.9L136 893L137 893L138 893.1L139 893.2L140 893.2L141 893.3L142 893.3L143 893.4L144 893.4L145 893.5L146 893.6L147 893.6L148 893.7L149 893.7L150 893.8L151 893.8L152 893.9L153 893.9L154 894L155 894.1L156 894.1L157 894.2L158 894.2L159 894.3L160 894.3L161 894.4L162 894.5L163 894.5L164 894.6L165 894.6L166 894.7L167 894.7L168 894.8L169 894.8L170 894.9L171 895L172 895L173 895.1L174 895.1L175 895.2L176 895.2L177 895.3L178 895.3L179 895.4L180 895.5L181 895.5L182 895.6L183 895.6L184 895.7L185 895.7L186 895.8L187 895.8L188 895.9L189 896L190 896L191 896.1L192 896.1L193 896.2L194 896.2L195 896.3L196 896.3L197 896.4L198 896.4L199 896.5L200 896.5L201 896.6L202 896.7L203 896.7L204 896.8L205 896.8L206 896.9L207 896.9L208 897L209 897L210 897.1L211 897.1L212 897.2L213 897.2L214 897.3L215 897.3L216 897.4L217 897.4L218 897.5L219 897.5L220 897.6L221 897.6L222 897.7L223 897.7L224 897.8L225 897.8L226 897.9L227 897.9L228 898L229 898L230 898.1L231 898.1L232 898.2L233 898.2L234 898.3L235 898.3L236 898.4L237 898.4L238 898.5L239 898.5L240 898.6L241 898.6L242 898.7L243 898.7L244 898.8L245 898.8L246 898.9L247 898.9L248 899L249 899L250 899L251 899.1L252 899.1L253 899.2L254 899.2L255 899.3L256 899.3L257 899.4L258 899.4L259 899.5L260 899.5L261 899.5L262 899.6L263 899.6L264 899.7L265 899.7L266 899.8L267 899.8L268 899.8L269 899.9L270 899.9L271 900L272 900L273 900L274 900.1L275 900.1L276 900.2L277 900.2L278 900.2L279 900.3L280 900.3L281 900.3L282 900.4L283 900.4L284 900.4L285 900.5L286 900.5L287 900.6L288 900.6L289 900.6L290 900.6L291 900.7L292 900.7L293 900.7L294 900.8L295 900.8L296 900.8L297 900.9L298 900.9L299 900.9L300 900.9L301 901L302 901L303 901L304 901L305 901.1L306 901.1L307 901.1L308 901.1L309 901.1L310 901.2L311 901.2L312 901.2L313 901.2L314 901.2L315 901.2L316 901.2L317 901.2L318 901.2L319 901.2L320 901.2L321 901.2L322 901.2L323 901.2L324 901.2L325 901.2L326 901.2L327 901.1L328 901.1L329 901.1L330 901L331 901L332 901L333 900.9L334 900.9L335 900.8L336 900.7L337 900.6L338 900.6L339 900.5L340 900.4L341 900.2L342 900.1L343 900L344 899.8L345 899.7L346 899.5L347 899.3L348 899.1L349 898.9L350 898.7L351 898.4L352 898.1L353 897.8L354 897.5L355 897.2L356 896.8L357 896.4L358 896L359 895.6L360 895.1L361 894.6L362 894L363 893.4L364 892.8L365 892.1L366 891.4L367 890.7L368 889.9L369 889L370 888.1L371 887.2L372 886.2L373 885.1L374 884L375 882.8L376 881.6L377 880.2L378 878.9L379 877.4L380 875.9L381 874.3L382 872.6L383 870.8L384 869L385 867L386 865L387 862.9L388 860.7L389 858.4L390 856L391 853.5L392 851L393 848.3L394 845.5L395 842.6L396 839.7L397 836.6L398 833.4L399 830.1L400 826.7L401 823.3L402 819.7L403 816L404 812.2L405 808.3L406 804.4L407 800.3L408 796.1L409 791.9L410 787.6L411 783.2L412 778.7L413 774.1L414 769.5L415 764.8L416 760.1L417 755.3L418 750.4L419 745.6L420 740.6L421 735.7L422 730.7L423 725.7L424 720.8L425 715.8L426 710.8L427 705.8L428 700.9L429 696L430 691.1L431 686.3L432 681.6L433 676.9L434 672.4L435 667.9L436 663.5L437 659.2L438 655.1L439 651.1L440 647.2L441 643.5L442 639.9L443 636.5L444 633.3L445 630.3L446 627.5L447 624.9L448 622.5L449 620.3L450 618.4L451 616.7L452 615.2L453 614L454 613L455 612.3L456 611.9L457 611.7L458 611.7L459 612L460 612.6L461 613.5L462 614.6L463 615.9L464 617.5L465 619.3L466 621.4L467 623.7L468 626.2L469 628.9L470 631.9L471 635L472 638.3L473 641.8L474 645.5L475 649.4L476 653.4L477 657.5L478 661.8L479 666.2L480 670.7L481 675.3L482 680L483 684.8L484 689.6L485 694.6L486 699.5L487 704.5L488 709.6L489 714.7L490 719.8L491 724.9L492 730L493 735.1L494 740.2L495 745.3L496 750.3L497 755.3L498 760.3L499 765.2L500 770.1L501 774.9L502 779.7L503 784.3L504 788.9L505 793.5L506 797.9L507 802.3L508 806.6L509 810.7L510 814.8L511 818.8L512 822.7L513 826.6L514 830.3L515 833.9L516 837.4L517 840.8L518 844.1L519 847.3L520 850.4L521 853.4L522 856.3L523 859.1L524 861.8L525 864.4L526 866.9L527 869.3L528 871.6L529 873.9L530 876L531 878.1L532 880.1L533 881.9L534 883.8L535 885.5L536 887.1L537 888.7L538 890.2L539 891.7L540 893L541 894.4L542 895.6L543 896.8L544 897.9L545 899L546 900L547 901L548 901.9L549 902.8L550 903.6L551 904.4L552 905.1L553 905.9L554 906.5L555 907.2L556 907.8L557 908.3L558 908.9L559 909.4L560 909.9L561 910.4L562 910.8L563 911.2L564 911.6L565 912L566 912.4L567 912.7L568 913L569 913.3L570 913.6L571 913.9L572 914.2L573 914.5L574 914.7L575 914.9L576 915.2L577 915.4L578 915.6L579 915.8L580 916L581 916.2L582 916.4L583 916.5L584 916.7L585 916.9L586 917L587 917.2L588 917.3L589 917.5L590 917.6L591 917.8L592 917.9L593 918L594 918.2L595 918.3L596 918.4L597 918.5L598 918.7L599 918.8L600 918.9L601 919L602 919.1L603 919.2L604 919.3L605 919.4L606 919.6L607 919.7L608 919.8L609 919.9L610 920L611 920.1L612 920.2L613 920.3L614 920.4L615 920.5L616 920.6L617 920.7L618 920.8L619 920.9L620 921L621 921.1L622 921.1L623 921.2L624 921.3L625 921.4L626 921.5L627 921.6L628 921.7L629 921.8L630 921.9L631 922L632 922.1L633 922.1L634 922.2L635 922.3L636 922.4L637 922.5L638 922.6L639 922.7L640 922.8L641 922.8" fill="none" stroke="#ff0090" stroke-width="3" stroke-opacity="0.75"/>
</g>
<rect x="76" y="532" width="564.3" height="419" fill="none" stroke="#000" stroke-width="3.2"/>
<text x="600" y="984.7" font-size="25" text-anchor="middle" >50</text>
<text x="519.4" y="984.7" font-size="25" text-anchor="middle" >52</text>
<text x="438.8" y="984.7" font-size="25" text-anchor="middle" >54</text>
<text x="358.1" y="984.7" font-size="25" text-anchor="middle" >56</text>
<text x="277.5" y="984.7" font-size="25" text-anchor="middle" >58</text>
<text x="196.9" y="984.7" font-size="25" text-anchor="middle" >60</text>
<text x="116.3" y="984.7" font-size="25" text-anchor="middle" >62</text>
<path d="M640.3 951V957M600 951V960M559.7 951V957M519.4 951V960M479.1 951V957M438.8 951V960M398.5 951V957M358.1 951V960M317.8 951V957M277.5 951V960M237.2 951V957M196.9 951V960M156.6 951V957M116.3 951V960M76 951V957" stroke="#000" stroke-width="2.6" fill="none"/>
<text x="251.6" y="1020.1" font-size="25" text-anchor="start" >Binding Energy (eV)</text>
<text transform="translate(39.1,810.5) rotate(-90)" font-size="25">Intensity (a.u.)</text>
<text x="19.8" y="551.4" font-size="25" text-anchor="start" >(c)</text>
<path d="M82.2 548.5H128.6" stroke="#000000" stroke-width="2.8"/>
<text x="133.3" y="554.9" font-size="25" text-anchor="start" >Experiment</text>
<path d="M82.2 580.6H128.6" stroke="#ff0000" stroke-width="2.8"/>
<text x="133.3" y="586.6" font-size="25" text-anchor="start" >Simulated</text>
<path d="M82.2 611.6H128.6" stroke="#0000ff" stroke-width="2.8"/>
<text x="133.3" y="617.5" font-size="25" text-anchor="start" >Background</text>
<text x="511.7" y="565.2" font-size="25">PbSe-T30</text>
<text x="430" y="595.9" font-size="25">Se3d</text>
<text x="235.5" y="808.6" font-size="25">Se<tspan font-size="14" dy="-12">4+</tspan></text>
<g clip-path="url(#clip4)">
<path d="M722 696L730.5 705.6L734.8 706.6L742.3 703.4L749.8 707.7L756.2 703.4L764.7 708.8L771.2 709.8L777.6 713L786 719.5L790.4 725.9L796.8 707.7L803.2 714L809.6 722.7L816 707.7L824.6 704.5L833.1 706.6L841.7 707.7L850.2 709.8L860.9 717.3L867.3 703.4L875.9 704.5L884.4 708.8L893 714L896.5 713L900.6 725.3L907.5 729.5L915.7 724.7L924 730.2L935 729.5L940.5 740.5L948.7 739L954.2 752.8L961 751.4L968 757L974.8 747.3L981.7 748.7L988.5 754.2L998.2 743.2L1007.8 735L1016 743.2L1022.9 740.5L1028.4 744.6L1035.3 736.3L1048.6 747.7L1053.4 721.6L1067.6 705.1L1074.7 707.4L1088.9 701L1105.4 696.8L1114.9 702.7L1122 703.9L1126.7 696.8L1136.2 700.3L1140.9 698L1148 705.1L1155.1 705.1L1164.6 729.9L1169.3 739.4L1181.1 760.7L1193 779.6L1204.8 787.9L1216.6 796.2L1228.5 803.3L1233.2 798.5L1240.3 809.2L1247.4 809.2L1260.4 829.3L1267.5 838.8L1271 850.6L1280.5 850.6L1290 848" fill="none" stroke="#000" stroke-width="3" stroke-linejoin="round"/>
<path d="M723.2 703.3L724.2 703.6L725.2 703.8L726.2 704.1L727.2 704.3L728.2 704.6L729.2 704.8L730.2 705L731.2 705.3L732.2 705.5L733.2 705.8L734.2 706L735.2 706.2L736.2 706.4L737.2 706.7L738.2 706.9L739.2 707.1L740.2 707.3L741.2 707.6L742.2 707.8L743.2 708L744.2 708.2L745.2 708.4L746.2 708.6L747.2 708.8L748.2 709L749.2 709.2L750.2 709.4L751.2 709.6L752.2 709.8L753.2 710L754.2 710.1L755.2 710.3L756.2 710.5L757.2 710.7L758.2 710.8L759.2 711L760.2 711.1L761.2 711.3L762.2 711.4L763.2 711.5L764.2 711.7L765.2 711.8L766.2 711.9L767.2 712L768.2 712.1L769.2 712.2L770.2 712.3L771.2 712.4L772.2 712.4L773.2 712.5L774.2 712.6L775.2 712.6L776.2 712.7L777.2 712.7L778.2 712.8L779.2 712.8L780.2 712.8L781.2 712.8L782.2 712.8L783.2 712.8L784.2 712.8L785.2 712.8L786.2 712.8L787.2 712.7L788.2 712.7L789.2 712.7L790.2 712.6L791.2 712.5L792.2 712.5L793.2 712.4L794.2 712.3L795.2 712.2L796.2 712.1L797.2 712L798.2 711.9L799.2 711.8L800.2 711.7L801.2 711.6L802.2 711.5L803.2 711.3L804.2 711.2L805.2 711.1L806.2 710.9L807.2 710.8L808.2 710.6L809.2 710.5L810.2 710.3L811.2 710.2L812.2 710L813.2 709.9L814.2 709.7L815.2 709.6L816.2 709.4L817.2 709.2L818.2 709.1L819.2 708.9L820.2 708.8L821.2 708.7L822.2 708.5L823.2 708.4L824.2 708.2L825.2 708.1L826.2 708L827.2 707.9L828.2 707.7L829.2 707.6L830.2 707.5L831.2 707.4L832.2 707.3L833.2 707.2L834.2 707.2L835.2 707.1L836.2 707L837.2 707L838.2 706.9L839.2 706.9L840.2 706.8L841.2 706.8L842.2 706.8L843.2 706.7L844.2 706.7L845.2 706.7L846.2 706.7L847.2 706.7L848.2 706.7L849.2 706.8L850.2 706.8L851.2 706.8L852.2 706.8L853.2 706.9L854.2 706.9L855.2 707L856.2 707L857.2 707.1L858.2 707.2L859.2 707.2L860.2 707.3L861.2 707.4L862.2 707.5L863.2 707.5L864.2 707.6L865.2 707.7L866.2 707.8L867.2 707.9L868.2 708L869.2 708.1L870.2 708.2L871.2 708.3L872.2 708.5L873.2 708.6L874.2 708.7L875.2 708.9L876.2 709L877.2 709.2L878.2 709.3L879.2 709.5L880.2 709.6L881.2 709.8L882.2 710L883.2 710.2L884.2 710.4L885.2 710.7L886.2 710.9L887.2 711.2L888.2 711.4L889.2 711.7L890.2 712L891.2 712.3L892.2 712.7L893.2 713L894.2 713.4L895.2 713.8L896.2 714.2L897.2 714.6L898.2 715.1L899.2 715.5L900.2 716L901.2 716.5L902.2 717L903.2 717.6L904.2 718.2L905.2 718.7L906.2 719.4L907.2 720L908.2 720.6L909.2 721.3L910.2 722L911.2 722.7L912.2 723.4L913.2 724.1L914.2 724.8L915.2 725.6L916.2 726.4L917.2 727.1L918.2 727.9L919.2 728.7L920.2 729.5L921.2 730.3L922.2 731.1L923.2 731.9L924.2 732.7L925.2 733.6L926.2 734.4L927.2 735.2L928.2 736L929.2 736.8L930.2 737.6L931.2 738.4L932.2 739.2L933.2 739.9L934.2 740.7L935.2 741.4L936.2 742.2L937.2 742.9L938.2 743.6L939.2 744.3L940.2 744.9L941.2 745.6L942.2 746.2L943.2 746.8L944.2 747.4L945.2 748L946.2 748.5L947.2 749.1L948.2 749.6L949.2 750.1L950.2 750.5L951.2 751L952.2 751.4L953.2 751.8L954.2 752.2L955.2 752.5L956.2 752.9L957.2 753.2L958.2 753.5L959.2 753.7L960.2 754L961.2 754.2L962.2 754.4L963.2 754.6L964.2 754.8L965.2 754.9L966.2 755.1L967.2 755.2L968.2 755.3L969.2 755.3L970.2 755.4L971.2 755.4L972.2 755.4L973.2 755.4L974.2 755.4L975.2 755.4L976.2 755.4L977.2 755.3L978.2 755.2L979.2 755.1L980.2 755L981.2 754.9L982.2 754.7L983.2 754.6L984.2 754.4L985.2 754.2L986.2 754L987.2 753.8L988.2 753.6L989.2 753.4L990.2 753.1L991.2 752.9L992.2 752.6L993.2 752.3L994.2 752L995.2 751.7L996.2 751.4L997.2 751L998.2 750.7L999.2 750.3L1000.2 750L1001.2 749.6L1002.2 749.2L1003.2 748.8L1004.2 748.3L1005.2 747.9L1006.2 747.5L1007.2 747L1008.2 746.6L1009.2 746.1L1010.2 745.6L1011.2 745.1L1012.2 744.6L1013.2 744.1L1014.2 743.6L1015.2 743L1016.2 742.5L1017.2 741.9L1018.2 741.4L1019.2 740.8L1020.2 740.2L1021.2 739.6L1022.2 739L1023.2 738.4L1024.2 737.8L1025.2 737.2L1026.2 736.6L1027.2 735.9L1028.2 735.3L1029.2 734.6L1030.2 734L1031.2 733.3L1032.2 732.6L1033.2 732L1034.2 731.3L1035.2 730.6L1036.2 729.9L1037.2 729.2L1038.2 728.5L1039.2 727.8L1040.2 727.1L1041.2 726.4L1042.2 725.7L1043.2 725L1044.2 724.3L1045.2 723.6L1046.2 722.8L1047.2 722.1L1048.2 721.4L1049.2 720.7L1050.2 720L1051.2 719.3L1052.2 718.6L1053.2 717.8L1054.2 717.1L1055.2 716.4L1056.2 715.7L1057.2 715L1058.2 714.4L1059.2 713.7L1060.2 713L1061.2 712.3L1062.2 711.7L1063.2 711L1064.2 710.3L1065.2 709.7L1066.2 709.1L1067.2 708.4L1068.2 707.8L1069.2 707.2L1070.2 706.6L1071.2 706L1072.2 705.5L1073.2 704.9L1074.2 704.4L1075.2 703.8L1076.2 703.3L1077.2 702.8L1078.2 702.3L1079.2 701.8L1080.2 701.4L1081.2 700.9L1082.2 700.5L1083.2 700.1L1084.2 699.7L1085.2 699.3L1086.2 699L1087.2 698.6L1088.2 698.3L1089.2 698L1090.2 697.7L1091.2 697.4L1092.2 697.2L1093.2 697L1094.2 696.8L1095.2 696.6L1096.2 696.4L1097.2 696.3L1098.2 696.2L1099.2 696.1L1100.2 696L1101.2 695.9L1102.2 695.9L1103.2 695.9L1104.2 695.9L1105.2 696L1106.2 696L1107.2 696.1L1108.2 696.2L1109.2 696.3L1110.2 696.5L1111.2 696.7L1112.2 696.9L1113.2 697.1L1114.2 697.4L1115.2 697.6L1116.2 697.9L1117.2 698.3L1118.2 698.6L1119.2 699L1120.2 699.4L1121.2 699.8L1122.2 700.3L1123.2 700.7L1124.2 701.2L1125.2 701.7L1126.2 702.3L1127.2 702.8L1128.2 703.4L1129.2 704L1130.2 704.6L1131.2 705.3L1132.2 706L1133.2 706.7L1134.2 707.4L1135.2 708.1L1136.2 708.9L1137.2 709.6L1138.2 710.4L1139.2 711.2L1140.2 712.1L1141.2 712.9L1142.2 713.8L1143.2 714.7L1144.2 715.6L1145.2 716.5L1146.2 717.5L1147.2 718.4L1148.2 719.4L1149.2 720.4L1150.2 721.4L1151.2 722.4L1152.2 723.4L1153.2 724.5L1154.2 725.5L1155.2 726.6L1156.2 727.7L1157.2 728.8L1158.2 729.9L1159.2 731L1160.2 732.1L1161.2 733.3L1162.2 734.4L1163.2 735.6L1164.2 736.8L1165.2 737.9L1166.2 739.1L1167.2 740.3L1168.2 741.5L1169.2 742.7L1170.2 743.9L1171.2 745.1L1172.2 746.3L1173.2 747.6L1174.2 748.8L1175.2 750L1176.2 751.2L1177.2 752.5L1178.2 753.7L1179.2 754.9L1180.2 756.2L1181.2 757.4L1182.2 758.7L1183.2 759.9L1184.2 761.1L1185.2 762.4L1186.2 763.6L1187.2 764.8L1188.2 766.1L1189.2 767.3L1190.2 768.5L1191.2 769.7L1192.2 770.9L1193.2 772.1L1194.2 773.3L1195.2 774.5L1196.2 775.7L1197.2 776.9L1198.2 778.1L1199.2 779.3L1200.2 780.5L1201.2 781.6L1202.2 782.8L1203.2 783.9L1204.2 785.1L1205.2 786.2L1206.2 787.3L1207.2 788.4L1208.2 789.6L1209.2 790.7L1210.2 791.7L1211.2 792.8L1212.2 793.9L1213.2 795L1214.2 796L1215.2 797.1L1216.2 798.1L1217.2 799.1L1218.2 800.1L1219.2 801.1L1220.2 802.1L1221.2 803.1L1222.2 804.1L1223.2 805L1224.2 806L1225.2 806.9L1226.2 807.9L1227.2 808.8L1228.2 809.7L1229.2 810.6L1230.2 811.5L1231.2 812.4L1232.2 813.2L1233.2 814.1L1234.2 814.9L1235.2 815.8L1236.2 816.6L1237.2 817.4L1238.2 818.2L1239.2 819L1240.2 819.8L1241.2 820.6L1242.2 821.3L1243.2 822.1L1244.2 822.8L1245.2 823.5L1246.2 824.3L1247.2 825L1248.2 825.7L1249.2 826.4L1250.2 827L1251.2 827.7L1252.2 828.4L1253.2 829L1254.2 829.7L1255.2 830.3L1256.2 830.9L1257.2 831.6L1258.2 832.2L1259.2 832.8L1260.2 833.4L1261.2 833.9L1262.2 834.5L1263.2 835.1L1264.2 835.6L1265.2 836.2L1266.2 836.7L1267.2 837.3L1268.2 837.8L1269.2 838.3L1270.2 838.8L1271.2 839.3L1272.2 839.8L1273.2 840.3L1274.2 840.8L1275.2 841.3L1276.2 841.8L1277.2 842.2L1278.2 842.7L1279.2 843.1L1280.2 843.6L1281.2 844L1282.2 844.5L1283.2 844.9L1284.2 845.3L1285.2 845.8L1286.2 846.2" fill="none" stroke="#ff0000" stroke-width="3" stroke-linejoin="round"/>
<path d="M723.2 703.5L724.2 703.8L725.2 704L726.2 704.3L727.2 704.5L728.2 704.8L729.2 705.1L730.2 705.3L731.2 705.6L732.2 705.8L733.2 706.1L734.2 706.4L735.2 706.6L736.2 706.9L737.2 707.1L738.2 707.4L739.2 707.7L740.2 707.9L741.2 708.2L742.2 708.5L743.2 708.7L744.2 709L745.2 709.2L746.2 709.5L747.2 709.8L748.2 710L749.2 710.3L750.2 710.5L751.2 710.8L752.2 711.1L753.2 711.3L754.2 711.6L755.2 711.8L756.2 712.1L757.2 712.4L758.2 712.6L759.2 712.9L760.2 713.1L761.2 713.4L762.2 713.7L763.2 713.9L764.2 714.2L765.2 714.4L766.2 714.7L767.2 715L768.2 715.2L769.2 715.5L770.2 715.7L771.2 716L772.2 716.3L773.2 716.5L774.2 716.8L775.2 717L776.2 717.3L777.2 717.6L778.2 717.8L779.2 718.1L780.2 718.4L781.2 718.6L782.2 718.9L783.2 719.1L784.2 719.4L785.2 719.7L786.2 719.9L787.2 720.2L788.2 720.4L789.2 720.7L790.2 721L791.2 721.2L792.2 721.5L793.2 721.7L794.2 722L795.2 722.3L796.2 722.5L797.2 722.8L798.2 723L799.2 723.3L800.2 723.6L801.2 723.8L802.2 724.1L803.2 724.3L804.2 724.6L805.2 724.9L806.2 725.1L807.2 725.4L808.2 725.6L809.2 725.9L810.2 726.2L811.2 726.4L812.2 726.7L813.2 726.9L814.2 727.2L815.2 727.5L816.2 727.7L817.2 728L818.2 728.3L819.2 728.5L820.2 728.8L821.2 729L822.2 729.3L823.2 729.6L824.2 729.8L825.2 730.1L826.2 730.3L827.2 730.6L828.2 730.9L829.2 731.1L830.2 731.4L831.2 731.6L832.2 731.9L833.2 732.2L834.2 732.4L835.2 732.7L836.2 732.9L837.2 733.2L838.2 733.5L839.2 733.7L840.2 734L841.2 734.2L842.2 734.5L843.2 734.8L844.2 735L845.2 735.3L846.2 735.5L847.2 735.8L848.2 736.1L849.2 736.3L850.2 736.6L851.2 736.8L852.2 737.1L853.2 737.4L854.2 737.6L855.2 737.9L856.2 738.2L857.2 738.4L858.2 738.7L859.2 738.9L860.2 739.2L861.2 739.5L862.2 739.7L863.2 740L864.2 740.2L865.2 740.5L866.2 740.8L867.2 741L868.2 741.3L869.2 741.5L870.2 741.8L871.2 742.1L872.2 742.3L873.2 742.6L874.2 742.8L875.2 743.1L876.2 743.4L877.2 743.6L878.2 743.9L879.2 744.1L880.2 744.4L881.2 744.7L882.2 744.9L883.2 745.2L884.2 745.4L885.2 745.7L886.2 746L887.2 746.2L888.2 746.5L889.2 746.7L890.2 747L891.2 747.3L892.2 747.5L893.2 747.8L894.2 748.1L895.2 748.3L896.2 748.6L897.2 748.8L898.2 749.1L899.2 749.4L900.2 749.6L901.2 749.9L902.2 750.1L903.2 750.4L904.2 750.7L905.2 750.9L906.2 751.2L907.2 751.4L908.2 751.7L909.2 752L910.2 752.2L911.2 752.5L912.2 752.7L913.2 753L914.2 753.3L915.2 753.5L916.2 753.8L917.2 754L918.2 754.3L919.2 754.6L920.2 754.8L921.2 755.1L922.2 755.3L923.2 755.6L924.2 755.9L925.2 756.1L926.2 756.4L927.2 756.6L928.2 756.9L929.2 757.2L930.2 757.4L931.2 757.7L932.2 758L933.2 758.2L934.2 758.5L935.2 758.7L936.2 759L937.2 759.3L938.2 759.5L939.2 759.8L940.2 760L941.2 760.3L942.2 760.6L943.2 760.8L944.2 761.1L945.2 761.3L946.2 761.6L947.2 761.9L948.2 762.1L949.2 762.4L950.2 762.6L951.2 762.9L952.2 763.2L953.2 763.4L954.2 763.7L955.2 763.9L956.2 764.2L957.2 764.5L958.2 764.7L959.2 765L960.2 765.2L961.2 765.5L962.2 765.8L963.2 766L964.2 766.3L965.2 766.5L966.2 766.8L967.2 767.1L968.2 767.3L969.2 767.6L970.2 767.9L971.2 768.1L972.2 768.4L973.2 768.6L974.2 768.9L975.2 769.2L976.2 769.4L977.2 769.7L978.2 769.9L979.2 770.2L980.2 770.5L981.2 770.7L982.2 771L983.2 771.2L984.2 771.5L985.2 771.8L986.2 772L987.2 772.3L988.2 772.5L989.2 772.8L990.2 773.1L991.2 773.3L992.2 773.6L993.2 773.8L994.2 774.1L995.2 774.4L996.2 774.6L997.2 774.9L998.2 775.1L999.2 775.4L1000.2 775.7L1001.2 775.9L1002.2 776.2L1003.2 776.5L1004.2 776.7L1005.2 777L1006.2 777.2L1007.2 777.5L1008.2 777.8L1009.2 778L1010.2 778.3L1011.2 778.5L1012.2 778.8L1013.2 779.1L1014.2 779.3L1015.2 779.6L1016.2 779.8L1017.2 780.1L1018.2 780.4L1019.2 780.6L1020.2 780.9L1021.2 781.1L1022.2 781.4L1023.2 781.7L1024.2 781.9L1025.2 782.2L1026.2 782.4L1027.2 782.7L1028.2 783L1029.2 783.2L1030.2 783.5L1031.2 783.7L1032.2 784L1033.2 784.3L1034.2 784.5L1035.2 784.8L1036.2 785L1037.2 785.3L1038.2 785.6L1039.2 785.8L1040.2 786.1L1041.2 786.4L1042.2 786.6L1043.2 786.9L1044.2 787.1L1045.2 787.4L1046.2 787.7L1047.2 787.9L1048.2 788.2L1049.2 788.4L1050.2 788.7L1051.2 789L1052.2 789.2L1053.2 789.5L1054.2 789.7L1055.2 790L1056.2 790.3L1057.2 790.5L1058.2 790.8L1059.2 791L1060.2 791.3L1061.2 791.6L1062.2 791.8L1063.2 792.1L1064.2 792.3L1065.2 792.6L1066.2 792.9L1067.2 793.1L1068.2 793.4L1069.2 793.6L1070.2 793.9L1071.2 794.2L1072.2 794.4L1073.2 794.7L1074.2 794.9L1075.2 795.2L1076.2 795.5L1077.2 795.7L1078.2 796L1079.2 796.3L1080.2 796.5L1081.2 796.8L1082.2 797L1083.2 797.3L1084.2 797.6L1085.2 797.8L1086.2 798.1L1087.2 798.3L1088.2 798.6L1089.2 798.9L1090.2 799.1L1091.2 799.4L1092.2 799.6L1093.2 799.9L1094.2 800.2L1095.2 800.4L1096.2 800.7L1097.2 800.9L1098.2 801.2L1099.2 801.5L1100.2 801.7L1101.2 802L1102.2 802.2L1103.2 802.5L1104.2 802.8L1105.2 803L1106.2 803.3L1107.2 803.5L1108.2 803.8L1109.2 804.1L1110.2 804.3L1111.2 804.6L1112.2 804.8L1113.2 805.1L1114.2 805.4L1115.2 805.6L1116.2 805.9L1117.2 806.2L1118.2 806.4L1119.2 806.7L1120.2 806.9L1121.2 807.2L1122.2 807.5L1123.2 807.7L1124.2 808L1125.2 808.2L1126.2 808.5L1127.2 808.8L1128.2 809L1129.2 809.3L1130.2 809.5L1131.2 809.8L1132.2 810.1L1133.2 810.3L1134.2 810.6L1135.2 810.8L1136.2 811.1L1137.2 811.4L1138.2 811.6L1139.2 811.9L1140.2 812.1L1141.2 812.4L1142.2 812.7L1143.2 812.9L1144.2 813.2L1145.2 813.4L1146.2 813.7L1147.2 814L1148.2 814.2L1149.2 814.5L1150.2 814.7L1151.2 815L1152.2 815.3L1153.2 815.5L1154.2 815.8L1155.2 816.1L1156.2 816.3L1157.2 816.6L1158.2 816.8L1159.2 817.1L1160.2 817.4L1161.2 817.6L1162.2 817.9L1163.2 818.1L1164.2 818.4L1165.2 818.7L1166.2 818.9L1167.2 819.2L1168.2 819.4L1169.2 819.7L1170.2 820L1171.2 820.2L1172.2 820.5L1173.2 820.7L1174.2 821L1175.2 821.3L1176.2 821.5L1177.2 821.8L1178.2 822L1179.2 822.3L1180.2 822.6L1181.2 822.8L1182.2 823.1L1183.2 823.3L1184.2 823.6L1185.2 823.9L1186.2 824.1L1187.2 824.4L1188.2 824.6L1189.2 824.9L1190.2 825.2L1191.2 825.4L1192.2 825.7L1193.2 826L1194.2 826.2L1195.2 826.5L1196.2 826.7L1197.2 827L1198.2 827.3L1199.2 827.5L1200.2 827.8L1201.2 828L1202.2 828.3L1203.2 828.6L1204.2 828.8L1205.2 829.1L1206.2 829.3L1207.2 829.6L1208.2 829.9L1209.2 830.1L1210.2 830.4L1211.2 830.6L1212.2 830.9L1213.2 831.2L1214.2 831.4L1215.2 831.7L1216.2 831.9L1217.2 832.2L1218.2 832.5L1219.2 832.7L1220.2 833L1221.2 833.2L1222.2 833.5L1223.2 833.8L1224.2 834L1225.2 834.3L1226.2 834.6L1227.2 834.8L1228.2 835.1L1229.2 835.3L1230.2 835.6L1231.2 835.9L1232.2 836.1L1233.2 836.4L1234.2 836.6L1235.2 836.9L1236.2 837.2L1237.2 837.4L1238.2 837.7L1239.2 837.9L1240.2 838.2L1241.2 838.5L1242.2 838.7L1243.2 839L1244.2 839.2L1245.2 839.5L1246.2 839.8L1247.2 840L1248.2 840.3L1249.2 840.5L1250.2 840.8L1251.2 841.1L1252.2 841.3L1253.2 841.6L1254.2 841.8L1255.2 842.1L1256.2 842.4L1257.2 842.6L1258.2 842.9L1259.2 843.1L1260.2 843.4L1261.2 843.7L1262.2 843.9L1263.2 844.2L1264.2 844.5L1265.2 844.7L1266.2 845L1267.2 845.2L1268.2 845.5L1269.2 845.8L1270.2 846L1271.2 846.3L1272.2 846.5L1273.2 846.8L1274.2 847.1L1275.2 847.3L1276.2 847.6L1277.2 847.8L1278.2 848.1L1279.2 848.4L1280.2 848.6L1281.2 848.9L1282.2 849.1L1283.2 849.4L1284.2 849.7L1285.2 849.9L1286.2 850.2" fill="none" stroke="#0000ff" stroke-width="3"/>
<path d="M731.2 705.3L732.2 705.5L733.2 705.7L734.2 706L735.2 706.2L736.2 706.4L737.2 706.6L738.2 706.9L739.2 707.1L740.2 707.3L741.2 707.5L742.2 707.7L743.2 707.9L744.2 708.2L745.2 708.4L746.2 708.6L747.2 708.8L748.2 709L749.2 709.2L750.2 709.3L751.2 709.5L752.2 709.7L753.2 709.9L754.2 710.1L755.2 710.2L756.2 710.4L757.2 710.6L758.2 710.7L759.2 710.9L760.2 711L761.2 711.2L762.2 711.3L763.2 711.4L764.2 711.5L765.2 711.7L766.2 711.8L767.2 711.9L768.2 712L769.2 712.1L770.2 712.2L771.2 712.2L772.2 712.3L773.2 712.4L774.2 712.4L775.2 712.5L776.2 712.5L777.2 712.6L778.2 712.6L779.2 712.6L780.2 712.7L781.2 712.7L782.2 712.7L783.2 712.7L784.2 712.7L785.2 712.6L786.2 712.6L787.2 712.6L788.2 712.5L789.2 712.5L790.2 712.4L791.2 712.4L792.2 712.3L793.2 712.2L794.2 712.1L795.2 712L796.2 711.9L797.2 711.8L798.2 711.7L799.2 711.6L800.2 711.5L801.2 711.4L802.2 711.2L803.2 711.1L804.2 711L805.2 710.8L806.2 710.7L807.2 710.5L808.2 710.4L809.2 710.2L810.2 710.1L811.2 709.9L812.2 709.8L813.2 709.6L814.2 709.5L815.2 709.3L816.2 709.2L817.2 709L818.2 708.8L819.2 708.7L820.2 708.5L821.2 708.4L822.2 708.3L823.2 708.1L824.2 708L825.2 707.8L826.2 707.7L827.2 707.6L828.2 707.5L829.2 707.4L830.2 707.3L831.2 707.1L832.2 707.1L833.2 707L834.2 706.9L835.2 706.8L836.2 706.7L837.2 706.7L838.2 706.6L839.2 706.6L840.2 706.5L841.2 706.5L842.2 706.5L843.2 706.4L844.2 706.4L845.2 706.4L846.2 706.4L847.2 706.4L848.2 706.4L849.2 706.5L850.2 706.5L851.2 706.5L852.2 706.6L853.2 706.6L854.2 706.6L855.2 706.7L856.2 706.8L857.2 706.8L858.2 706.9L859.2 706.9L860.2 707L861.2 707.1L862.2 707.2L863.2 707.3L864.2 707.4L865.2 707.5L866.2 707.6L867.2 707.7L868.2 707.8L869.2 707.9L870.2 708L871.2 708.1L872.2 708.2L873.2 708.4L874.2 708.5L875.2 708.6L876.2 708.8L877.2 709L878.2 709.1L879.2 709.3L880.2 709.5L881.2 709.7L882.2 709.9L883.2 710.1L884.2 710.3L885.2 710.6L886.2 710.8L887.2 711.1L888.2 711.4L889.2 711.7L890.2 712L891.2 712.3L892.2 712.7L893.2 713.1L894.2 713.4L895.2 713.9L896.2 714.3L897.2 714.7L898.2 715.2L899.2 715.7L900.2 716.2L901.2 716.8L902.2 717.3L903.2 717.9L904.2 718.5L905.2 719.1L906.2 719.8L907.2 720.4L908.2 721.1L909.2 721.8L910.2 722.5L911.2 723.3L912.2 724L913.2 724.8L914.2 725.6L915.2 726.4L916.2 727.2L917.2 728.1L918.2 728.9L919.2 729.8L920.2 730.6L921.2 731.5L922.2 732.4L923.2 733.3L924.2 734.2L925.2 735.1L926.2 736L927.2 736.9L928.2 737.8L929.2 738.7L930.2 739.6L931.2 740.5L932.2 741.3L933.2 742.2L934.2 743.1L935.2 744L936.2 744.8L937.2 745.7L938.2 746.5L939.2 747.3L940.2 748.1L941.2 748.9L942.2 749.7L943.2 750.5L944.2 751.2L945.2 751.9L946.2 752.7L947.2 753.4L948.2 754.1L949.2 754.7L950.2 755.4L951.2 756.1L952.2 756.7L953.2 757.3L954.2 757.9L955.2 758.5L956.2 759L957.2 759.6L958.2 760.1L959.2 760.7L960.2 761.2L961.2 761.7L962.2 762.1L963.2 762.6L964.2 763.1L965.2 763.5L966.2 764L967.2 764.4L968.2 764.8L969.2 765.2L970.2 765.6L971.2 766L972.2 766.4L973.2 766.7L974.2 767.1L975.2 767.4L976.2 767.8L977.2 768.1L978.2 768.5L979.2 768.8L980.2 769.1L981.2 769.4L982.2 769.7L983.2 770L984.2 770.4L985.2 770.7L986.2 770.9L987.2 771.2L988.2 771.5L988.2 771.8L983.2 770.5L977.2 769L971.2 767.5L965.2 765.9L959.2 764.4L953.2 762.8L947.2 761.3L941.2 759.7L935.2 758.2L929.2 756.6L923.2 755.1L917.2 753.5L911.2 752L905.2 750.4L899.2 748.9L893.2 747.3L887.2 745.8L881.2 744.2L875.2 742.7L869.2 741.1L863.2 739.6L857.2 738.1L851.2 736.5L845.2 735L839.2 733.4L833.2 731.9L827.2 730.3L821.2 728.8L815.2 727.2L809.2 725.7L803.2 724.1L797.2 722.6L791.2 721L785.2 719.5L779.2 717.9L773.2 716.4L767.2 714.8L761.2 713.3L755.2 711.8L749.2 710.2L743.2 708.7L737.2 707.1L731.2 705.6Z" fill="url(#g9)"/>
<path d="M884.2 744.8L885.2 745L886.2 745.3L887.2 745.5L888.2 745.8L889.2 746L890.2 746.2L891.2 746.5L892.2 746.7L893.2 746.9L894.2 747.2L895.2 747.4L896.2 747.6L897.2 747.9L898.2 748.1L899.2 748.3L900.2 748.6L901.2 748.8L902.2 749L903.2 749.2L904.2 749.5L905.2 749.7L906.2 749.9L907.2 750.1L908.2 750.3L909.2 750.5L910.2 750.7L911.2 751L912.2 751.2L913.2 751.4L914.2 751.6L915.2 751.8L916.2 752L917.2 752.2L918.2 752.4L919.2 752.6L920.2 752.7L921.2 752.9L922.2 753.1L923.2 753.3L924.2 753.5L925.2 753.6L926.2 753.8L927.2 754L928.2 754.1L929.2 754.3L930.2 754.5L931.2 754.6L932.2 754.8L933.2 754.9L934.2 755L935.2 755.2L936.2 755.3L937.2 755.4L938.2 755.6L939.2 755.7L940.2 755.8L941.2 755.9L942.2 756L943.2 756.1L944.2 756.2L945.2 756.3L946.2 756.4L947.2 756.5L948.2 756.5L949.2 756.6L950.2 756.7L951.2 756.7L952.2 756.8L953.2 756.8L954.2 756.9L955.2 756.9L956.2 756.9L957.2 756.9L958.2 756.9L959.2 756.9L960.2 756.9L961.2 756.9L962.2 756.9L963.2 756.9L964.2 756.8L965.2 756.8L966.2 756.7L967.2 756.7L968.2 756.6L969.2 756.5L970.2 756.5L971.2 756.4L972.2 756.3L973.2 756.2L974.2 756L975.2 755.9L976.2 755.8L977.2 755.6L978.2 755.5L979.2 755.3L980.2 755.1L981.2 754.9L982.2 754.7L983.2 754.5L984.2 754.3L985.2 754.1L986.2 753.9L987.2 753.6L988.2 753.4L989.2 753.1L990.2 752.8L991.2 752.5L992.2 752.2L993.2 751.9L994.2 751.6L995.2 751.3L996.2 750.9L997.2 750.6L998.2 750.2L999.2 749.8L1000.2 749.4L1001.2 749.1L1002.2 748.6L1003.2 748.2L1004.2 747.8L1005.2 747.4L1006.2 746.9L1007.2 746.5L1008.2 746L1009.2 745.5L1010.2 745L1011.2 744.5L1012.2 744L1013.2 743.5L1014.2 743L1015.2 742.4L1016.2 741.9L1017.2 741.3L1018.2 740.8L1019.2 740.2L1020.2 739.6L1021.2 739L1022.2 738.4L1023.2 737.8L1024.2 737.2L1025.2 736.6L1026.2 735.9L1027.2 735.3L1028.2 734.6L1029.2 734L1030.2 733.3L1031.2 732.7L1032.2 732L1033.2 731.3L1034.2 730.6L1035.2 729.9L1036.2 729.2L1037.2 728.5L1038.2 727.8L1039.2 727.1L1040.2 726.4L1041.2 725.7L1042.2 725L1043.2 724.3L1044.2 723.6L1045.2 722.9L1046.2 722.1L1047.2 721.4L1048.2 720.7L1049.2 720L1050.2 719.3L1051.2 718.6L1052.2 717.8L1053.2 717.1L1054.2 716.4L1055.2 715.7L1056.2 715L1057.2 714.3L1058.2 713.6L1059.2 713L1060.2 712.3L1061.2 711.6L1062.2 710.9L1063.2 710.3L1064.2 709.6L1065.2 709L1066.2 708.3L1067.2 707.7L1068.2 707.1L1069.2 706.5L1070.2 705.9L1071.2 705.3L1072.2 704.7L1073.2 704.2L1074.2 703.6L1075.2 703.1L1076.2 702.6L1077.2 702.1L1078.2 701.6L1079.2 701.1L1080.2 700.6L1081.2 700.2L1082.2 699.7L1083.2 699.3L1084.2 698.9L1085.2 698.5L1086.2 698.2L1087.2 697.8L1088.2 697.5L1089.2 697.2L1090.2 696.9L1091.2 696.7L1092.2 696.4L1093.2 696.2L1094.2 696L1095.2 695.8L1096.2 695.6L1097.2 695.5L1098.2 695.4L1099.2 695.3L1100.2 695.2L1101.2 695.1L1102.2 695.1L1103.2 695.1L1104.2 695.1L1105.2 695.1L1106.2 695.2L1107.2 695.3L1108.2 695.4L1109.2 695.5L1110.2 695.7L1111.2 695.9L1112.2 696.1L1113.2 696.3L1114.2 696.5L1115.2 696.8L1116.2 697.1L1117.2 697.4L1118.2 697.8L1119.2 698.2L1120.2 698.5L1121.2 699L1122.2 699.4L1123.2 699.9L1124.2 700.4L1125.2 700.9L1126.2 701.4L1127.2 702L1128.2 702.5L1129.2 703.1L1130.2 703.8L1131.2 704.4L1132.2 705.1L1133.2 705.8L1134.2 706.5L1135.2 707.2L1136.2 708L1137.2 708.7L1138.2 709.5L1139.2 710.4L1140.2 711.2L1141.2 712L1142.2 712.9L1143.2 713.8L1144.2 714.7L1145.2 715.6L1146.2 716.6L1147.2 717.5L1148.2 718.5L1149.2 719.5L1150.2 720.5L1151.2 721.5L1152.2 722.5L1153.2 723.6L1154.2 724.6L1155.2 725.7L1156.2 726.8L1157.2 727.9L1158.2 729L1159.2 730.1L1160.2 731.2L1161.2 732.4L1162.2 733.5L1163.2 734.7L1164.2 735.8L1165.2 737L1166.2 738.2L1167.2 739.4L1168.2 740.6L1169.2 741.8L1170.2 743L1171.2 744.2L1172.2 745.4L1173.2 746.6L1174.2 747.8L1175.2 749.1L1176.2 750.3L1177.2 751.5L1178.2 752.7L1179.2 754L1180.2 755.2L1181.2 756.4L1182.2 757.7L1183.2 758.9L1184.2 760.1L1185.2 761.4L1186.2 762.6L1187.2 763.8L1188.2 765.1L1189.2 766.3L1190.2 767.5L1191.2 768.7L1192.2 769.9L1193.2 771.1L1194.2 772.3L1195.2 773.5L1196.2 774.7L1197.2 775.9L1198.2 777.1L1199.2 778.3L1200.2 779.4L1201.2 780.6L1202.2 781.8L1203.2 782.9L1204.2 784L1205.2 785.2L1206.2 786.3L1207.2 787.4L1208.2 788.5L1209.2 789.6L1210.2 790.7L1211.2 791.8L1212.2 792.9L1213.2 793.9L1214.2 795L1215.2 796L1216.2 797L1217.2 798.1L1218.2 799.1L1219.2 800.1L1220.2 801.1L1221.2 802L1222.2 803L1223.2 804L1224.2 804.9L1225.2 805.9L1226.2 806.8L1227.2 807.7L1228.2 808.6L1229.2 809.5L1230.2 810.4L1231.2 811.3L1232.2 812.1L1233.2 813L1234.2 813.8L1235.2 814.7L1236.2 815.5L1237.2 816.3L1238.2 817.1L1239.2 817.9L1240.2 818.7L1241.2 819.4L1242.2 820.2L1243.2 821L1244.2 821.7L1245.2 822.4L1246.2 823.1L1247.2 823.8L1248.2 824.5L1249.2 825.2L1250.2 825.9L1251.2 826.6L1252.2 827.2L1253.2 827.9L1254.2 828.5L1255.2 829.2L1256.2 829.8L1257.2 830.4L1258.2 831L1259.2 831.6L1260.2 832.2L1261.2 832.8L1262.2 833.4L1263.2 833.9L1264.2 834.5L1265.2 835L1266.2 835.6L1267.2 836.1L1268.2 836.6L1269.2 837.1L1270.2 837.7L1271.2 838.2L1272.2 838.7L1273.2 839.2L1274.2 839.6L1275.2 840.1L1276.2 840.6L1277.2 841L1278.2 841.5L1279.2 842L1280.2 842.4L1281.2 842.8L1282.2 843.3L1283.2 843.7L1284.2 844.1L1285.2 844.6L1286.2 845L1286.2 849L1280.2 847.4L1274.2 845.9L1268.2 844.3L1262.2 842.8L1256.2 841.2L1250.2 839.7L1244.2 838.1L1238.2 836.6L1232.2 835L1226.2 833.5L1220.2 831.9L1214.2 830.4L1208.2 828.8L1202.2 827.3L1196.2 825.7L1190.2 824.2L1184.2 822.6L1178.2 821.1L1172.2 819.5L1166.2 818L1160.2 816.4L1154.2 814.9L1148.2 813.3L1142.2 811.8L1136.2 810.2L1130.2 808.7L1124.2 807.1L1118.2 805.6L1112.2 804L1106.2 802.5L1100.2 800.9L1094.2 799.4L1088.2 797.8L1082.2 796.3L1076.2 794.7L1070.2 793.2L1064.2 791.6L1058.2 790.1L1052.2 788.5L1046.2 787L1040.2 785.4L1034.2 783.9L1028.2 782.3L1022.2 780.8L1016.2 779.2L1010.2 777.7L1004.2 776.1L998.2 774.6L992.2 773L986.2 771.5L980.2 769.9L974.2 768.4L968.2 766.8L962.2 765.3L956.2 763.7L950.2 762.2L944.2 760.6L938.2 759.1L932.2 757.5L926.2 756L920.2 754.4L914.2 752.9L908.2 751.3L902.2 749.8L896.2 748.2L890.2 746.7L884.2 745.1Z" fill="url(#g10)"/>
<path d="M723.2 703.3L724.2 703.6L725.2 703.8L726.2 704.1L727.2 704.3L728.2 704.5L729.2 704.8L730.2 705L731.2 705.3L732.2 705.5L733.2 705.7L734.2 706L735.2 706.2L736.2 706.4L737.2 706.6L738.2 706.9L739.2 707.1L740.2 707.3L741.2 707.5L742.2 707.7L743.2 707.9L744.2 708.2L745.2 708.4L746.2 708.6L747.2 708.8L748.2 709L749.2 709.2L750.2 709.3L751.2 709.5L752.2 709.7L753.2 709.9L754.2 710.1L755.2 710.2L756.2 710.4L757.2 710.6L758.2 710.7L759.2 710.9L760.2 711L761.2 711.2L762.2 711.3L763.2 711.4L764.2 711.5L765.2 711.7L766.2 711.8L767.2 711.9L768.2 712L769.2 712.1L770.2 712.2L771.2 712.2L772.2 712.3L773.2 712.4L774.2 712.4L775.2 712.5L776.2 712.5L777.2 712.6L778.2 712.6L779.2 712.6L780.2 712.7L781.2 712.7L782.2 712.7L783.2 712.7L784.2 712.7L785.2 712.6L786.2 712.6L787.2 712.6L788.2 712.5L789.2 712.5L790.2 712.4L791.2 712.4L792.2 712.3L793.2 712.2L794.2 712.1L795.2 712L796.2 711.9L797.2 711.8L798.2 711.7L799.2 711.6L800.2 711.5L801.2 711.4L802.2 711.2L803.2 711.1L804.2 711L805.2 710.8L806.2 710.7L807.2 710.5L808.2 710.4L809.2 710.2L810.2 710.1L811.2 709.9L812.2 709.8L813.2 709.6L814.2 709.5L815.2 709.3L816.2 709.2L817.2 709L818.2 708.8L819.2 708.7L820.2 708.5L821.2 708.4L822.2 708.3L823.2 708.1L824.2 708L825.2 707.8L826.2 707.7L827.2 707.6L828.2 707.5L829.2 707.4L830.2 707.3L831.2 707.1L832.2 707.1L833.2 707L834.2 706.9L835.2 706.8L836.2 706.7L837.2 706.7L838.2 706.6L839.2 706.6L840.2 706.5L841.2 706.5L842.2 706.5L843.2 706.4L844.2 706.4L845.2 706.4L846.2 706.4L847.2 706.4L848.2 706.4L849.2 706.5L850.2 706.5L851.2 706.5L852.2 706.6L853.2 706.6L854.2 706.6L855.2 706.7L856.2 706.8L857.2 706.8L858.2 706.9L859.2 706.9L860.2 707L861.2 707.1L862.2 707.2L863.2 707.3L864.2 707.4L865.2 707.5L866.2 707.6L867.2 707.7L868.2 707.8L869.2 707.9L870.2 708L871.2 708.1L872.2 708.2L873.2 708.4L874.2 708.5L875.2 708.6L876.2 708.8L877.2 709L878.2 709.1L879.2 709.3L880.2 709.5L881.2 709.7L882.2 709.9L883.2 710.1L884.2 710.3L885.2 710.6L886.2 710.8L887.2 711.1L888.2 711.4L889.2 711.7L890.2 712L891.2 712.3L892.2 712.7L893.2 713.1L894.2 713.4L895.2 713.9L896.2 714.3L897.2 714.7L898.2 715.2L899.2 715.7L900.2 716.2L901.2 716.8L902.2 717.3L903.2 717.9L904.2 718.5L905.2 719.1L906.2 719.8L907.2 720.4L908.2 721.1L909.2 721.8L910.2 722.5L911.2 723.3L912.2 724L913.2 724.8L914.2 725.6L915.2 726.4L916.2 727.2L917.2 728.1L918.2 728.9L919.2 729.8L920.2 730.6L921.2 731.5L922.2 732.4L923.2 733.3L924.2 734.2L925.2 735.1L926.2 736L927.2 736.9L928.2 737.8L929.2 738.7L930.2 739.6L931.2 740.5L932.2 741.3L933.2 742.2L934.2 743.1L935.2 744L936.2 744.8L937.2 745.7L938.2 746.5L939.2 747.3L940.2 748.1L941.2 748.9L942.2 749.7L943.2 750.5L944.2 751.2L945.2 751.9L946.2 752.7L947.2 753.4L948.2 754.1L949.2 754.7L950.2 755.4L951.2 756.1L952.2 756.7L953.2 757.3L954.2 757.9L955.2 758.5L956.2 759L957.2 759.6L958.2 760.1L959.2 760.7L960.2 761.2L961.2 761.7L962.2 762.1L963.2 762.6L964.2 763.1L965.2 763.5L966.2 764L967.2 764.4L968.2 764.8L969.2 765.2L970.2 765.6L971.2 766L972.2 766.4L973.2 766.7L974.2 767.1L975.2 767.4L976.2 767.8L977.2 768.1L978.2 768.5L979.2 768.8L980.2 769.1L981.2 769.4L982.2 769.7L983.2 770L984.2 770.4L985.2 770.7L986.2 770.9L987.2 771.2L988.2 771.5L989.2 771.8L990.2 772.1L991.2 772.4L992.2 772.7L993.2 772.9L994.2 773.2L995.2 773.5L996.2 773.8L997.2 774L998.2 774.3L999.2 774.6L1000.2 774.8L1001.2 775.1L1002.2 775.4L1003.2 775.6L1004.2 775.9L1005.2 776.2L1006.2 776.4L1007.2 776.7L1008.2 777L1009.2 777.2L1010.2 777.5L1011.2 777.7L1012.2 778L1013.2 778.3L1014.2 778.5L1015.2 778.8L1016.2 779L1017.2 779.3L1018.2 779.6L1019.2 779.8L1020.2 780.1L1021.2 780.3L1022.2 780.6L1023.2 780.9L1024.2 781.1L1025.2 781.4L1026.2 781.6L1027.2 781.9L1028.2 782.1L1029.2 782.4L1030.2 782.7L1031.2 782.9L1032.2 783.2L1033.2 783.4L1034.2 783.7L1035.2 784L1036.2 784.2L1037.2 784.5L1038.2 784.7L1039.2 785L1040.2 785.2L1041.2 785.5L1042.2 785.8L1043.2 786L1044.2 786.3L1045.2 786.5L1046.2 786.8L1047.2 787L1048.2 787.3L1049.2 787.6L1050.2 787.8L1051.2 788.1L1052.2 788.3L1053.2 788.6L1054.2 788.9L1055.2 789.1L1056.2 789.4L1057.2 789.6L1058.2 789.9L1059.2 790.1L1060.2 790.4L1061.2 790.7L1062.2 790.9L1063.2 791.2L1064.2 791.4L1065.2 791.7L1066.2 791.9L1067.2 792.2L1068.2 792.5L1069.2 792.7L1070.2 793L1071.2 793.2L1072.2 793.5L1073.2 793.8L1074.2 794L1075.2 794.3L1076.2 794.5L1077.2 794.8L1078.2 795L1079.2 795.3L1080.2 795.6L1081.2 795.8L1082.2 796.1L1083.2 796.3L1084.2 796.6L1085.2 796.8L1086.2 797.1L1087.2 797.4L1088.2 797.6L1089.2 797.9L1090.2 798.1L1091.2 798.4L1092.2 798.7L1093.2 798.9L1094.2 799.2L1095.2 799.4L1096.2 799.7L1097.2 799.9L1098.2 800.2L1099.2 800.5L1100.2 800.7L1101.2 801L1102.2 801.2L1103.2 801.5L1104.2 801.7L1105.2 802L1106.2 802.3L1107.2 802.5L1108.2 802.8L1109.2 803L1110.2 803.3L1111.2 803.6L1112.2 803.8L1113.2 804.1L1114.2 804.3L1115.2 804.6L1116.2 804.8L1117.2 805.1L1118.2 805.4L1119.2 805.6L1120.2 805.9L1121.2 806.1L1122.2 806.4L1123.2 806.6L1124.2 806.9L1125.2 807.2L1126.2 807.4L1127.2 807.7L1128.2 807.9L1129.2 808.2L1130.2 808.5L1131.2 808.7L1132.2 809L1133.2 809.2L1134.2 809.5L1135.2 809.7L1136.2 810L1137.2 810.3L1138.2 810.5L1139.2 810.8L1140.2 811L1141.2 811.3L1142.2 811.5L1143.2 811.8L1144.2 812.1L1145.2 812.3L1146.2 812.6L1147.2 812.8L1148.2 813.1L1149.2 813.4L1150.2 813.6L1151.2 813.9L1152.2 814.1L1153.2 814.4L1154.2 814.6L1155.2 814.9L1156.2 815.2L1157.2 815.4L1158.2 815.7L1159.2 815.9L1160.2 816.2L1161.2 816.4L1162.2 816.7L1163.2 817L1164.2 817.2L1165.2 817.5L1166.2 817.7L1167.2 818L1168.2 818.3L1169.2 818.5L1170.2 818.8L1171.2 819L1172.2 819.3L1173.2 819.5L1174.2 819.8L1175.2 820.1L1176.2 820.3L1177.2 820.6L1178.2 820.8L1179.2 821.1L1180.2 821.3L1181.2 821.6L1182.2 821.9L1183.2 822.1L1184.2 822.4L1185.2 822.6L1186.2 822.9L1187.2 823.2L1188.2 823.4L1189.2 823.7L1190.2 823.9L1191.2 824.2L1192.2 824.4L1193.2 824.7L1194.2 825L1195.2 825.2L1196.2 825.5L1197.2 825.7L1198.2 826L1199.2 826.2L1200.2 826.5L1201.2 826.8L1202.2 827L1203.2 827.3L1204.2 827.5L1205.2 827.8L1206.2 828.1L1207.2 828.3L1208.2 828.6L1209.2 828.8L1210.2 829.1L1211.2 829.3L1212.2 829.6L1213.2 829.9L1214.2 830.1L1215.2 830.4L1216.2 830.6L1217.2 830.9L1218.2 831.1L1219.2 831.4L1220.2 831.7L1221.2 831.9L1222.2 832.2L1223.2 832.4L1224.2 832.7L1225.2 833L1226.2 833.2L1227.2 833.5L1228.2 833.7L1229.2 834L1230.2 834.2L1231.2 834.5L1232.2 834.8L1233.2 835L1234.2 835.3L1235.2 835.5L1236.2 835.8L1237.2 836L1238.2 836.3L1239.2 836.6L1240.2 836.8L1241.2 837.1L1242.2 837.3L1243.2 837.6L1244.2 837.8L1245.2 838.1L1246.2 838.4L1247.2 838.6L1248.2 838.9L1249.2 839.1L1250.2 839.4L1251.2 839.7L1252.2 839.9L1253.2 840.2L1254.2 840.4L1255.2 840.7L1256.2 840.9L1257.2 841.2L1258.2 841.5L1259.2 841.7L1260.2 842L1261.2 842.2L1262.2 842.5L1263.2 842.7L1264.2 843L1265.2 843.3L1266.2 843.5L1267.2 843.8L1268.2 844L1269.2 844.3L1270.2 844.6L1271.2 844.8L1272.2 845.1L1273.2 845.3L1274.2 845.6L1275.2 845.8L1276.2 846.1L1277.2 846.4L1278.2 846.6L1279.2 846.9L1280.2 847.1L1281.2 847.4L1282.2 847.6L1283.2 847.9L1284.2 848.2L1285.2 848.4L1286.2 848.7" fill="none" stroke="#008030" stroke-width="2.2" stroke-opacity="0.75"/>
<path d="M723.2 703.5L724.2 703.8L725.2 704L726.2 704.3L727.2 704.5L728.2 704.8L729.2 705.1L730.2 705.3L731.2 705.6L732.2 705.8L733.2 706.1L734.2 706.3L735.2 706.6L736.2 706.9L737.2 707.1L738.2 707.4L739.2 707.6L740.2 707.9L741.2 708.2L742.2 708.4L743.2 708.7L744.2 708.9L745.2 709.2L746.2 709.4L747.2 709.7L748.2 710L749.2 710.2L750.2 710.5L751.2 710.7L752.2 711L753.2 711.3L754.2 711.5L755.2 711.8L756.2 712L757.2 712.3L758.2 712.5L759.2 712.8L760.2 713.1L761.2 713.3L762.2 713.6L763.2 713.8L764.2 714.1L765.2 714.4L766.2 714.6L767.2 714.9L768.2 715.1L769.2 715.4L770.2 715.6L771.2 715.9L772.2 716.2L773.2 716.4L774.2 716.7L775.2 716.9L776.2 717.2L777.2 717.5L778.2 717.7L779.2 718L780.2 718.2L781.2 718.5L782.2 718.7L783.2 719L784.2 719.3L785.2 719.5L786.2 719.8L787.2 720L788.2 720.3L789.2 720.6L790.2 720.8L791.2 721.1L792.2 721.3L793.2 721.6L794.2 721.8L795.2 722.1L796.2 722.4L797.2 722.6L798.2 722.9L799.2 723.1L800.2 723.4L801.2 723.7L802.2 723.9L803.2 724.2L804.2 724.4L805.2 724.7L806.2 724.9L807.2 725.2L808.2 725.5L809.2 725.7L810.2 726L811.2 726.2L812.2 726.5L813.2 726.8L814.2 727L815.2 727.3L816.2 727.5L817.2 727.8L818.2 728L819.2 728.3L820.2 728.6L821.2 728.8L822.2 729.1L823.2 729.3L824.2 729.6L825.2 729.8L826.2 730.1L827.2 730.4L828.2 730.6L829.2 730.9L830.2 731.1L831.2 731.4L832.2 731.6L833.2 731.9L834.2 732.2L835.2 732.4L836.2 732.7L837.2 732.9L838.2 733.2L839.2 733.5L840.2 733.7L841.2 734L842.2 734.2L843.2 734.5L844.2 734.7L845.2 735L846.2 735.2L847.2 735.5L848.2 735.8L849.2 736L850.2 736.3L851.2 736.5L852.2 736.8L853.2 737L854.2 737.3L855.2 737.5L856.2 737.8L857.2 738.1L858.2 738.3L859.2 738.6L860.2 738.8L861.2 739.1L862.2 739.3L863.2 739.6L864.2 739.8L865.2 740.1L866.2 740.3L867.2 740.6L868.2 740.8L869.2 741.1L870.2 741.3L871.2 741.6L872.2 741.8L873.2 742.1L874.2 742.3L875.2 742.6L876.2 742.8L877.2 743.1L878.2 743.3L879.2 743.6L880.2 743.8L881.2 744.1L882.2 744.3L883.2 744.6L884.2 744.8L885.2 745L886.2 745.3L887.2 745.5L888.2 745.8L889.2 746L890.2 746.2L891.2 746.5L892.2 746.7L893.2 746.9L894.2 747.2L895.2 747.4L896.2 747.6L897.2 747.9L898.2 748.1L899.2 748.3L900.2 748.6L901.2 748.8L902.2 749L903.2 749.2L904.2 749.5L905.2 749.7L906.2 749.9L907.2 750.1L908.2 750.3L909.2 750.5L910.2 750.7L911.2 751L912.2 751.2L913.2 751.4L914.2 751.6L915.2 751.8L916.2 752L917.2 752.2L918.2 752.4L919.2 752.6L920.2 752.7L921.2 752.9L922.2 753.1L923.2 753.3L924.2 753.5L925.2 753.6L926.2 753.8L927.2 754L928.2 754.1L929.2 754.3L930.2 754.5L931.2 754.6L932.2 754.8L933.2 754.9L934.2 755L935.2 755.2L936.2 755.3L937.2 755.4L938.2 755.6L939.2 755.7L940.2 755.8L941.2 755.9L942.2 756L943.2 756.1L944.2 756.2L945.2 756.3L946.2 756.4L947.2 756.5L948.2 756.5L949.2 756.6L950.2 756.7L951.2 756.7L952.2 756.8L953.2 756.8L954.2 756.9L955.2 756.9L956.2 756.9L957.2 756.9L958.2 756.9L959.2 756.9L960.2 756.9L961.2 756.9L962.2 756.9L963.2 756.9L964.2 756.8L965.2 756.8L966.2 756.7L967.2 756.7L968.2 756.6L969.2 756.5L970.2 756.5L971.2 756.4L972.2 756.3L973.2 756.2L974.2 756L975.2 755.9L976.2 755.8L977.2 755.6L978.2 755.5L979.2 755.3L980.2 755.1L981.2 754.9L982.2 754.7L983.2 754.5L984.2 754.3L985.2 754.1L986.2 753.9L987.2 753.6L988.2 753.4L989.2 753.1L990.2 752.8L991.2 752.5L992.2 752.2L993.2 751.9L994.2 751.6L995.2 751.3L996.2 750.9L997.2 750.6L998.2 750.2L999.2 749.8L1000.2 749.4L1001.2 749.1L1002.2 748.6L1003.2 748.2L1004.2 747.8L1005.2 747.4L1006.2 746.9L1007.2 746.5L1008.2 746L1009.2 745.5L1010.2 745L1011.2 744.5L1012.2 744L1013.2 743.5L1014.2 743L1015.2 742.4L1016.2 741.9L1017.2 741.3L1018.2 740.8L1019.2 740.2L1020.2 739.6L1021.2 739L1022.2 738.4L1023.2 737.8L1024.2 737.2L1025.2 736.6L1026.2 735.9L1027.2 735.3L1028.2 734.6L1029.2 734L1030.2 733.3L1031.2 732.7L1032.2 732L1033.2 731.3L1034.2 730.6L1035.2 729.9L1036.2 729.2L1037.2 728.5L1038.2 727.8L1039.2 727.1L1040.2 726.4L1041.2 725.7L1042.2 725L1043.2 724.3L1044.2 723.6L1045.2 722.9L1046.2 722.1L1047.2 721.4L1048.2 720.7L1049.2 720L1050.2 719.3L1051.2 718.6L1052.2 717.8L1053.2 717.1L1054.2 716.4L1055.2 715.7L1056.2 715L1057.2 714.3L1058.2 713.6L1059.2 713L1060.2 712.3L1061.2 711.6L1062.2 710.9L1063.2 710.3L1064.2 709.6L1065.2 709L1066.2 708.3L1067.2 707.7L1068.2 707.1L1069.2 706.5L1070.2 705.9L1071.2 705.3L1072.2 704.7L1073.2 704.2L1074.2 703.6L1075.2 703.1L1076.2 702.6L1077.2 702.1L1078.2 701.6L1079.2 701.1L1080.2 700.6L1081.2 700.2L1082.2 699.7L1083.2 699.3L1084.2 698.9L1085.2 698.5L1086.2 698.2L1087.2 697.8L1088.2 697.5L1089.2 697.2L1090.2 696.9L1091.2 696.7L1092.2 696.4L1093.2 696.2L1094.2 696L1095.2 695.8L1096.2 695.6L1097.2 695.5L1098.2 695.4L1099.2 695.3L1100.2 695.2L1101.2 695.1L1102.2 695.1L1103.2 695.1L1104.2 695.1L1105.2 695.1L1106.2 695.2L1107.2 695.3L1108.2 695.4L1109.2 695.5L1110.2 695.7L1111.2 695.9L1112.2 696.1L1113.2 696.3L1114.2 696.5L1115.2 696.8L1116.2 697.1L1117.2 697.4L1118.2 697.8L1119.2 698.2L1120.2 698.5L1121.2 699L1122.2 699.4L1123.2 699.9L1124.2 700.4L1125.2 700.9L1126.2 701.4L1127.2 702L1128.2 702.5L1129.2 703.1L1130.2 703.8L1131.2 704.4L1132.2 705.1L1133.2 705.8L1134.2 706.5L1135.2 707.2L1136.2 708L1137.2 708.7L1138.2 709.5L1139.2 710.4L1140.2 711.2L1141.2 712L1142.2 712.9L1143.2 713.8L1144.2 714.7L1145.2 715.6L1146.2 716.6L1147.2 717.5L1148.2 718.5L1149.2 719.5L1150.2 720.5L1151.2 721.5L1152.2 722.5L1153.2 723.6L1154.2 724.6L1155.2 725.7L1156.2 726.8L1157.2 727.9L1158.2 729L1159.2 730.1L1160.2 731.2L1161.2 732.4L1162.2 733.5L1163.2 734.7L1164.2 735.8L1165.2 737L1166.2 738.2L1167.2 739.4L1168.2 740.6L1169.2 741.8L1170.2 743L1171.2 744.2L1172.2 745.4L1173.2 746.6L1174.2 747.8L1175.2 749.1L1176.2 750.3L1177.2 751.5L1178.2 752.7L1179.2 754L1180.2 755.2L1181.2 756.4L1182.2 757.7L1183.2 758.9L1184.2 760.1L1185.2 761.4L1186.2 762.6L1187.2 763.8L1188.2 765.1L1189.2 766.3L1190.2 767.5L1191.2 768.7L1192.2 769.9L1193.2 771.1L1194.2 772.3L1195.2 773.5L1196.2 774.7L1197.2 775.9L1198.2 777.1L1199.2 778.3L1200.2 779.4L1201.2 780.6L1202.2 781.8L1203.2 782.9L1204.2 784L1205.2 785.2L1206.2 786.3L1207.2 787.4L1208.2 788.5L1209.2 789.6L1210.2 790.7L1211.2 791.8L1212.2 792.9L1213.2 793.9L1214.2 795L1215.2 796L1216.2 797L1217.2 798.1L1218.2 799.1L1219.2 800.1L1220.2 801.1L1221.2 802L1222.2 803L1223.2 804L1224.2 804.9L1225.2 805.9L1226.2 806.8L1227.2 807.7L1228.2 808.6L1229.2 809.5L1230.2 810.4L1231.2 811.3L1232.2 812.1L1233.2 813L1234.2 813.8L1235.2 814.7L1236.2 815.5L1237.2 816.3L1238.2 817.1L1239.2 817.9L1240.2 818.7L1241.2 819.4L1242.2 820.2L1243.2 821L1244.2 821.7L1245.2 822.4L1246.2 823.1L1247.2 823.8L1248.2 824.5L1249.2 825.2L1250.2 825.9L1251.2 826.6L1252.2 827.2L1253.2 827.9L1254.2 828.5L1255.2 829.2L1256.2 829.8L1257.2 830.4L1258.2 831L1259.2 831.6L1260.2 832.2L1261.2 832.8L1262.2 833.4L1263.2 833.9L1264.2 834.5L1265.2 835L1266.2 835.6L1267.2 836.1L1268.2 836.6L1269.2 837.1L1270.2 837.7L1271.2 838.2L1272.2 838.7L1273.2 839.2L1274.2 839.6L1275.2 840.1L1276.2 840.6L1277.2 841L1278.2 841.5L1279.2 842L1280.2 842.4L1281.2 842.8L1282.2 843.3L1283.2 843.7L1284.2 844.1L1285.2 844.6L1286.2 845" fill="none" stroke="#ff00ff" stroke-width="2.6" stroke-opacity="0.6"/>
</g>
<rect x="723.2" y="530" width="562.3" height="418.4" fill="none" stroke="#000" stroke-width="3.2"/>
<text x="1186.3" y="981.2" font-size="25" text-anchor="middle" >54</text>
<text x="1054" y="981.2" font-size="25" text-anchor="middle" >56</text>
<text x="921.7" y="981.2" font-size="25" text-anchor="middle" >58</text>
<text x="789.4" y="981.2" font-size="25" text-anchor="middle" >60</text>
<path d="M1252.4 948.4V953.9M1186.3 948.4V956.9M1120.1 948.4V953.9M1054 948.4V956.9M987.8 948.4V953.9M921.7 948.4V956.9M855.5 948.4V953.9M789.4 948.4V956.9M723.2 948.4V953.9" stroke="#000" stroke-width="2.6" fill="none"/>
<text x="898.5" y="1016.3" font-size="25" text-anchor="start" >Binding Energy (eV)</text>
<text transform="translate(686.9,808.6) rotate(-90)" font-size="25">Intensity (a.u.)</text>
<text x="667.5" y="549.7" font-size="25" text-anchor="start" >(d)</text>
<path d="M729.8 554.6H776.2" stroke="#000000" stroke-width="2.8"/>
<text x="780.3" y="561" font-size="25" text-anchor="start" >Experiment</text>
<path d="M729.8 586H776.2" stroke="#ff0000" stroke-width="2.8"/>
<text x="780.3" y="592" font-size="25" text-anchor="start" >Simulated</text>
<path d="M729.8 616.6H776.2" stroke="#0000ff" stroke-width="2.8"/>
<text x="780.3" y="623" font-size="25" text-anchor="start" >Background</text>
<text x="1135" y="561.2" font-size="25">I<tspan font-size="14" dy="10.4">2</tspan><tspan dy="-10.4">-PbSe-T30</tspan></text>
<text x="1107" y="675.5" font-size="25">Se3d</text>
<text x="873.6" y="687.4" font-size="25">Se<tspan font-size="14" dy="-12">4+</tspan></text>
<g clip-path="url(#clip5)">
<path d="M74.7 1406.4L75.7 1406.7L76.7 1407.1L77.7 1407.5L78.7 1407.8L79.7 1407.5L80.7 1407.1L81.7 1406.8L82.7 1406.5L83.7 1406.2L84.7 1405.9L85.7 1405.7L86.7 1405.4L87.7 1405.2L88.7 1405.5L89.7 1405.8L90.7 1406.2L91.7 1406.5L92.7 1406.7L93.7 1406.3L94.7 1405.9L95.7 1405.6L96.7 1405.2L97.7 1404.9L98.7 1404.8L99.7 1404.8L100.7 1404.8L101.7 1404.8L102.7 1405.2L103.7 1405.6L104.7 1406L105.7 1406.4L106.7 1406.8L107.7 1407.2L108.7 1407.5L109.7 1407.9L110.7 1407.9L111.7 1407.7L112.7 1407.5L113.7 1407.3L114.7 1407.1L115.7 1406.9L116.7 1406.6L117.7 1406.3L118.7 1405.9L119.7 1405.5L120.7 1405.2L121.7 1405.4L122.7 1405.8L123.7 1406.3L124.7 1406.1L125.7 1405.8L126.7 1405.4L127.7 1405.1L128.7 1404.9L129.7 1404.8L130.7 1404.6L131.7 1404.9L132.7 1405.2L133.7 1405.5L134.7 1405.9L135.7 1406.1L136.7 1406.2L137.7 1406.2L138.7 1406.3L139.7 1406.3L140.7 1406.4L141.7 1406.4L142.7 1406.3L143.7 1406.3L144.7 1406.3L145.7 1406.3L146.7 1406.3L147.7 1406.2L148.7 1406.2L149.7 1406.2L150.7 1406.1L151.7 1406.6L152.7 1407.1L153.7 1407.7L154.7 1408.1L155.7 1408L156.7 1407.9L157.7 1407.8L158.7 1407.7L159.7 1407.6L160.7 1407.5L161.7 1407.1L162.7 1406.7L163.7 1406.4L164.7 1406L165.7 1405.6L166.7 1405.6L167.7 1405.6L168.7 1405.6L169.7 1405.7L170.7 1406.3L171.7 1406.8L172.7 1407.3L173.7 1407.3L174.7 1407.4L175.7 1407.5L176.7 1407.5L177.7 1407.6L178.7 1407.7L179.7 1407.8L180.7 1407.9L181.7 1407.5L182.7 1406.9L183.7 1406.2L184.7 1405.6L185.7 1405L186.7 1404.7L187.7 1405.6L188.7 1406.5L189.7 1407.4L190.7 1407.8L191.7 1407.9L192.7 1407.9L193.7 1408L194.7 1407.9L195.7 1407.1L196.7 1406.3L197.7 1405.6L198.7 1404.8L199.7 1405.3L200.7 1405.8L201.7 1406.3L202.7 1406.8L203.7 1407.2L204.7 1406.6L205.7 1405.9L206.7 1405.3L207.7 1405L208.7 1405.8L209.7 1406.6L210.7 1407.4L211.7 1407.8L212.7 1407.2L213.7 1406.6L214.7 1406.1L215.7 1405.5L216.7 1404.9L217.7 1404.9L218.7 1404.9L219.7 1404.9L220.7 1405.1L221.7 1405.9L222.7 1406.7L223.7 1407.3L224.7 1407.1L225.7 1406.9L226.7 1406.6L227.7 1406.3L228.7 1406L229.7 1405.7L230.7 1405.4L231.7 1405.2L232.7 1405.1L233.7 1405.1L234.7 1405.1L235.7 1405L236.7 1405L237.7 1405L238.7 1405L239.7 1404.9L240.7 1404.9L241.7 1404.9L242.7 1405L243.7 1405.1L244.7 1405.2L245.7 1405.3L246.7 1405.9L247.7 1406.6L248.7 1407.3L249.7 1408L250.7 1407.5L251.7 1407.1L252.7 1406.7L253.7 1406.2L254.7 1405.8L255.7 1405.6L256.7 1405.5L257.7 1405.4L258.7 1405.4L259.7 1405.3L260.7 1405.3L261.7 1405.8L262.7 1406.3L263.7 1406.9L264.7 1407.5L265.7 1407.1L266.7 1406.6L267.7 1406L268.7 1405.5L269.7 1404.9L270.7 1404.9L271.7 1405L272.7 1405.1L273.7 1405.1L274.7 1405.2L275.7 1405.3L276.7 1405.7L277.7 1406.3L278.7 1406.8L279.7 1407.2L280.7 1406.8L281.7 1406.4L282.7 1405.9L283.7 1405.5L284.7 1405.3L285.7 1405.1L286.7 1404.8L287.7 1404.9L288.7 1405L289.7 1405.2L290.7 1405.3L291.7 1405.4L292.7 1405.5L293.7 1405.6L294.7 1405.7L295.7 1405.8L296.7 1406L297.7 1406.5L298.7 1407L299.7 1407.5L300.7 1407.9L301.7 1407.6L302.7 1407.3L303.7 1407L304.7 1406.7L305.7 1406.4L306.7 1406.2L307.7 1405.9L308.7 1405.7L309.7 1405.4L310.7 1405.2L311.7 1405.9L312.7 1406.6L313.7 1407.4L314.7 1407.6L315.7 1407.1L316.7 1406.7L317.7 1406.3L318.7 1405.8L319.7 1405.4L320.7 1405.9L321.7 1406.4L322.7 1406.9L323.7 1407L324.7 1406.7L325.7 1406.3L326.7 1406L327.7 1405.7L328.7 1405.3L329.7 1405.5L330.7 1405.9L331.7 1406.3L332.7 1406.7L333.7 1407.2L334.7 1407.6L335.7 1407.4L336.7 1407.1L337.7 1406.7L338.7 1406.4L339.7 1406L340.7 1405.6L341.7 1405.2L342.7 1404.8L343.7 1404.7L344.7 1404.8L345.7 1405L346.7 1405.1L347.7 1405.2L348.7 1405.3L349.7 1405.4L350.7 1405.4L351.7 1405.4L352.7 1405.4L353.7 1405.4L354.7 1405.6L355.7 1405.8L356.7 1406L357.7 1406.2L358.7 1406.5L359.7 1406.6L360.7 1406.2L361.7 1405.8L362.7 1405.4L363.7 1405.1L364.7 1405L365.7 1405L366.7 1404.9L367.7 1404.8L368.7 1404.8L369.7 1405.3L370.7 1405.8L371.7 1406.3L372.7 1406.5L373.7 1406.6L374.7 1406.6L375.7 1406.6L376.7 1406.7L377.7 1406.7L378.7 1407L379.7 1407.3L380.7 1407.5L381.7 1407.7L382.7 1406.8L383.7 1406L384.7 1405.1L385.7 1404.7L386.7 1405.1L387.7 1405.6L388.7 1406L389.7 1405.9L390.7 1405.6L391.7 1405.3L392.7 1405.3L393.7 1405.6L394.7 1406L395.7 1406.3L396.7 1406.5L397.7 1406.3L398.7 1406L399.7 1405.8L400.7 1406.2L401.7 1406.6L402.7 1407L403.7 1407.4L404.7 1407.7L405.7 1408L406.7 1407.8L407.7 1407.6L408.7 1407.3L409.7 1407.1L410.7 1406.9L411.7 1406.4L412.7 1406L413.7 1405.6L414.7 1405.2L415.7 1404.9L416.7 1404.8L417.7 1404.6L418.7 1404.8L419.7 1405.2L420.7 1405.6L421.7 1406L422.7 1406.5L423.7 1406.9L424.7 1406.7L425.7 1406.3L426.7 1405.9L427.7 1405.5L428.7 1405.1L429.7 1404.6L430.7 1404.9L431.7 1405.2L432.7 1405.5L433.7 1405.9L434.7 1406.2L435.7 1406.1L436.7 1406L437.7 1405.9L438.7 1405.8L439.7 1405.7L440.7 1405.5L441.7 1405.4L442.7 1405.2L443.7 1405.1L444.7 1405L445.7 1404.8L446.7 1405.2L447.7 1405.7L448.7 1406.2L449.7 1406.7L450.7 1407.2L451.7 1407.2L452.7 1407.2L453.7 1407.2L454.7 1407.2L455.7 1407.2L456.7 1407.2L457.7 1407.2L458.7 1407.2L459.7 1407.3L460.7 1407.3L461.7 1407.3L462.7 1407L463.7 1406.7L464.7 1406.4L465.7 1406.2L466.7 1405.9L467.7 1406L468.7 1406.4L469.7 1406.8L470.7 1407.2L471.7 1407.5L472.7 1407.6L473.7 1407.3L474.7 1407L475.7 1406.7L476.7 1406.4L477.7 1406L478.7 1406.3L479.7 1406.6L480.7 1406.9L481.7 1407.2L482.7 1407.5L483.7 1407.5L484.7 1407.3L485.7 1407.2L486.7 1407L487.7 1406.8L488.7 1406.7L489.7 1406.7L490.7 1406.6L491.7 1406.6L492.7 1406.4L493.7 1406L494.7 1405.6L495.7 1405.2L496.7 1404.9L497.7 1405.3L498.7 1406L499.7 1406.7L500.7 1407.3L501.7 1408L502.7 1407.9L503.7 1407.8L504.7 1407.6L505.7 1407.4L506.7 1407.2L507.7 1407.1L508.7 1407.1L509.7 1407.1L510.7 1407.1L511.7 1407.1L512.7 1406.9L513.7 1406.7L514.7 1406.5L515.7 1406.2L516.7 1406L517.7 1405.8L518.7 1405.5L519.7 1405.3L520.7 1405.1L521.7 1404.8L522.7 1404.8L523.7 1404.7L524.7 1404.7L525.7 1404.7L526.7 1404.6L527.7 1404.8L528.7 1405.1L529.7 1405.5L530.7 1405.8L531.7 1406.2L532.7 1406.4L533.7 1406.6L534.7 1406.8L535.7 1407L536.7 1406.9L537.7 1406.9L538.7 1406.8L539.7 1406.7L540.7 1406.6L541.7 1406.4L542.7 1406.1L543.7 1405.9L544.7 1405.7L545.7 1405.5L546.7 1405.5L547.7 1405.5L548.7 1405.6L549.7 1405.5L550.7 1405.5L551.7 1405.4L552.7 1405.3L553.7 1405.2L554.7 1405.8L555.7 1406.5L556.7 1407.2L557.7 1407.7L558.7 1407.3L559.7 1407L560.7 1406.7L561.7 1406.3L562.7 1406.1L563.7 1406L564.7 1405.9L565.7 1405.9L566.7 1405.8L567.7 1405.7L568.7 1405.6L569.7 1405.5L570.7 1405.4L571.7 1405.3L572.7 1405.3L573.7 1405.5L574.7 1406L575.7 1406.5L576.7 1407.1L577.7 1407.4L578.7 1407.5L579.7 1407.5L580.7 1407.6L581.7 1407.6L582.7 1407.6L583.7 1407.5L584.7 1407.3L585.7 1407L586.7 1406.7L587.7 1406.4L588.7 1406L589.7 1405.6L590.7 1405.2L591.7 1405.3L592.7 1405.8L593.7 1406.4L594.7 1406.9L595.7 1407.5L596.7 1407.4L597.7 1407.4L598.7 1407.3L599.7 1407.2L600.7 1407.1L601.7 1406.9L602.7 1406.7L603.7 1406.4L604.7 1406.1L605.7 1405.9L606.7 1405.6L607.7 1405.6L608.7 1405.8L609.7 1406L610.7 1406.1L611.7 1405.9L612.7 1405.7L613.7 1405.4L614.7 1405.4L615.7 1405.7L616.7 1406.1L617.7 1406.4L618.7 1406.8L619.7 1406.5L620.7 1406.3L621.7 1406L622.7 1405.8L623.7 1405.9L624.7 1406.3L625.7 1406.7L626.7 1407.2L627.7 1407.6L628.7 1408L629.7 1407.3L630.7 1406.5L631.7 1405.8L632.7 1405L633.7 1405.4L634.7 1406.3L635.7 1407.2L636.7 1407.5" fill="none" stroke="#000" stroke-width="3.2" stroke-linejoin="round"/>
</g>
<rect x="74.7" y="1044" width="561.8" height="416.8" fill="none" stroke="#000" stroke-width="3.2"/>
<text x="605.3" y="1494.7" font-size="25" text-anchor="middle" >616</text>
<text x="542.9" y="1494.7" font-size="25" text-anchor="middle" >618</text>
<text x="480.4" y="1494.7" font-size="25" text-anchor="middle" >620</text>
<text x="418" y="1494.7" font-size="25" text-anchor="middle" >622</text>
<text x="355.6" y="1494.7" font-size="25" text-anchor="middle" >624</text>
<text x="293.2" y="1494.7" font-size="25" text-anchor="middle" >626</text>
<text x="230.8" y="1494.7" font-size="25" text-anchor="middle" >628</text>
<text x="168.3" y="1494.7" font-size="25" text-anchor="middle" >630</text>
<text x="105.9" y="1494.7" font-size="25" text-anchor="middle" >632</text>
<path d="M636.5 1460.8V1466.8M605.3 1460.8V1469.8M574.1 1460.8V1466.8M542.9 1460.8V1469.8M511.7 1460.8V1466.8M480.4 1460.8V1469.8M449.2 1460.8V1466.8M418 1460.8V1469.8M386.8 1460.8V1466.8M355.6 1460.8V1469.8M324.4 1460.8V1466.8M293.2 1460.8V1469.8M262 1460.8V1466.8M230.8 1460.8V1469.8M199.5 1460.8V1466.8M168.3 1460.8V1469.8M137.1 1460.8V1466.8M105.9 1460.8V1469.8M74.7 1460.8V1466.8" stroke="#000" stroke-width="2.6" fill="none"/>
<text x="247.7" y="1530.1" font-size="25" text-anchor="start" >Binding Energy (eV)</text>
<text transform="translate(39.9,1325.5) rotate(-90)" font-size="25">Intensity (a.u.)</text>
<text x="18.3" y="1062.2" font-size="25" text-anchor="start" >(e)</text>
<path d="M79.5 1068.9H125.4" stroke="#000000" stroke-width="2.8"/>
<text x="129.5" y="1075.9" font-size="25" text-anchor="start" >Experiment</text>
<text x="501.3" y="1075.9" font-size="25">PbSe-T30</text>
<text x="546" y="1121.5" font-size="25">I3d</text>
<g clip-path="url(#clip6)">
<path d="M730.2 1383.9L731.2 1384L732.2 1384.1L733.2 1384.3L734.2 1384.4L735.2 1384.6L736.2 1384.7L737.2 1384.7L738.2 1384.7L739.2 1384.8L740.2 1384.8L741.2 1384.8L742.2 1384.8L743.2 1384.7L744.2 1384.4L745.2 1384.2L746.2 1383.9L747.2 1383.5L748.2 1383.2L749.2 1382.9L750.2 1383.2L751.2 1383.6L752.2 1384L753.2 1384.4L754.2 1384.6L755.2 1384.3L756.2 1383.8L757.2 1383.3L758.2 1382.6L759.2 1381.9L760.2 1381L761.2 1379.7L762.2 1378.5L763.2 1377.2L764.2 1376.4L765.2 1375.6L766.2 1374.8L767.2 1374.1L768.2 1373.2L769.2 1372.2L770.2 1371.2L771.2 1370.2L772.2 1369.1L773.2 1368.2L774.2 1367.3L775.2 1366.1L776.2 1364.6L777.2 1362.7L778.2 1360.4L779.2 1357.7L780.2 1354.6L781.2 1351L782.2 1346.9L783.2 1342.5L784.2 1337.4L785.2 1332L786.2 1326.1L787.2 1319.9L788.2 1313.2L789.2 1306.2L790.2 1298.9L791.2 1290.9L792.2 1282.6L793.2 1274L794.2 1265.4L795.2 1257L796.2 1248.6L797.2 1240.1L798.2 1231.6L799.2 1223.3L800.2 1215.2L801.2 1207.8L802.2 1201L803.2 1194.7L804.2 1189L805.2 1183.1L806.2 1178L807.2 1173.8L808.2 1170.5L809.2 1168.1L810.2 1166.7L811.2 1166.6L812.2 1167.7L813.2 1169.8L814.2 1172.9L815.2 1176.9L816.2 1181.7L817.2 1187.4L818.2 1193.6L819.2 1200.4L820.2 1207.7L821.2 1215.4L822.2 1223.6L823.2 1232L824.2 1240.9L825.2 1250L826.2 1259L827.2 1267.9L828.2 1276.7L829.2 1285.3L830.2 1293.6L831.2 1301.5L832.2 1309L833.2 1316.3L834.2 1323.2L835.2 1329.7L836.2 1336L837.2 1341.7L838.2 1346.7L839.2 1351.4L840.2 1355.7L841.2 1359.7L842.2 1363.5L843.2 1366.9L844.2 1369.9L845.2 1372.8L846.2 1375.5L847.2 1377.9L848.2 1379.9L849.2 1381.5L850.2 1382.8L851.2 1383.9L852.2 1384.8L853.2 1385.6L854.2 1386.5L855.2 1387.4L856.2 1388.2L857.2 1388.9L858.2 1389.5L859.2 1390.1L860.2 1390.7L861.2 1391.4L862.2 1392L863.2 1392.5L864.2 1392.5L865.2 1392.4L866.2 1392.3L867.2 1392.1L868.2 1391.9L869.2 1392.3L870.2 1392.6L871.2 1393L872.2 1393.3L873.2 1393.7L874.2 1394L875.2 1394.4L876.2 1394.7L877.2 1394.7L878.2 1394.6L879.2 1394.5L880.2 1394.3L881.2 1394.4L882.2 1394.5L883.2 1394.6L884.2 1394.7L885.2 1394.7L886.2 1394.9L887.2 1395.4L888.2 1395.9L889.2 1396.3L890.2 1396.8L891.2 1397.3L892.2 1397.6L893.2 1397.7L894.2 1397.7L895.2 1397.8L896.2 1397.8L897.2 1397.8L898.2 1398.1L899.2 1398.4L900.2 1398.8L901.2 1399L902.2 1399.2L903.2 1399.4L904.2 1399.5L905.2 1399.7L906.2 1399.9L907.2 1400L908.2 1400.5L909.2 1401L910.2 1401.5L911.2 1401.9L912.2 1402.4L913.2 1402.9L914.2 1402.9L915.2 1402.8L916.2 1402.6L917.2 1402.5L918.2 1402.3L919.2 1402.2L920.2 1402L921.2 1402.2L922.2 1402.5L923.2 1402.7L924.2 1402.9L925.2 1402.9L926.2 1402.8L927.2 1402.7L928.2 1402.6L929.2 1402.4L930.2 1402.3L931.2 1402.5L932.2 1402.9L933.2 1403.4L934.2 1403.8L935.2 1404.2L936.2 1404.6L937.2 1404.7L938.2 1404.4L939.2 1404.2L940.2 1403.9L941.2 1403.6L942.2 1403.3L943.2 1403.1L944.2 1403.2L945.2 1403.3L946.2 1403.4L947.2 1403.5L948.2 1403.6L949.2 1403.7L950.2 1403.9L951.2 1404.3L952.2 1404.7L953.2 1405.2L954.2 1405.6L955.2 1405.6L956.2 1405.5L957.2 1405.5L958.2 1405.4L959.2 1405.4L960.2 1405.3L961.2 1405.4L962.2 1405.5L963.2 1405.7L964.2 1405.8L965.2 1406L966.2 1406.2L967.2 1406.3L968.2 1406.4L969.2 1406.3L970.2 1406.2L971.2 1406.1L972.2 1406L973.2 1405.9L974.2 1405.7L975.2 1405.6L976.2 1405.9L977.2 1406.5L978.2 1407.1L979.2 1407.7L980.2 1407.5L981.2 1407.3L982.2 1407.2L983.2 1407L984.2 1406.9L985.2 1406.7L986.2 1406.6L987.2 1407.4L988.2 1408.3L989.2 1409.1L990.2 1409L991.2 1408.8L992.2 1408.5L993.2 1408.2L994.2 1408L995.2 1408L996.2 1408.2L997.2 1408.4L998.2 1408.7L999.2 1408.7L1000.2 1408.7L1001.2 1408.7L1002.2 1408.7L1003.2 1408.7L1004.2 1408.7L1005.2 1408.6L1006.2 1408.5L1007.2 1408.3L1008.2 1408.1L1009.2 1407.9L1010.2 1407.9L1011.2 1407.9L1012.2 1408L1013.2 1408.1L1014.2 1408.1L1015.2 1408.2L1016.2 1408.3L1017.2 1408.8L1018.2 1409.4L1019.2 1409.9L1020.2 1410.5L1021.2 1411L1022.2 1411L1023.2 1410.9L1024.2 1410.9L1025.2 1410.9L1026.2 1410.9L1027.2 1411L1028.2 1411L1029.2 1411L1030.2 1411L1031.2 1411L1032.2 1410.9L1033.2 1410.7L1034.2 1410.5L1035.2 1410.3L1036.2 1410.1L1037.2 1409.9L1038.2 1409.9L1039.2 1410L1040.2 1410.1L1041.2 1410.2L1042.2 1410.3L1043.2 1410.4L1044.2 1410.6L1045.2 1410.7L1046.2 1410.8L1047.2 1411L1048.2 1411.1L1049.2 1411.4L1050.2 1411.9L1051.2 1412.4L1052.2 1412.9L1053.2 1413.4L1054.2 1413.6L1055.2 1413.7L1056.2 1413.7L1057.2 1413.8L1058.2 1413.8L1059.2 1413.9L1060.2 1413.8L1061.2 1413.6L1062.2 1413.3L1063.2 1413.1L1064.2 1412.8L1065.2 1412.7L1066.2 1412.8L1067.2 1412.8L1068.2 1412.9L1069.2 1412.9L1070.2 1413L1071.2 1413L1072.2 1413L1073.2 1413L1074.2 1413L1075.2 1413L1076.2 1413.1L1077.2 1413.1L1078.2 1413.1L1079.2 1413.4L1080.2 1413.6L1081.2 1413.9L1082.2 1414.2L1083.2 1414.5L1084.2 1414.8L1085.2 1415.1L1086.2 1415L1087.2 1414.8L1088.2 1414.5L1089.2 1414.3L1090.2 1414.1L1091.2 1413.9L1092.2 1413.6L1093.2 1413.4L1094.2 1413.1L1095.2 1412.8L1096.2 1413.4L1097.2 1413.9L1098.2 1414.4L1099.2 1414.9L1100.2 1414.8L1101.2 1414.6L1102.2 1414.4L1103.2 1414.2L1104.2 1414L1105.2 1413.7L1106.2 1413.7L1107.2 1413.8L1108.2 1414L1109.2 1414.1L1110.2 1414.2L1111.2 1414.3L1112.2 1414.3L1113.2 1414.1L1114.2 1413.8L1115.2 1413.5L1116.2 1413.2L1117.2 1412.8L1118.2 1412.4L1119.2 1411.8L1120.2 1411.1L1121.2 1410.3L1122.2 1409.4L1123.2 1408.4L1124.2 1407.2L1125.2 1406L1126.2 1404.5L1127.2 1402.7L1128.2 1400.7L1129.2 1398.4L1130.2 1396L1131.2 1393.2L1132.2 1390.1L1133.2 1386.5L1134.2 1382.5L1135.2 1377.6L1136.2 1372.5L1137.2 1366.8L1138.2 1360.6L1139.2 1353.9L1140.2 1346.7L1141.2 1339.3L1142.2 1331.3L1143.2 1322.8L1144.2 1313.7L1145.2 1304L1146.2 1293.7L1147.2 1282.8L1148.2 1270.9L1149.2 1258.5L1150.2 1245.8L1151.2 1232.7L1152.2 1219.4L1153.2 1206.5L1154.2 1193.6L1155.2 1180.9L1156.2 1168.4L1157.2 1156.4L1158.2 1144.9L1159.2 1134.1L1160.2 1124.2L1161.2 1115.2L1162.2 1107.4L1163.2 1100.7L1164.2 1095.3L1165.2 1091.3L1166.2 1088.8L1167.2 1087.7L1168.2 1088.2L1169.2 1090.1L1170.2 1093.3L1171.2 1098L1172.2 1103.9L1173.2 1111.1L1174.2 1119.5L1175.2 1128.9L1176.2 1139.3L1177.2 1150.7L1178.2 1162.8L1179.2 1175.3L1180.2 1188.2L1181.2 1201.3L1182.2 1214.1L1183.2 1226.8L1184.2 1239.4L1185.2 1251.8L1186.2 1263.8L1187.2 1275.5L1188.2 1286.9L1189.2 1298L1190.2 1308.5L1191.2 1318.4L1192.2 1327.8L1193.2 1336.6L1194.2 1344.7L1195.2 1352.2L1196.2 1359.1L1197.2 1365.4L1198.2 1371.2L1199.2 1376.5L1200.2 1381.1L1201.2 1385.2L1202.2 1388.8L1203.2 1392L1204.2 1394.8L1205.2 1397.2L1206.2 1399.3L1207.2 1401.1L1208.2 1402.6L1209.2 1403.9L1210.2 1404.9L1211.2 1405.9L1212.2 1407.1L1213.2 1408.4L1214.2 1409.7L1215.2 1410.9L1216.2 1412.1L1217.2 1413.3L1218.2 1414.3L1219.2 1414.8L1220.2 1415.3L1221.2 1415.7L1222.2 1416.1L1223.2 1416.4L1224.2 1416.8L1225.2 1417.2L1226.2 1417.4L1227.2 1417.7L1228.2 1417.9L1229.2 1418.1L1230.2 1418.3L1231.2 1418.5L1232.2 1418.6L1233.2 1418.7L1234.2 1418.8L1235.2 1418.8L1236.2 1418.8L1237.2 1418.9L1238.2 1418.9L1239.2 1419L1240.2 1419.1L1241.2 1419.1L1242.2 1419.2L1243.2 1419.3L1244.2 1419.4L1245.2 1419.5L1246.2 1419.6L1247.2 1419.7L1248.2 1419.8L1249.2 1419.7L1250.2 1419.4L1251.2 1419.2L1252.2 1419L1253.2 1418.8L1254.2 1418.5L1255.2 1418.8L1256.2 1419.2L1257.2 1419.6L1258.2 1420L1259.2 1420L1260.2 1419.9L1261.2 1419.9L1262.2 1419.9L1263.2 1419.8L1264.2 1420L1265.2 1420.2L1266.2 1420.5L1267.2 1420.8L1268.2 1421.1L1269.2 1421.4L1270.2 1421.4L1271.2 1421.4L1272.2 1421.3L1273.2 1421.1L1274.2 1420.9L1275.2 1420.6L1276.2 1420.4L1277.2 1420.5L1278.2 1420.8L1279.2 1421.1L1280.2 1421.4L1281.2 1421.3L1282.2 1421.3L1283.2 1421.3L1284.2 1421.4L1285.2 1421.8L1286.2 1422.1L1287.2 1422.4L1288.2 1422.6L1289.2 1422.7L1290.2 1422.9" fill="none" stroke="#000" stroke-width="3" stroke-linejoin="round"/>
<path d="M730.2 1383.5L731.2 1383.5L732.2 1383.6L733.2 1383.6L734.2 1383.7L735.2 1383.7L736.2 1383.8L737.2 1383.9L738.2 1383.9L739.2 1384L740.2 1384L741.2 1384.1L742.2 1384.1L743.2 1384.2L744.2 1384.2L745.2 1384.3L746.2 1384.3L747.2 1384.3L748.2 1384.4L749.2 1384.4L750.2 1384.4L751.2 1384.5L752.2 1384.5L753.2 1384.5L754.2 1384.5L755.2 1384.5L756.2 1384.5L757.2 1384.4L758.2 1384.4L759.2 1384.3L760.2 1384.2L761.2 1384L762.2 1383.8L763.2 1383.6L764.2 1383.3L765.2 1383L766.2 1382.5L767.2 1382L768.2 1381.4L769.2 1380.6L770.2 1379.7L771.2 1378.7L772.2 1377.4L773.2 1376L774.2 1374.4L775.2 1372.5L776.2 1370.4L777.2 1367.9L778.2 1365.2L779.2 1362.1L780.2 1358.7L781.2 1354.9L782.2 1350.6L783.2 1346L784.2 1340.9L785.2 1335.5L786.2 1329.5L787.2 1323.2L788.2 1316.4L789.2 1309.2L790.2 1301.7L791.2 1293.8L792.2 1285.6L793.2 1277.1L794.2 1268.4L795.2 1259.6L796.2 1250.8L797.2 1241.9L798.2 1233.2L799.2 1224.6L800.2 1216.3L801.2 1208.4L802.2 1200.9L803.2 1193.9L804.2 1187.6L805.2 1182L806.2 1177.2L807.2 1173.3L808.2 1170.3L809.2 1168.3L810.2 1167.2L811.2 1167.2L812.2 1168.2L813.2 1170.2L814.2 1173.1L815.2 1177L816.2 1181.8L817.2 1187.3L818.2 1193.6L819.2 1200.6L820.2 1208.1L821.2 1216.1L822.2 1224.5L823.2 1233.2L824.2 1242L825.2 1251L826.2 1260L827.2 1269L828.2 1277.8L829.2 1286.5L830.2 1294.8L831.2 1303L832.2 1310.7L833.2 1318.1L834.2 1325.1L835.2 1331.7L836.2 1337.8L837.2 1343.6L838.2 1348.8L839.2 1353.7L840.2 1358.1L841.2 1362.2L842.2 1365.8L843.2 1369.1L844.2 1372.1L845.2 1374.7L846.2 1377L847.2 1379.1L848.2 1380.9L849.2 1382.5L850.2 1383.9L851.2 1385.1L852.2 1386.2L853.2 1387.1L854.2 1387.9L855.2 1388.6L856.2 1389.2L857.2 1389.7L858.2 1390.1L859.2 1390.5L860.2 1390.9L861.2 1391.2L862.2 1391.4L863.2 1391.6L864.2 1391.8L865.2 1392L866.2 1392.2L867.2 1392.3L868.2 1392.5L869.2 1392.6L870.2 1392.7L871.2 1392.8L872.2 1393L873.2 1393.1L874.2 1393.2L875.2 1393.3L876.2 1393.4L877.2 1393.4L878.2 1393.5L879.2 1393.6L880.2 1393.7L881.2 1393.8L882.2 1393.9L883.2 1394L884.2 1394.1L885.2 1394.2L886.2 1394.2L887.2 1394.3L888.2 1394.4L889.2 1394.5L890.2 1394.6L891.2 1394.6L892.2 1394.7L893.2 1394.8L894.2 1394.9L895.2 1395L896.2 1395.1L897.2 1395.1L898.2 1395.2L899.2 1395.3L900.2 1395.4L901.2 1395.4L902.2 1395.5L903.2 1395.6L904.2 1395.7L905.2 1395.8L906.2 1395.8L907.2 1395.9L908.2 1396L909.2 1396.1L910.2 1396.1L911.2 1396.2L912.2 1396.3L913.2 1396.4L914.2 1396.4L915.2 1396.5L916.2 1396.6L917.2 1396.7L918.2 1396.7L919.2 1396.8L920.2 1396.9L921.2 1397L922.2 1397L923.2 1397.1L924.2 1397.2L925.2 1397.3L926.2 1397.3L927.2 1397.4L928.2 1397.5L929.2 1397.5L930.2 1397.6L931.2 1397.7L932.2 1397.8L933.2 1397.8L934.2 1397.9L935.2 1398L936.2 1398.1L937.2 1398.1L938.2 1398.2L939.2 1398.3L940.2 1398.3L941.2 1398.4L942.2 1398.5L943.2 1398.6L944.2 1398.6L945.2 1398.7L946.2 1398.8L947.2 1398.8L948.2 1398.9L949.2 1399L950.2 1399.1L951.2 1399.1L952.2 1399.2L953.2 1399.3L954.2 1399.3L955.2 1399.4L956.2 1399.5L957.2 1399.6L958.2 1399.6L959.2 1399.7L960.2 1399.8L961.2 1399.8L962.2 1399.9L963.2 1400L964.2 1400L965.2 1400.1L966.2 1400.2L967.2 1400.3L968.2 1400.3L969.2 1400.4L970.2 1400.5L971.2 1400.5L972.2 1400.6L973.2 1400.7L974.2 1400.7L975.2 1400.8L976.2 1400.9L977.2 1401L978.2 1401L979.2 1401.1L980.2 1401.2L981.2 1401.2L982.2 1401.3L983.2 1401.4L984.2 1401.4L985.2 1401.5L986.2 1401.6L987.2 1401.7L988.2 1401.7L989.2 1401.8L990.2 1401.9L991.2 1401.9L992.2 1402L993.2 1402.1L994.2 1402.1L995.2 1402.2L996.2 1402.3L997.2 1402.3L998.2 1402.4L999.2 1402.5L1000.2 1402.5L1001.2 1402.6L1002.2 1402.7L1003.2 1402.8L1004.2 1402.8L1005.2 1402.9L1006.2 1403L1007.2 1403L1008.2 1403.1L1009.2 1403.2L1010.2 1403.2L1011.2 1403.3L1012.2 1403.4L1013.2 1403.4L1014.2 1403.5L1015.2 1403.6L1016.2 1403.6L1017.2 1403.7L1018.2 1403.8L1019.2 1403.8L1020.2 1403.9L1021.2 1404L1022.2 1404L1023.2 1404.1L1024.2 1404.2L1025.2 1404.2L1026.2 1404.3L1027.2 1404.4L1028.2 1404.4L1029.2 1404.5L1030.2 1404.6L1031.2 1404.6L1032.2 1404.7L1033.2 1404.8L1034.2 1404.8L1035.2 1404.9L1036.2 1405L1037.2 1405L1038.2 1405.1L1039.2 1405.2L1040.2 1405.2L1041.2 1405.3L1042.2 1405.4L1043.2 1405.4L1044.2 1405.5L1045.2 1405.6L1046.2 1405.6L1047.2 1405.7L1048.2 1405.8L1049.2 1405.8L1050.2 1405.9L1051.2 1406L1052.2 1406L1053.2 1406.1L1054.2 1406.1L1055.2 1406.2L1056.2 1406.3L1057.2 1406.3L1058.2 1406.4L1059.2 1406.5L1060.2 1406.5L1061.2 1406.6L1062.2 1406.6L1063.2 1406.7L1064.2 1406.8L1065.2 1406.8L1066.2 1406.9L1067.2 1407L1068.2 1407L1069.2 1407.1L1070.2 1407.1L1071.2 1407.2L1072.2 1407.3L1073.2 1407.3L1074.2 1407.4L1075.2 1407.4L1076.2 1407.5L1077.2 1407.5L1078.2 1407.6L1079.2 1407.7L1080.2 1407.7L1081.2 1407.8L1082.2 1407.8L1083.2 1407.9L1084.2 1407.9L1085.2 1408L1086.2 1408L1087.2 1408.1L1088.2 1408.2L1089.2 1408.2L1090.2 1408.3L1091.2 1408.3L1092.2 1408.4L1093.2 1408.4L1094.2 1408.4L1095.2 1408.5L1096.2 1408.5L1097.2 1408.6L1098.2 1408.6L1099.2 1408.7L1100.2 1408.7L1101.2 1408.7L1102.2 1408.8L1103.2 1408.8L1104.2 1408.8L1105.2 1408.9L1106.2 1408.9L1107.2 1408.9L1108.2 1408.9L1109.2 1408.9L1110.2 1408.9L1111.2 1408.8L1112.2 1408.8L1113.2 1408.7L1114.2 1408.6L1115.2 1408.5L1116.2 1408.4L1117.2 1408.2L1118.2 1407.9L1119.2 1407.6L1120.2 1407.2L1121.2 1406.7L1122.2 1406.2L1123.2 1405.5L1124.2 1404.7L1125.2 1403.7L1126.2 1402.5L1127.2 1401.2L1128.2 1399.6L1129.2 1397.7L1130.2 1395.6L1131.2 1393.1L1132.2 1390.3L1133.2 1387L1134.2 1383.3L1135.2 1379.2L1136.2 1374.5L1137.2 1369.4L1138.2 1363.6L1139.2 1357.3L1140.2 1350.3L1141.2 1342.7L1142.2 1334.4L1143.2 1325.5L1144.2 1316L1145.2 1305.9L1146.2 1295.1L1147.2 1283.8L1148.2 1272L1149.2 1259.8L1150.2 1247.2L1151.2 1234.3L1152.2 1221.2L1153.2 1208.1L1154.2 1195L1155.2 1182.1L1156.2 1169.4L1157.2 1157.3L1158.2 1145.6L1159.2 1134.7L1160.2 1124.7L1161.2 1115.6L1162.2 1107.6L1163.2 1100.8L1164.2 1095.3L1165.2 1091.3L1166.2 1088.6L1167.2 1087.5L1168.2 1087.9L1169.2 1089.8L1170.2 1093.1L1171.2 1097.9L1172.2 1104L1173.2 1111.4L1174.2 1120L1175.2 1129.7L1176.2 1140.2L1177.2 1151.6L1178.2 1163.6L1179.2 1176.1L1180.2 1189L1181.2 1202.1L1182.2 1215.4L1183.2 1228.7L1184.2 1241.8L1185.2 1254.7L1186.2 1267.3L1187.2 1279.6L1188.2 1291.3L1189.2 1302.5L1190.2 1313.2L1191.2 1323.2L1192.2 1332.6L1193.2 1341.4L1194.2 1349.5L1195.2 1357L1196.2 1363.9L1197.2 1370.1L1198.2 1375.8L1199.2 1380.9L1200.2 1385.5L1201.2 1389.6L1202.2 1393.2L1203.2 1396.4L1204.2 1399.3L1205.2 1401.7L1206.2 1403.9L1207.2 1405.8L1208.2 1407.4L1209.2 1408.9L1210.2 1410.1L1211.2 1411.1L1212.2 1412L1213.2 1412.8L1214.2 1413.5L1215.2 1414L1216.2 1414.5L1217.2 1415L1218.2 1415.3L1219.2 1415.7L1220.2 1415.9L1221.2 1416.2L1222.2 1416.4L1223.2 1416.6L1224.2 1416.8L1225.2 1416.9L1226.2 1417.1L1227.2 1417.2L1228.2 1417.4L1229.2 1417.5L1230.2 1417.6L1231.2 1417.7L1232.2 1417.8L1233.2 1417.9L1234.2 1418L1235.2 1418.1L1236.2 1418.2L1237.2 1418.3L1238.2 1418.4L1239.2 1418.5L1240.2 1418.6L1241.2 1418.7L1242.2 1418.8L1243.2 1418.9L1244.2 1419L1245.2 1419.1L1246.2 1419.2L1247.2 1419.3L1248.2 1419.4L1249.2 1419.4L1250.2 1419.5L1251.2 1419.6L1252.2 1419.7L1253.2 1419.8L1254.2 1419.9L1255.2 1420L1256.2 1420L1257.2 1420.1L1258.2 1420.2L1259.2 1420.3L1260.2 1420.4L1261.2 1420.4L1262.2 1420.5L1263.2 1420.6L1264.2 1420.7L1265.2 1420.8L1266.2 1420.8L1267.2 1420.9L1268.2 1421L1269.2 1421.1L1270.2 1421.2L1271.2 1421.2L1272.2 1421.3L1273.2 1421.4L1274.2 1421.5L1275.2 1421.6L1276.2 1421.6L1277.2 1421.7L1278.2 1421.8L1279.2 1421.9L1280.2 1421.9L1281.2 1422L1282.2 1422.1L1283.2 1422.2L1284.2 1422.2L1285.2 1422.3L1286.2 1422.4L1287.2 1422.5L1288.2 1422.5L1289.2 1422.6L1290.2 1422.7" fill="none" stroke="#ff0000" stroke-width="3" stroke-linejoin="round"/>
<path d="M730.2 1384L731.2 1384.1L732.2 1384.1L733.2 1384.2L734.2 1384.3L735.2 1384.3L736.2 1384.4L737.2 1384.5L738.2 1384.6L739.2 1384.6L740.2 1384.7L741.2 1384.8L742.2 1384.8L743.2 1384.9L744.2 1385L745.2 1385L746.2 1385.1L747.2 1385.2L748.2 1385.3L749.2 1385.3L750.2 1385.4L751.2 1385.5L752.2 1385.5L753.2 1385.6L754.2 1385.7L755.2 1385.7L756.2 1385.8L757.2 1385.9L758.2 1386L759.2 1386L760.2 1386.1L761.2 1386.2L762.2 1386.2L763.2 1386.3L764.2 1386.4L765.2 1386.4L766.2 1386.5L767.2 1386.6L768.2 1386.6L769.2 1386.7L770.2 1386.8L771.2 1386.9L772.2 1386.9L773.2 1387L774.2 1387.1L775.2 1387.1L776.2 1387.2L777.2 1387.3L778.2 1387.3L779.2 1387.4L780.2 1387.5L781.2 1387.6L782.2 1387.6L783.2 1387.7L784.2 1387.8L785.2 1387.8L786.2 1387.9L787.2 1388L788.2 1388L789.2 1388.1L790.2 1388.2L791.2 1388.3L792.2 1388.3L793.2 1388.4L794.2 1388.5L795.2 1388.5L796.2 1388.6L797.2 1388.7L798.2 1388.7L799.2 1388.8L800.2 1388.9L801.2 1388.9L802.2 1389L803.2 1389.1L804.2 1389.2L805.2 1389.2L806.2 1389.3L807.2 1389.4L808.2 1389.4L809.2 1389.5L810.2 1389.6L811.2 1389.6L812.2 1389.7L813.2 1389.8L814.2 1389.9L815.2 1389.9L816.2 1390L817.2 1390.1L818.2 1390.1L819.2 1390.2L820.2 1390.3L821.2 1390.3L822.2 1390.4L823.2 1390.5L824.2 1390.6L825.2 1390.6L826.2 1390.7L827.2 1390.8L828.2 1390.8L829.2 1390.9L830.2 1391L831.2 1391L832.2 1391.1L833.2 1391.2L834.2 1391.2L835.2 1391.3L836.2 1391.4L837.2 1391.5L838.2 1391.5L839.2 1391.6L840.2 1391.7L841.2 1391.7L842.2 1391.8L843.2 1391.9L844.2 1391.9L845.2 1392L846.2 1392.1L847.2 1392.2L848.2 1392.2L849.2 1392.3L850.2 1392.4L851.2 1392.4L852.2 1392.5L853.2 1392.6L854.2 1392.6L855.2 1392.7L856.2 1392.8L857.2 1392.9L858.2 1392.9L859.2 1393L860.2 1393.1L861.2 1393.1L862.2 1393.2L863.2 1393.3L864.2 1393.3L865.2 1393.4L866.2 1393.5L867.2 1393.5L868.2 1393.6L869.2 1393.7L870.2 1393.8L871.2 1393.8L872.2 1393.9L873.2 1394L874.2 1394L875.2 1394.1L876.2 1394.2L877.2 1394.2L878.2 1394.3L879.2 1394.4L880.2 1394.5L881.2 1394.5L882.2 1394.6L883.2 1394.7L884.2 1394.7L885.2 1394.8L886.2 1394.9L887.2 1394.9L888.2 1395L889.2 1395.1L890.2 1395.2L891.2 1395.2L892.2 1395.3L893.2 1395.4L894.2 1395.4L895.2 1395.5L896.2 1395.6L897.2 1395.6L898.2 1395.7L899.2 1395.8L900.2 1395.8L901.2 1395.9L902.2 1396L903.2 1396.1L904.2 1396.1L905.2 1396.2L906.2 1396.3L907.2 1396.3L908.2 1396.4L909.2 1396.5L910.2 1396.5L911.2 1396.6L912.2 1396.7L913.2 1396.8L914.2 1396.8L915.2 1396.9L916.2 1397L917.2 1397L918.2 1397.1L919.2 1397.2L920.2 1397.2L921.2 1397.3L922.2 1397.4L923.2 1397.5L924.2 1397.5L925.2 1397.6L926.2 1397.7L927.2 1397.7L928.2 1397.8L929.2 1397.9L930.2 1397.9L931.2 1398L932.2 1398.1L933.2 1398.2L934.2 1398.2L935.2 1398.3L936.2 1398.4L937.2 1398.4L938.2 1398.5L939.2 1398.6L940.2 1398.6L941.2 1398.7L942.2 1398.8L943.2 1398.8L944.2 1398.9L945.2 1399L946.2 1399.1L947.2 1399.1L948.2 1399.2L949.2 1399.3L950.2 1399.3L951.2 1399.4L952.2 1399.5L953.2 1399.5L954.2 1399.6L955.2 1399.7L956.2 1399.8L957.2 1399.8L958.2 1399.9L959.2 1400L960.2 1400L961.2 1400.1L962.2 1400.2L963.2 1400.2L964.2 1400.3L965.2 1400.4L966.2 1400.5L967.2 1400.5L968.2 1400.6L969.2 1400.7L970.2 1400.7L971.2 1400.8L972.2 1400.9L973.2 1400.9L974.2 1401L975.2 1401.1L976.2 1401.1L977.2 1401.2L978.2 1401.3L979.2 1401.4L980.2 1401.4L981.2 1401.5L982.2 1401.6L983.2 1401.6L984.2 1401.7L985.2 1401.8L986.2 1401.8L987.2 1401.9L988.2 1402L989.2 1402.1L990.2 1402.1L991.2 1402.2L992.2 1402.3L993.2 1402.3L994.2 1402.4L995.2 1402.5L996.2 1402.5L997.2 1402.6L998.2 1402.7L999.2 1402.8L1000.2 1402.8L1001.2 1402.9L1002.2 1403L1003.2 1403L1004.2 1403.1L1005.2 1403.2L1006.2 1403.2L1007.2 1403.3L1008.2 1403.4L1009.2 1403.4L1010.2 1403.5L1011.2 1403.6L1012.2 1403.7L1013.2 1403.7L1014.2 1403.8L1015.2 1403.9L1016.2 1403.9L1017.2 1404L1018.2 1404.1L1019.2 1404.1L1020.2 1404.2L1021.2 1404.3L1022.2 1404.4L1023.2 1404.4L1024.2 1404.5L1025.2 1404.6L1026.2 1404.6L1027.2 1404.7L1028.2 1404.8L1029.2 1404.8L1030.2 1404.9L1031.2 1405L1032.2 1405.1L1033.2 1405.1L1034.2 1405.2L1035.2 1405.3L1036.2 1405.3L1037.2 1405.4L1038.2 1405.5L1039.2 1405.5L1040.2 1405.6L1041.2 1405.7L1042.2 1405.7L1043.2 1405.8L1044.2 1405.9L1045.2 1406L1046.2 1406L1047.2 1406.1L1048.2 1406.2L1049.2 1406.2L1050.2 1406.3L1051.2 1406.4L1052.2 1406.4L1053.2 1406.5L1054.2 1406.6L1055.2 1406.7L1056.2 1406.7L1057.2 1406.8L1058.2 1406.9L1059.2 1406.9L1060.2 1407L1061.2 1407.1L1062.2 1407.1L1063.2 1407.2L1064.2 1407.3L1065.2 1407.4L1066.2 1407.4L1067.2 1407.5L1068.2 1407.6L1069.2 1407.6L1070.2 1407.7L1071.2 1407.8L1072.2 1407.8L1073.2 1407.9L1074.2 1408L1075.2 1408L1076.2 1408.1L1077.2 1408.2L1078.2 1408.3L1079.2 1408.3L1080.2 1408.4L1081.2 1408.5L1082.2 1408.5L1083.2 1408.6L1084.2 1408.7L1085.2 1408.7L1086.2 1408.8L1087.2 1408.9L1088.2 1409L1089.2 1409L1090.2 1409.1L1091.2 1409.2L1092.2 1409.2L1093.2 1409.3L1094.2 1409.4L1095.2 1409.4L1096.2 1409.5L1097.2 1409.6L1098.2 1409.7L1099.2 1409.7L1100.2 1409.8L1101.2 1409.9L1102.2 1409.9L1103.2 1410L1104.2 1410.1L1105.2 1410.1L1106.2 1410.2L1107.2 1410.3L1108.2 1410.3L1109.2 1410.4L1110.2 1410.5L1111.2 1410.6L1112.2 1410.6L1113.2 1410.7L1114.2 1410.8L1115.2 1410.8L1116.2 1410.9L1117.2 1411L1118.2 1411L1119.2 1411.1L1120.2 1411.2L1121.2 1411.3L1122.2 1411.3L1123.2 1411.4L1124.2 1411.5L1125.2 1411.5L1126.2 1411.6L1127.2 1411.7L1128.2 1411.7L1129.2 1411.8L1130.2 1411.9L1131.2 1412L1132.2 1412L1133.2 1412.1L1134.2 1412.2L1135.2 1412.2L1136.2 1412.3L1137.2 1412.4L1138.2 1412.4L1139.2 1412.5L1140.2 1412.6L1141.2 1412.6L1142.2 1412.7L1143.2 1412.8L1144.2 1412.9L1145.2 1412.9L1146.2 1413L1147.2 1413.1L1148.2 1413.1L1149.2 1413.2L1150.2 1413.3L1151.2 1413.3L1152.2 1413.4L1153.2 1413.5L1154.2 1413.6L1155.2 1413.6L1156.2 1413.7L1157.2 1413.8L1158.2 1413.8L1159.2 1413.9L1160.2 1414L1161.2 1414L1162.2 1414.1L1163.2 1414.2L1164.2 1414.3L1165.2 1414.3L1166.2 1414.4L1167.2 1414.5L1168.2 1414.5L1169.2 1414.6L1170.2 1414.7L1171.2 1414.7L1172.2 1414.8L1173.2 1414.9L1174.2 1414.9L1175.2 1415L1176.2 1415.1L1177.2 1415.2L1178.2 1415.2L1179.2 1415.3L1180.2 1415.4L1181.2 1415.4L1182.2 1415.5L1183.2 1415.6L1184.2 1415.6L1185.2 1415.7L1186.2 1415.8L1187.2 1415.9L1188.2 1415.9L1189.2 1416L1190.2 1416.1L1191.2 1416.1L1192.2 1416.2L1193.2 1416.3L1194.2 1416.3L1195.2 1416.4L1196.2 1416.5L1197.2 1416.6L1198.2 1416.6L1199.2 1416.7L1200.2 1416.8L1201.2 1416.8L1202.2 1416.9L1203.2 1417L1204.2 1417L1205.2 1417.1L1206.2 1417.2L1207.2 1417.2L1208.2 1417.3L1209.2 1417.4L1210.2 1417.5L1211.2 1417.5L1212.2 1417.6L1213.2 1417.7L1214.2 1417.7L1215.2 1417.8L1216.2 1417.9L1217.2 1417.9L1218.2 1418L1219.2 1418.1L1220.2 1418.2L1221.2 1418.2L1222.2 1418.3L1223.2 1418.4L1224.2 1418.4L1225.2 1418.5L1226.2 1418.6L1227.2 1418.6L1228.2 1418.7L1229.2 1418.8L1230.2 1418.9L1231.2 1418.9L1232.2 1419L1233.2 1419.1L1234.2 1419.1L1235.2 1419.2L1236.2 1419.3L1237.2 1419.3L1238.2 1419.4L1239.2 1419.5L1240.2 1419.5L1241.2 1419.6L1242.2 1419.7L1243.2 1419.8L1244.2 1419.8L1245.2 1419.9L1246.2 1420L1247.2 1420L1248.2 1420.1L1249.2 1420.2L1250.2 1420.2L1251.2 1420.3L1252.2 1420.4L1253.2 1420.5L1254.2 1420.5L1255.2 1420.6L1256.2 1420.7L1257.2 1420.7L1258.2 1420.8L1259.2 1420.9L1260.2 1420.9L1261.2 1421L1262.2 1421.1L1263.2 1421.2L1264.2 1421.2L1265.2 1421.3L1266.2 1421.4L1267.2 1421.4L1268.2 1421.5L1269.2 1421.6L1270.2 1421.6L1271.2 1421.7L1272.2 1421.8L1273.2 1421.8L1274.2 1421.9L1275.2 1422L1276.2 1422.1L1277.2 1422.1L1278.2 1422.2L1279.2 1422.3L1280.2 1422.3L1281.2 1422.4L1282.2 1422.5L1283.2 1422.5L1284.2 1422.6L1285.2 1422.7L1286.2 1422.8L1287.2 1422.8L1288.2 1422.9L1289.2 1423L1290.2 1423" fill="none" stroke="#0000ff" stroke-width="3"/>
<path d="M730.2 1383.5L731.2 1383.6L732.2 1383.6L733.2 1383.7L734.2 1383.7L735.2 1383.8L736.2 1383.8L737.2 1383.9L738.2 1383.9L739.2 1384L740.2 1384L741.2 1384.1L742.2 1384.1L743.2 1384.2L744.2 1384.2L745.2 1384.3L746.2 1384.3L747.2 1384.4L748.2 1384.4L749.2 1384.4L750.2 1384.5L751.2 1384.5L752.2 1384.5L753.2 1384.5L754.2 1384.5L755.2 1384.5L756.2 1384.5L757.2 1384.5L758.2 1384.4L759.2 1384.3L760.2 1384.2L761.2 1384.1L762.2 1383.9L763.2 1383.6L764.2 1383.3L765.2 1383L766.2 1382.5L767.2 1382L768.2 1381.4L769.2 1380.6L770.2 1379.7L771.2 1378.7L772.2 1377.5L773.2 1376.1L774.2 1374.4L775.2 1372.6L776.2 1370.4L777.2 1368L778.2 1365.2L779.2 1362.2L780.2 1358.7L781.2 1354.9L782.2 1350.7L783.2 1346L784.2 1341L785.2 1335.5L786.2 1329.6L787.2 1323.2L788.2 1316.4L789.2 1309.3L790.2 1301.7L791.2 1293.8L792.2 1285.6L793.2 1277.1L794.2 1268.5L795.2 1259.7L796.2 1250.8L797.2 1242L798.2 1233.2L799.2 1224.6L800.2 1216.3L801.2 1208.4L802.2 1200.9L803.2 1194L804.2 1187.7L805.2 1182.1L806.2 1177.3L807.2 1173.4L808.2 1170.3L809.2 1168.3L810.2 1167.3L811.2 1167.2L812.2 1168.2L813.2 1170.2L814.2 1173.2L815.2 1177L816.2 1181.8L817.2 1187.4L818.2 1193.7L819.2 1200.6L820.2 1208.2L821.2 1216.2L822.2 1224.5L823.2 1233.2L824.2 1242.1L825.2 1251.1L826.2 1260.1L827.2 1269L828.2 1277.8L829.2 1286.5L830.2 1294.9L831.2 1303L832.2 1310.8L833.2 1318.2L834.2 1325.2L835.2 1331.7L836.2 1337.9L837.2 1343.6L838.2 1348.9L839.2 1353.7L840.2 1358.2L841.2 1362.2L842.2 1365.9L843.2 1369.2L844.2 1372.1L845.2 1374.7L846.2 1377.1L847.2 1379.1L848.2 1381L849.2 1382.6L850.2 1384L851.2 1385.2L852.2 1386.2L853.2 1387.2L854.2 1387.9L855.2 1388.6L856.2 1389.2L857.2 1389.7L858.2 1390.2L859.2 1390.6L860.2 1390.9L861.2 1391.2L862.2 1391.5L863.2 1391.7L864.2 1391.9L865.2 1392.1L866.2 1392.2L867.2 1392.4L868.2 1392.5L869.2 1392.7L870.2 1392.8L871.2 1392.9L872.2 1393L873.2 1393.1L874.2 1393.2L875.2 1393.3L876.2 1393.4L877.2 1393.5L878.2 1393.6L879.2 1393.7L880.2 1393.8L881.2 1393.9L882.2 1394L883.2 1394L884.2 1394.1L885.2 1394.2L886.2 1394.3L887.2 1394.4L888.2 1394.5L889.2 1394.5L890.2 1394.6L891.2 1394.7L892.2 1394.8L893.2 1394.9L894.2 1395L895.2 1395L896.2 1395.1L897.2 1395.2L898.2 1395.3L899.2 1395.4L900.2 1395.4L901.2 1395.5L902.2 1395.6L903.2 1395.7L904.2 1395.7L905.2 1395.8L906.2 1395.9L907.2 1396L908.2 1396.1L909.2 1396.1L910.2 1396.2L911.2 1396.3L912.2 1396.4L913.2 1396.4L914.2 1396.5L915.2 1396.6L916.2 1396.7L916.2 1397L910.2 1396.5L904.2 1396.1L898.2 1395.7L892.2 1395.3L886.2 1394.9L880.2 1394.5L874.2 1394L868.2 1393.6L862.2 1393.2L856.2 1392.8L850.2 1392.4L844.2 1391.9L838.2 1391.5L832.2 1391.1L826.2 1390.7L820.2 1390.3L814.2 1389.9L808.2 1389.4L802.2 1389L796.2 1388.6L790.2 1388.2L784.2 1387.8L778.2 1387.3L772.2 1386.9L766.2 1386.5L760.2 1386.1L754.2 1385.7L748.2 1385.3L742.2 1384.8L736.2 1384.4L730.2 1384Z" fill="url(#g11)"/>
<path d="M1040.2 1405.3L1041.2 1405.4L1042.2 1405.4L1043.2 1405.5L1044.2 1405.6L1045.2 1405.6L1046.2 1405.7L1047.2 1405.8L1048.2 1405.8L1049.2 1405.9L1050.2 1405.9L1051.2 1406L1052.2 1406.1L1053.2 1406.1L1054.2 1406.2L1055.2 1406.3L1056.2 1406.3L1057.2 1406.4L1058.2 1406.5L1059.2 1406.5L1060.2 1406.6L1061.2 1406.6L1062.2 1406.7L1063.2 1406.8L1064.2 1406.8L1065.2 1406.9L1066.2 1406.9L1067.2 1407L1068.2 1407.1L1069.2 1407.1L1070.2 1407.2L1071.2 1407.2L1072.2 1407.3L1073.2 1407.4L1074.2 1407.4L1075.2 1407.5L1076.2 1407.5L1077.2 1407.6L1078.2 1407.7L1079.2 1407.7L1080.2 1407.8L1081.2 1407.8L1082.2 1407.9L1083.2 1407.9L1084.2 1408L1085.2 1408L1086.2 1408.1L1087.2 1408.1L1088.2 1408.2L1089.2 1408.2L1090.2 1408.3L1091.2 1408.3L1092.2 1408.4L1093.2 1408.4L1094.2 1408.5L1095.2 1408.5L1096.2 1408.6L1097.2 1408.6L1098.2 1408.7L1099.2 1408.7L1100.2 1408.7L1101.2 1408.8L1102.2 1408.8L1103.2 1408.8L1104.2 1408.9L1105.2 1408.9L1106.2 1408.9L1107.2 1408.9L1108.2 1408.9L1109.2 1408.9L1110.2 1408.9L1111.2 1408.9L1112.2 1408.8L1113.2 1408.8L1114.2 1408.7L1115.2 1408.6L1116.2 1408.4L1117.2 1408.2L1118.2 1407.9L1119.2 1407.6L1120.2 1407.3L1121.2 1406.8L1122.2 1406.2L1123.2 1405.5L1124.2 1404.7L1125.2 1403.7L1126.2 1402.6L1127.2 1401.2L1128.2 1399.6L1129.2 1397.8L1130.2 1395.6L1131.2 1393.1L1132.2 1390.3L1133.2 1387L1134.2 1383.4L1135.2 1379.2L1136.2 1374.6L1137.2 1369.4L1138.2 1363.6L1139.2 1357.3L1140.2 1350.3L1141.2 1342.7L1142.2 1334.5L1143.2 1325.6L1144.2 1316L1145.2 1305.9L1146.2 1295.2L1147.2 1283.9L1148.2 1272.1L1149.2 1259.8L1150.2 1247.2L1151.2 1234.3L1152.2 1221.3L1153.2 1208.1L1154.2 1195L1155.2 1182.1L1156.2 1169.5L1157.2 1157.3L1158.2 1145.7L1159.2 1134.8L1160.2 1124.7L1161.2 1115.6L1162.2 1107.6L1163.2 1100.8L1164.2 1095.4L1165.2 1091.3L1166.2 1088.7L1167.2 1087.5L1168.2 1087.9L1169.2 1089.8L1170.2 1093.1L1171.2 1097.9L1172.2 1104.1L1173.2 1111.5L1174.2 1120.1L1175.2 1129.7L1176.2 1140.2L1177.2 1151.6L1178.2 1163.6L1179.2 1176.1L1180.2 1189L1181.2 1202.2L1182.2 1215.4L1183.2 1228.7L1184.2 1241.8L1185.2 1254.8L1186.2 1267.4L1187.2 1279.6L1188.2 1291.3L1189.2 1302.5L1190.2 1313.2L1191.2 1323.2L1192.2 1332.7L1193.2 1341.4L1194.2 1349.6L1195.2 1357L1196.2 1363.9L1197.2 1370.1L1198.2 1375.8L1199.2 1380.9L1200.2 1385.5L1201.2 1389.6L1202.2 1393.2L1203.2 1396.4L1204.2 1399.3L1205.2 1401.8L1206.2 1403.9L1207.2 1405.8L1208.2 1407.5L1209.2 1408.9L1210.2 1410.1L1211.2 1411.1L1212.2 1412.1L1213.2 1412.8L1214.2 1413.5L1215.2 1414.1L1216.2 1414.6L1217.2 1415L1218.2 1415.4L1219.2 1415.7L1220.2 1416L1221.2 1416.2L1222.2 1416.4L1223.2 1416.6L1224.2 1416.8L1225.2 1417L1226.2 1417.1L1227.2 1417.3L1228.2 1417.4L1229.2 1417.5L1230.2 1417.6L1231.2 1417.7L1232.2 1417.9L1233.2 1418L1234.2 1418.1L1235.2 1418.2L1236.2 1418.3L1237.2 1418.4L1238.2 1418.5L1239.2 1418.6L1240.2 1418.7L1241.2 1418.7L1242.2 1418.8L1243.2 1418.9L1244.2 1419L1245.2 1419.1L1246.2 1419.2L1247.2 1419.3L1248.2 1419.4L1249.2 1419.5L1250.2 1419.5L1251.2 1419.6L1252.2 1419.7L1253.2 1419.8L1254.2 1419.9L1255.2 1420L1256.2 1420.1L1257.2 1420.1L1258.2 1420.2L1259.2 1420.3L1260.2 1420.4L1261.2 1420.5L1262.2 1420.5L1263.2 1420.6L1264.2 1420.7L1265.2 1420.8L1266.2 1420.9L1267.2 1420.9L1268.2 1421L1269.2 1421.1L1270.2 1421.2L1271.2 1421.3L1272.2 1421.3L1273.2 1421.4L1274.2 1421.5L1275.2 1421.6L1276.2 1421.6L1277.2 1421.7L1278.2 1421.8L1279.2 1421.9L1280.2 1422L1281.2 1422L1282.2 1422.1L1283.2 1422.2L1284.2 1422.3L1285.2 1422.3L1286.2 1422.4L1287.2 1422.5L1288.2 1422.6L1289.2 1422.6L1290.2 1422.7L1290.2 1423L1286.2 1422.8L1280.2 1422.3L1274.2 1421.9L1268.2 1421.5L1262.2 1421.1L1256.2 1420.7L1250.2 1420.2L1244.2 1419.8L1238.2 1419.4L1232.2 1419L1226.2 1418.6L1220.2 1418.2L1214.2 1417.7L1208.2 1417.3L1202.2 1416.9L1196.2 1416.5L1190.2 1416.1L1184.2 1415.6L1178.2 1415.2L1172.2 1414.8L1166.2 1414.4L1160.2 1414L1154.2 1413.6L1148.2 1413.1L1142.2 1412.7L1136.2 1412.3L1130.2 1411.9L1124.2 1411.5L1118.2 1411L1112.2 1410.6L1106.2 1410.2L1100.2 1409.8L1094.2 1409.4L1088.2 1409L1082.2 1408.5L1076.2 1408.1L1070.2 1407.7L1064.2 1407.3L1058.2 1406.9L1052.2 1406.4L1046.2 1406L1040.2 1405.6Z" fill="url(#g12)"/>
<path d="M730.2 1383.5L731.2 1383.6L732.2 1383.6L733.2 1383.7L734.2 1383.7L735.2 1383.8L736.2 1383.8L737.2 1383.9L738.2 1383.9L739.2 1384L740.2 1384L741.2 1384.1L742.2 1384.1L743.2 1384.2L744.2 1384.2L745.2 1384.3L746.2 1384.3L747.2 1384.4L748.2 1384.4L749.2 1384.4L750.2 1384.5L751.2 1384.5L752.2 1384.5L753.2 1384.5L754.2 1384.5L755.2 1384.5L756.2 1384.5L757.2 1384.5L758.2 1384.4L759.2 1384.3L760.2 1384.2L761.2 1384.1L762.2 1383.9L763.2 1383.6L764.2 1383.3L765.2 1383L766.2 1382.5L767.2 1382L768.2 1381.4L769.2 1380.6L770.2 1379.7L771.2 1378.7L772.2 1377.5L773.2 1376.1L774.2 1374.4L775.2 1372.6L776.2 1370.4L777.2 1368L778.2 1365.2L779.2 1362.2L780.2 1358.7L781.2 1354.9L782.2 1350.7L783.2 1346L784.2 1341L785.2 1335.5L786.2 1329.6L787.2 1323.2L788.2 1316.4L789.2 1309.3L790.2 1301.7L791.2 1293.8L792.2 1285.6L793.2 1277.1L794.2 1268.5L795.2 1259.7L796.2 1250.8L797.2 1242L798.2 1233.2L799.2 1224.6L800.2 1216.3L801.2 1208.4L802.2 1200.9L803.2 1194L804.2 1187.7L805.2 1182.1L806.2 1177.3L807.2 1173.4L808.2 1170.3L809.2 1168.3L810.2 1167.3L811.2 1167.2L812.2 1168.2L813.2 1170.2L814.2 1173.2L815.2 1177L816.2 1181.8L817.2 1187.4L818.2 1193.7L819.2 1200.6L820.2 1208.2L821.2 1216.2L822.2 1224.5L823.2 1233.2L824.2 1242.1L825.2 1251.1L826.2 1260.1L827.2 1269L828.2 1277.8L829.2 1286.5L830.2 1294.9L831.2 1303L832.2 1310.8L833.2 1318.2L834.2 1325.2L835.2 1331.7L836.2 1337.9L837.2 1343.6L838.2 1348.9L839.2 1353.7L840.2 1358.2L841.2 1362.2L842.2 1365.9L843.2 1369.2L844.2 1372.1L845.2 1374.7L846.2 1377.1L847.2 1379.1L848.2 1381L849.2 1382.6L850.2 1384L851.2 1385.2L852.2 1386.2L853.2 1387.2L854.2 1387.9L855.2 1388.6L856.2 1389.2L857.2 1389.7L858.2 1390.2L859.2 1390.6L860.2 1390.9L861.2 1391.2L862.2 1391.5L863.2 1391.7L864.2 1391.9L865.2 1392.1L866.2 1392.2L867.2 1392.4L868.2 1392.5L869.2 1392.7L870.2 1392.8L871.2 1392.9L872.2 1393L873.2 1393.1L874.2 1393.2L875.2 1393.3L876.2 1393.4L877.2 1393.5L878.2 1393.6L879.2 1393.7L880.2 1393.8L881.2 1393.9L882.2 1394L883.2 1394L884.2 1394.1L885.2 1394.2L886.2 1394.3L887.2 1394.4L888.2 1394.5L889.2 1394.5L890.2 1394.6L891.2 1394.7L892.2 1394.8L893.2 1394.9L894.2 1395L895.2 1395L896.2 1395.1L897.2 1395.2L898.2 1395.3L899.2 1395.4L900.2 1395.4L901.2 1395.5L902.2 1395.6L903.2 1395.7L904.2 1395.7L905.2 1395.8L906.2 1395.9L907.2 1396L908.2 1396.1L909.2 1396.1L910.2 1396.2L911.2 1396.3L912.2 1396.4L913.2 1396.4L914.2 1396.5L915.2 1396.6L916.2 1396.7L917.2 1396.7L918.2 1396.8L919.2 1396.9L920.2 1397L921.2 1397L922.2 1397.1L923.2 1397.2L924.2 1397.3L925.2 1397.3L926.2 1397.4L927.2 1397.5L928.2 1397.6L929.2 1397.6L930.2 1397.7L931.2 1397.8L932.2 1397.9L933.2 1397.9L934.2 1398L935.2 1398.1L936.2 1398.1L937.2 1398.2L938.2 1398.3L939.2 1398.4L940.2 1398.4L941.2 1398.5L942.2 1398.6L943.2 1398.7L944.2 1398.7L945.2 1398.8L946.2 1398.9L947.2 1398.9L948.2 1399L949.2 1399.1L950.2 1399.2L951.2 1399.2L952.2 1399.3L953.2 1399.4L954.2 1399.4L955.2 1399.5L956.2 1399.6L957.2 1399.7L958.2 1399.7L959.2 1399.8L960.2 1399.9L961.2 1400L962.2 1400L963.2 1400.1L964.2 1400.2L965.2 1400.2L966.2 1400.3L967.2 1400.4L968.2 1400.5L969.2 1400.5L970.2 1400.6L971.2 1400.7L972.2 1400.7L973.2 1400.8L974.2 1400.9L975.2 1401L976.2 1401L977.2 1401.1L978.2 1401.2L979.2 1401.2L980.2 1401.3L981.2 1401.4L982.2 1401.4L983.2 1401.5L984.2 1401.6L985.2 1401.7L986.2 1401.7L987.2 1401.8L988.2 1401.9L989.2 1401.9L990.2 1402L991.2 1402.1L992.2 1402.2L993.2 1402.2L994.2 1402.3L995.2 1402.4L996.2 1402.4L997.2 1402.5L998.2 1402.6L999.2 1402.7L1000.2 1402.7L1001.2 1402.8L1002.2 1402.9L1003.2 1402.9L1004.2 1403L1005.2 1403.1L1006.2 1403.1L1007.2 1403.2L1008.2 1403.3L1009.2 1403.4L1010.2 1403.4L1011.2 1403.5L1012.2 1403.6L1013.2 1403.6L1014.2 1403.7L1015.2 1403.8L1016.2 1403.9L1017.2 1403.9L1018.2 1404L1019.2 1404.1L1020.2 1404.1L1021.2 1404.2L1022.2 1404.3L1023.2 1404.3L1024.2 1404.4L1025.2 1404.5L1026.2 1404.6L1027.2 1404.6L1028.2 1404.7L1029.2 1404.8L1030.2 1404.8L1031.2 1404.9L1032.2 1405L1033.2 1405.1L1034.2 1405.1L1035.2 1405.2L1036.2 1405.3L1037.2 1405.3L1038.2 1405.4L1039.2 1405.5L1040.2 1405.5L1041.2 1405.6L1042.2 1405.7L1043.2 1405.8L1044.2 1405.8L1045.2 1405.9L1046.2 1406L1047.2 1406L1048.2 1406.1L1049.2 1406.2L1050.2 1406.2L1051.2 1406.3L1052.2 1406.4L1053.2 1406.5L1054.2 1406.5L1055.2 1406.6L1056.2 1406.7L1057.2 1406.7L1058.2 1406.8L1059.2 1406.9L1060.2 1406.9L1061.2 1407L1062.2 1407.1L1063.2 1407.2L1064.2 1407.2L1065.2 1407.3L1066.2 1407.4L1067.2 1407.4L1068.2 1407.5L1069.2 1407.6L1070.2 1407.6L1071.2 1407.7L1072.2 1407.8L1073.2 1407.9L1074.2 1407.9L1075.2 1408L1076.2 1408.1L1077.2 1408.1L1078.2 1408.2L1079.2 1408.3L1080.2 1408.3L1081.2 1408.4L1082.2 1408.5L1083.2 1408.6L1084.2 1408.6L1085.2 1408.7L1086.2 1408.8L1087.2 1408.8L1088.2 1408.9L1089.2 1409L1090.2 1409L1091.2 1409.1L1092.2 1409.2L1093.2 1409.3L1094.2 1409.3L1095.2 1409.4L1096.2 1409.5L1097.2 1409.5L1098.2 1409.6L1099.2 1409.7L1100.2 1409.7L1101.2 1409.8L1102.2 1409.9L1103.2 1410L1104.2 1410L1105.2 1410.1L1106.2 1410.2L1107.2 1410.2L1108.2 1410.3L1109.2 1410.4L1110.2 1410.4L1111.2 1410.5L1112.2 1410.6L1113.2 1410.7L1114.2 1410.7L1115.2 1410.8L1116.2 1410.9L1117.2 1410.9L1118.2 1411L1119.2 1411.1L1120.2 1411.1L1121.2 1411.2L1122.2 1411.3L1123.2 1411.4L1124.2 1411.4L1125.2 1411.5L1126.2 1411.6L1127.2 1411.6L1128.2 1411.7L1129.2 1411.8L1130.2 1411.8L1131.2 1411.9L1132.2 1412L1133.2 1412.1L1134.2 1412.1L1135.2 1412.2L1136.2 1412.3L1137.2 1412.3L1138.2 1412.4L1139.2 1412.5L1140.2 1412.5L1141.2 1412.6L1142.2 1412.7L1143.2 1412.8L1144.2 1412.8L1145.2 1412.9L1146.2 1413L1147.2 1413L1148.2 1413.1L1149.2 1413.2L1150.2 1413.2L1151.2 1413.3L1152.2 1413.4L1153.2 1413.5L1154.2 1413.5L1155.2 1413.6L1156.2 1413.7L1157.2 1413.7L1158.2 1413.8L1159.2 1413.9L1160.2 1413.9L1161.2 1414L1162.2 1414.1L1163.2 1414.2L1164.2 1414.2L1165.2 1414.3L1166.2 1414.4L1167.2 1414.4L1168.2 1414.5L1169.2 1414.6L1170.2 1414.6L1171.2 1414.7L1172.2 1414.8L1173.2 1414.9L1174.2 1414.9L1175.2 1415L1176.2 1415.1L1177.2 1415.1L1178.2 1415.2L1179.2 1415.3L1180.2 1415.3L1181.2 1415.4L1182.2 1415.5L1183.2 1415.6L1184.2 1415.6L1185.2 1415.7L1186.2 1415.8L1187.2 1415.8L1188.2 1415.9L1189.2 1416L1190.2 1416L1191.2 1416.1L1192.2 1416.2L1193.2 1416.2L1194.2 1416.3L1195.2 1416.4L1196.2 1416.5L1197.2 1416.5L1198.2 1416.6L1199.2 1416.7L1200.2 1416.7L1201.2 1416.8L1202.2 1416.9L1203.2 1416.9L1204.2 1417L1205.2 1417.1L1206.2 1417.2L1207.2 1417.2L1208.2 1417.3L1209.2 1417.4L1210.2 1417.4L1211.2 1417.5L1212.2 1417.6L1213.2 1417.6L1214.2 1417.7L1215.2 1417.8L1216.2 1417.9L1217.2 1417.9L1218.2 1418L1219.2 1418.1L1220.2 1418.1L1221.2 1418.2L1222.2 1418.3L1223.2 1418.3L1224.2 1418.4L1225.2 1418.5L1226.2 1418.6L1227.2 1418.6L1228.2 1418.7L1229.2 1418.8L1230.2 1418.8L1231.2 1418.9L1232.2 1419L1233.2 1419L1234.2 1419.1L1235.2 1419.2L1236.2 1419.3L1237.2 1419.3L1238.2 1419.4L1239.2 1419.5L1240.2 1419.5L1241.2 1419.6L1242.2 1419.7L1243.2 1419.7L1244.2 1419.8L1245.2 1419.9L1246.2 1419.9L1247.2 1420L1248.2 1420.1L1249.2 1420.2L1250.2 1420.2L1251.2 1420.3L1252.2 1420.4L1253.2 1420.4L1254.2 1420.5L1255.2 1420.6L1256.2 1420.6L1257.2 1420.7L1258.2 1420.8L1259.2 1420.9L1260.2 1420.9L1261.2 1421L1262.2 1421.1L1263.2 1421.1L1264.2 1421.2L1265.2 1421.3L1266.2 1421.3L1267.2 1421.4L1268.2 1421.5L1269.2 1421.6L1270.2 1421.6L1271.2 1421.7L1272.2 1421.8L1273.2 1421.8L1274.2 1421.9L1275.2 1422L1276.2 1422L1277.2 1422.1L1278.2 1422.2L1279.2 1422.3L1280.2 1422.3L1281.2 1422.4L1282.2 1422.5L1283.2 1422.5L1284.2 1422.6L1285.2 1422.7L1286.2 1422.7L1287.2 1422.8L1288.2 1422.9L1289.2 1423L1290.2 1423" fill="none" stroke="#00a040" stroke-width="3" stroke-opacity="0.6"/>
<path d="M730.2 1384L731.2 1384L732.2 1384.1L733.2 1384.2L734.2 1384.3L735.2 1384.3L736.2 1384.4L737.2 1384.5L738.2 1384.5L739.2 1384.6L740.2 1384.7L741.2 1384.7L742.2 1384.8L743.2 1384.9L744.2 1384.9L745.2 1385L746.2 1385.1L747.2 1385.2L748.2 1385.2L749.2 1385.3L750.2 1385.4L751.2 1385.4L752.2 1385.5L753.2 1385.6L754.2 1385.6L755.2 1385.7L756.2 1385.8L757.2 1385.9L758.2 1385.9L759.2 1386L760.2 1386.1L761.2 1386.1L762.2 1386.2L763.2 1386.3L764.2 1386.3L765.2 1386.4L766.2 1386.5L767.2 1386.5L768.2 1386.6L769.2 1386.7L770.2 1386.8L771.2 1386.8L772.2 1386.9L773.2 1387L774.2 1387L775.2 1387.1L776.2 1387.2L777.2 1387.2L778.2 1387.3L779.2 1387.4L780.2 1387.5L781.2 1387.5L782.2 1387.6L783.2 1387.7L784.2 1387.7L785.2 1387.8L786.2 1387.9L787.2 1387.9L788.2 1388L789.2 1388.1L790.2 1388.1L791.2 1388.2L792.2 1388.3L793.2 1388.4L794.2 1388.4L795.2 1388.5L796.2 1388.6L797.2 1388.6L798.2 1388.7L799.2 1388.8L800.2 1388.8L801.2 1388.9L802.2 1389L803.2 1389.1L804.2 1389.1L805.2 1389.2L806.2 1389.3L807.2 1389.3L808.2 1389.4L809.2 1389.5L810.2 1389.5L811.2 1389.6L812.2 1389.7L813.2 1389.7L814.2 1389.8L815.2 1389.9L816.2 1390L817.2 1390L818.2 1390.1L819.2 1390.2L820.2 1390.2L821.2 1390.3L822.2 1390.4L823.2 1390.4L824.2 1390.5L825.2 1390.6L826.2 1390.6L827.2 1390.7L828.2 1390.8L829.2 1390.9L830.2 1390.9L831.2 1391L832.2 1391.1L833.2 1391.1L834.2 1391.2L835.2 1391.3L836.2 1391.3L837.2 1391.4L838.2 1391.5L839.2 1391.6L840.2 1391.6L841.2 1391.7L842.2 1391.8L843.2 1391.8L844.2 1391.9L845.2 1392L846.2 1392L847.2 1392.1L848.2 1392.2L849.2 1392.2L850.2 1392.3L851.2 1392.4L852.2 1392.5L853.2 1392.5L854.2 1392.6L855.2 1392.7L856.2 1392.7L857.2 1392.8L858.2 1392.9L859.2 1392.9L860.2 1393L861.2 1393.1L862.2 1393.1L863.2 1393.2L864.2 1393.3L865.2 1393.4L866.2 1393.4L867.2 1393.5L868.2 1393.6L869.2 1393.6L870.2 1393.7L871.2 1393.8L872.2 1393.8L873.2 1393.9L874.2 1394L875.2 1394L876.2 1394.1L877.2 1394.2L878.2 1394.3L879.2 1394.3L880.2 1394.4L881.2 1394.5L882.2 1394.5L883.2 1394.6L884.2 1394.7L885.2 1394.7L886.2 1394.8L887.2 1394.9L888.2 1394.9L889.2 1395L890.2 1395.1L891.2 1395.2L892.2 1395.2L893.2 1395.3L894.2 1395.4L895.2 1395.4L896.2 1395.5L897.2 1395.6L898.2 1395.6L899.2 1395.7L900.2 1395.8L901.2 1395.8L902.2 1395.9L903.2 1396L904.2 1396.1L905.2 1396.1L906.2 1396.2L907.2 1396.3L908.2 1396.3L909.2 1396.4L910.2 1396.5L911.2 1396.5L912.2 1396.6L913.2 1396.7L914.2 1396.7L915.2 1396.8L916.2 1396.9L917.2 1397L918.2 1397L919.2 1397.1L920.2 1397.2L921.2 1397.2L922.2 1397.3L923.2 1397.4L924.2 1397.4L925.2 1397.5L926.2 1397.6L927.2 1397.6L928.2 1397.7L929.2 1397.8L930.2 1397.9L931.2 1397.9L932.2 1398L933.2 1398.1L934.2 1398.1L935.2 1398.2L936.2 1398.3L937.2 1398.3L938.2 1398.4L939.2 1398.5L940.2 1398.5L941.2 1398.6L942.2 1398.7L943.2 1398.7L944.2 1398.8L945.2 1398.9L946.2 1399L947.2 1399L948.2 1399.1L949.2 1399.2L950.2 1399.2L951.2 1399.3L952.2 1399.4L953.2 1399.4L954.2 1399.5L955.2 1399.6L956.2 1399.6L957.2 1399.7L958.2 1399.8L959.2 1399.8L960.2 1399.9L961.2 1400L962.2 1400.1L963.2 1400.1L964.2 1400.2L965.2 1400.3L966.2 1400.3L967.2 1400.4L968.2 1400.5L969.2 1400.5L970.2 1400.6L971.2 1400.7L972.2 1400.7L973.2 1400.8L974.2 1400.9L975.2 1400.9L976.2 1401L977.2 1401.1L978.2 1401.1L979.2 1401.2L980.2 1401.3L981.2 1401.4L982.2 1401.4L983.2 1401.5L984.2 1401.6L985.2 1401.6L986.2 1401.7L987.2 1401.8L988.2 1401.8L989.2 1401.9L990.2 1402L991.2 1402L992.2 1402.1L993.2 1402.2L994.2 1402.2L995.2 1402.3L996.2 1402.4L997.2 1402.4L998.2 1402.5L999.2 1402.6L1000.2 1402.6L1001.2 1402.7L1002.2 1402.8L1003.2 1402.8L1004.2 1402.9L1005.2 1403L1006.2 1403L1007.2 1403.1L1008.2 1403.2L1009.2 1403.3L1010.2 1403.3L1011.2 1403.4L1012.2 1403.5L1013.2 1403.5L1014.2 1403.6L1015.2 1403.7L1016.2 1403.7L1017.2 1403.8L1018.2 1403.9L1019.2 1403.9L1020.2 1404L1021.2 1404.1L1022.2 1404.1L1023.2 1404.2L1024.2 1404.3L1025.2 1404.3L1026.2 1404.4L1027.2 1404.5L1028.2 1404.5L1029.2 1404.6L1030.2 1404.7L1031.2 1404.7L1032.2 1404.8L1033.2 1404.8L1034.2 1404.9L1035.2 1405L1036.2 1405L1037.2 1405.1L1038.2 1405.2L1039.2 1405.2L1040.2 1405.3L1041.2 1405.4L1042.2 1405.4L1043.2 1405.5L1044.2 1405.6L1045.2 1405.6L1046.2 1405.7L1047.2 1405.8L1048.2 1405.8L1049.2 1405.9L1050.2 1405.9L1051.2 1406L1052.2 1406.1L1053.2 1406.1L1054.2 1406.2L1055.2 1406.3L1056.2 1406.3L1057.2 1406.4L1058.2 1406.5L1059.2 1406.5L1060.2 1406.6L1061.2 1406.6L1062.2 1406.7L1063.2 1406.8L1064.2 1406.8L1065.2 1406.9L1066.2 1406.9L1067.2 1407L1068.2 1407.1L1069.2 1407.1L1070.2 1407.2L1071.2 1407.2L1072.2 1407.3L1073.2 1407.4L1074.2 1407.4L1075.2 1407.5L1076.2 1407.5L1077.2 1407.6L1078.2 1407.7L1079.2 1407.7L1080.2 1407.8L1081.2 1407.8L1082.2 1407.9L1083.2 1407.9L1084.2 1408L1085.2 1408L1086.2 1408.1L1087.2 1408.1L1088.2 1408.2L1089.2 1408.2L1090.2 1408.3L1091.2 1408.3L1092.2 1408.4L1093.2 1408.4L1094.2 1408.5L1095.2 1408.5L1096.2 1408.6L1097.2 1408.6L1098.2 1408.7L1099.2 1408.7L1100.2 1408.7L1101.2 1408.8L1102.2 1408.8L1103.2 1408.8L1104.2 1408.9L1105.2 1408.9L1106.2 1408.9L1107.2 1408.9L1108.2 1408.9L1109.2 1408.9L1110.2 1408.9L1111.2 1408.9L1112.2 1408.8L1113.2 1408.8L1114.2 1408.7L1115.2 1408.6L1116.2 1408.4L1117.2 1408.2L1118.2 1407.9L1119.2 1407.6L1120.2 1407.3L1121.2 1406.8L1122.2 1406.2L1123.2 1405.5L1124.2 1404.7L1125.2 1403.7L1126.2 1402.6L1127.2 1401.2L1128.2 1399.6L1129.2 1397.8L1130.2 1395.6L1131.2 1393.1L1132.2 1390.3L1133.2 1387L1134.2 1383.4L1135.2 1379.2L1136.2 1374.6L1137.2 1369.4L1138.2 1363.6L1139.2 1357.3L1140.2 1350.3L1141.2 1342.7L1142.2 1334.5L1143.2 1325.6L1144.2 1316L1145.2 1305.9L1146.2 1295.2L1147.2 1283.9L1148.2 1272.1L1149.2 1259.8L1150.2 1247.2L1151.2 1234.3L1152.2 1221.3L1153.2 1208.1L1154.2 1195L1155.2 1182.1L1156.2 1169.5L1157.2 1157.3L1158.2 1145.7L1159.2 1134.8L1160.2 1124.7L1161.2 1115.6L1162.2 1107.6L1163.2 1100.8L1164.2 1095.4L1165.2 1091.3L1166.2 1088.7L1167.2 1087.5L1168.2 1087.9L1169.2 1089.8L1170.2 1093.1L1171.2 1097.9L1172.2 1104.1L1173.2 1111.5L1174.2 1120.1L1175.2 1129.7L1176.2 1140.2L1177.2 1151.6L1178.2 1163.6L1179.2 1176.1L1180.2 1189L1181.2 1202.2L1182.2 1215.4L1183.2 1228.7L1184.2 1241.8L1185.2 1254.8L1186.2 1267.4L1187.2 1279.6L1188.2 1291.3L1189.2 1302.5L1190.2 1313.2L1191.2 1323.2L1192.2 1332.7L1193.2 1341.4L1194.2 1349.6L1195.2 1357L1196.2 1363.9L1197.2 1370.1L1198.2 1375.8L1199.2 1380.9L1200.2 1385.5L1201.2 1389.6L1202.2 1393.2L1203.2 1396.4L1204.2 1399.3L1205.2 1401.8L1206.2 1403.9L1207.2 1405.8L1208.2 1407.5L1209.2 1408.9L1210.2 1410.1L1211.2 1411.1L1212.2 1412.1L1213.2 1412.8L1214.2 1413.5L1215.2 1414.1L1216.2 1414.6L1217.2 1415L1218.2 1415.4L1219.2 1415.7L1220.2 1416L1221.2 1416.2L1222.2 1416.4L1223.2 1416.6L1224.2 1416.8L1225.2 1417L1226.2 1417.1L1227.2 1417.3L1228.2 1417.4L1229.2 1417.5L1230.2 1417.6L1231.2 1417.7L1232.2 1417.9L1233.2 1418L1234.2 1418.1L1235.2 1418.2L1236.2 1418.3L1237.2 1418.4L1238.2 1418.5L1239.2 1418.6L1240.2 1418.7L1241.2 1418.7L1242.2 1418.8L1243.2 1418.9L1244.2 1419L1245.2 1419.1L1246.2 1419.2L1247.2 1419.3L1248.2 1419.4L1249.2 1419.5L1250.2 1419.5L1251.2 1419.6L1252.2 1419.7L1253.2 1419.8L1254.2 1419.9L1255.2 1420L1256.2 1420.1L1257.2 1420.1L1258.2 1420.2L1259.2 1420.3L1260.2 1420.4L1261.2 1420.5L1262.2 1420.5L1263.2 1420.6L1264.2 1420.7L1265.2 1420.8L1266.2 1420.9L1267.2 1420.9L1268.2 1421L1269.2 1421.1L1270.2 1421.2L1271.2 1421.3L1272.2 1421.3L1273.2 1421.4L1274.2 1421.5L1275.2 1421.6L1276.2 1421.6L1277.2 1421.7L1278.2 1421.8L1279.2 1421.9L1280.2 1422L1281.2 1422L1282.2 1422.1L1283.2 1422.2L1284.2 1422.3L1285.2 1422.3L1286.2 1422.4L1287.2 1422.5L1288.2 1422.6L1289.2 1422.6L1290.2 1422.7" fill="none" stroke="#ff00ff" stroke-width="2.6" stroke-opacity="0.6"/>
</g>
<rect x="730.2" y="1041.7" width="559.5" height="415.8" fill="none" stroke="#000" stroke-width="3.2"/>
<text x="1258.6" y="1491.5" font-size="25" text-anchor="middle" >616</text>
<text x="1196.5" y="1491.5" font-size="25" text-anchor="middle" >618</text>
<text x="1134.3" y="1491.5" font-size="25" text-anchor="middle" >620</text>
<text x="1072.1" y="1491.5" font-size="25" text-anchor="middle" >622</text>
<text x="1010" y="1491.5" font-size="25" text-anchor="middle" >624</text>
<text x="947.8" y="1491.5" font-size="25" text-anchor="middle" >626</text>
<text x="885.6" y="1491.5" font-size="25" text-anchor="middle" >628</text>
<text x="823.5" y="1491.5" font-size="25" text-anchor="middle" >630</text>
<text x="761.3" y="1491.5" font-size="25" text-anchor="middle" >632</text>
<path d="M1289.7 1457.5V1463.5M1258.6 1457.5V1466.8M1227.5 1457.5V1463.5M1196.5 1457.5V1466.8M1165.4 1457.5V1463.5M1134.3 1457.5V1466.8M1103.2 1457.5V1463.5M1072.1 1457.5V1466.8M1041 1457.5V1463.5M1010 1457.5V1466.8M978.9 1457.5V1463.5M947.8 1457.5V1466.8M916.7 1457.5V1463.5M885.6 1457.5V1466.8M854.5 1457.5V1463.5M823.5 1457.5V1466.8M792.4 1457.5V1463.5M761.3 1457.5V1466.8M730.2 1457.5V1463.5" stroke="#000" stroke-width="2.6" fill="none"/>
<text x="902.7" y="1526.2" font-size="25" text-anchor="start" >Binding Energy (eV)</text>
<text transform="translate(693.5,1319.3) rotate(-90)" font-size="25">Intensity (a.u.)</text>
<text x="674.8" y="1060" font-size="25" text-anchor="start" >(f)</text>
<path d="M735.9 1060.6H781.8" stroke="#000000" stroke-width="2.8"/>
<text x="785.7" y="1067.5" font-size="25" text-anchor="start" >Experiment</text>
<path d="M735.9 1092H781.8" stroke="#ff0000" stroke-width="2.8"/>
<text x="785.7" y="1098.5" font-size="25" text-anchor="start" >Simulated</text>
<path d="M735.9 1122.6H781.8" stroke="#0000ff" stroke-width="2.8"/>
<text x="785.7" y="1129" font-size="25" text-anchor="start" >Background</text>
<text x="1129.9" y="1074.8" font-size="25">I<tspan font-size="14" dy="9.4">2</tspan><tspan dy="-9.4">-PbSe-T30</tspan></text>
<text x="833.2" y="1190.6" font-size="25">I3d<tspan font-size="15.5" dy="10.7">3/2</tspan></text>
<text x="1183" y="1129.7" font-size="25">I3d<tspan font-size="15.5" dy="10">5/2</tspan></text>
</svg></body></html>
